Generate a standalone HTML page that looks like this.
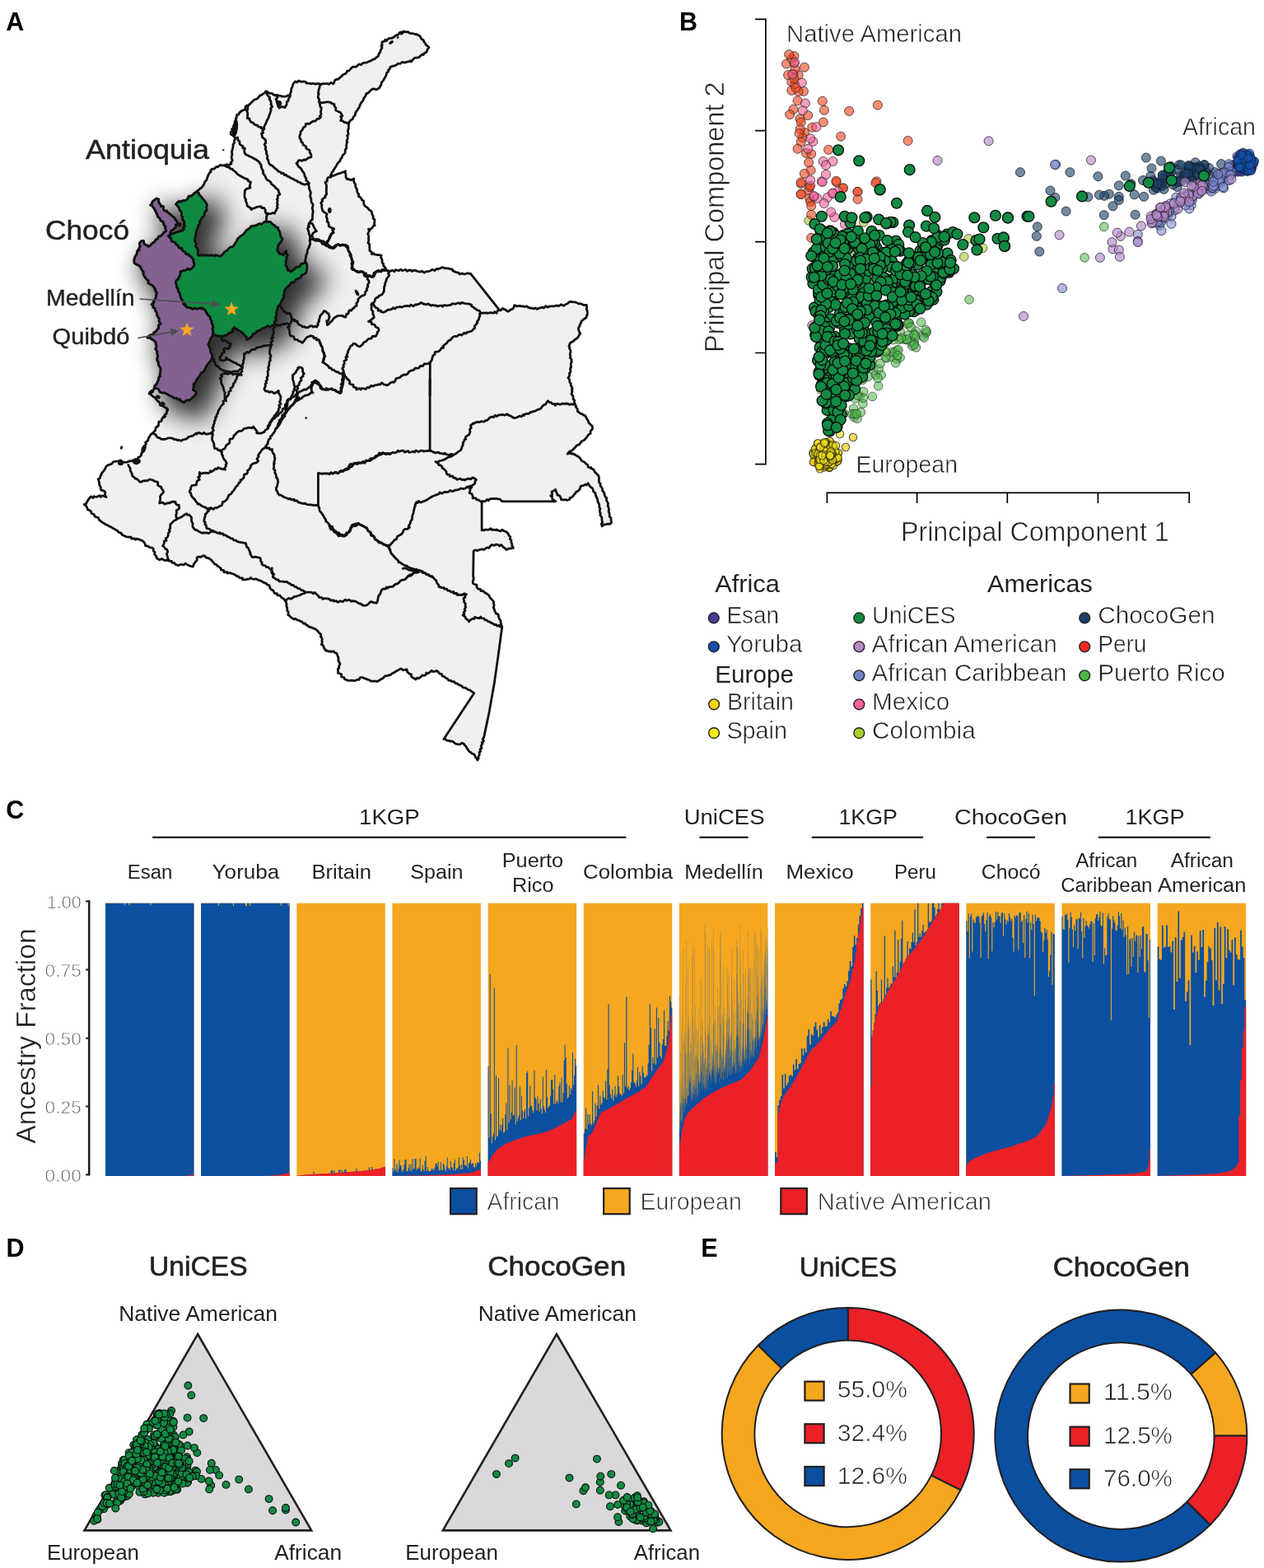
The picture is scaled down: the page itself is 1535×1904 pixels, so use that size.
<!DOCTYPE html>
<html lang="en">
<head>
<meta charset="utf-8">
<title>Genetic ancestry of Colombian populations</title>
<style>
html,body{margin:0;padding:0;background:#fff;}
body{width:1535px;height:1904px;overflow:hidden;}
svg{display:block;font-family:"Liberation Sans",sans-serif;}
</style>
</head>
<body>
<svg width="1535" height="1904" viewBox="0 0 1535 1904">
<text x="7.3" y="37.1" font-size="30.5" font-weight="bold" fill="#000">A</text>
<text x="825" y="36.8" font-size="30.5" font-weight="bold" fill="#000">B</text>
<text x="7.3" y="993.6" font-size="30.5" font-weight="bold" fill="#000">C</text>
<text x="7.6" y="1526.2" font-size="30.5" font-weight="bold" fill="#000">D</text>
<text x="851.2" y="1526.2" font-size="30.5" font-weight="bold" fill="#000">E</text>
<g stroke="#000" stroke-width="1.7" fill="none">
<path d="M917.1 23.4H929.9V563.6H917.1M917.1 158.6H929.9M917.1 293.6H929.9M917.1 428.5H929.9"/>
<path d="M1004.4 611.1V598.4H1444.2V611.1M1113.6 598.4V611.1M1223.3 598.4V611.1M1333.4 598.4V611.1"/>
</g>
<g fill="#f2cc14" fill-opacity="0.7" stroke="#2a2a10" stroke-opacity="0.8" stroke-width="1.1">
<circle cx="1009.4" cy="550.2" r="4.7"/><circle cx="992.0" cy="562.3" r="4.7"/><circle cx="992.0" cy="555.3" r="4.7"/><circle cx="1008.6" cy="558.0" r="4.7"/><circle cx="1001.0" cy="542.2" r="4.7"/><circle cx="1005.2" cy="546.9" r="4.7"/><circle cx="1003.6" cy="559.2" r="4.7"/><circle cx="1000.2" cy="545.2" r="4.7"/><circle cx="989.3" cy="555.3" r="4.7"/><circle cx="989.3" cy="560.9" r="4.7"/><circle cx="1006.1" cy="555.4" r="4.7"/><circle cx="998.3" cy="558.9" r="4.7"/><circle cx="999.6" cy="555.6" r="4.7"/><circle cx="1010.0" cy="561.2" r="4.7"/><circle cx="1002.2" cy="558.5" r="4.7"/><circle cx="1012.7" cy="548.8" r="4.7"/><circle cx="997.6" cy="549.5" r="4.7"/><circle cx="992.8" cy="539.0" r="4.7"/><circle cx="1011.1" cy="541.0" r="4.7"/><circle cx="1003.3" cy="548.0" r="4.7"/><circle cx="1009.3" cy="555.4" r="4.7"/><circle cx="987.7" cy="561.1" r="4.7"/><circle cx="1004.2" cy="554.8" r="4.7"/><circle cx="1005.1" cy="558.2" r="4.7"/><circle cx="1006.5" cy="538.8" r="4.7"/><circle cx="1002.0" cy="563.9" r="4.7"/><circle cx="999.2" cy="552.4" r="4.7"/><circle cx="997.4" cy="541.0" r="4.7"/><circle cx="999.5" cy="562.7" r="4.7"/><circle cx="1027.0" cy="543.0" r="4.7"/><circle cx="1002.1" cy="559.7" r="4.7"/><circle cx="996.6" cy="552.1" r="4.7"/><circle cx="1009.8" cy="554.5" r="4.7"/><circle cx="1002.8" cy="559.1" r="4.7"/><circle cx="994.0" cy="562.0" r="4.7"/><circle cx="1008.3" cy="550.5" r="4.7"/><circle cx="999.8" cy="550.2" r="4.7"/><circle cx="995.7" cy="549.1" r="4.7"/><circle cx="1002.4" cy="564.3" r="4.7"/><circle cx="997.4" cy="543.9" r="4.7"/><circle cx="1012.8" cy="544.1" r="4.7"/><circle cx="1012.5" cy="556.4" r="4.7"/><circle cx="993.6" cy="551.0" r="4.7"/><circle cx="1000.3" cy="567.6" r="4.7"/><circle cx="1005.0" cy="552.4" r="4.7"/><circle cx="1003.5" cy="556.7" r="4.7"/><circle cx="1007.1" cy="558.4" r="4.7"/><circle cx="1000.5" cy="562.1" r="4.7"/><circle cx="999.0" cy="557.9" r="4.7"/><circle cx="1007.4" cy="554.3" r="4.7"/><circle cx="993.9" cy="548.6" r="4.7"/><circle cx="999.8" cy="554.8" r="4.7"/><circle cx="1036.0" cy="531.0" r="4.7"/><circle cx="1009.7" cy="539.2" r="4.7"/><circle cx="1012.2" cy="543.2" r="4.7"/><circle cx="1005.9" cy="547.2" r="4.7"/><circle cx="999.2" cy="550.0" r="4.7"/><circle cx="1011.1" cy="560.1" r="4.7"/><circle cx="1003.4" cy="552.6" r="4.7"/><circle cx="996.8" cy="564.6" r="4.7"/><circle cx="987.4" cy="549.6" r="4.7"/><circle cx="1004.2" cy="555.3" r="4.7"/><circle cx="1009.9" cy="557.0" r="4.7"/><circle cx="1004.4" cy="538.8" r="4.7"/><circle cx="994.7" cy="559.0" r="4.7"/><circle cx="1013.8" cy="558.9" r="4.7"/><circle cx="990.0" cy="551.7" r="4.7"/><circle cx="995.7" cy="569.3" r="4.7"/><circle cx="1009.1" cy="541.9" r="4.7"/><circle cx="993.3" cy="548.0" r="4.7"/><circle cx="1007.1" cy="568.1" r="4.7"/><circle cx="1003.8" cy="554.4" r="4.7"/><circle cx="1009.3" cy="553.3" r="4.7"/><circle cx="1006.4" cy="562.0" r="4.7"/><circle cx="1012.5" cy="558.5" r="4.7"/><circle cx="998.2" cy="552.0" r="4.7"/><circle cx="1003.0" cy="557.1" r="4.7"/><circle cx="1005.9" cy="543.8" r="4.7"/><circle cx="1007.8" cy="567.2" r="4.7"/><circle cx="1002.0" cy="540.7" r="4.7"/><circle cx="1005.1" cy="557.7" r="4.7"/><circle cx="997.6" cy="559.2" r="4.7"/><circle cx="994.5" cy="555.3" r="4.7"/><circle cx="996.0" cy="546.0" r="4.7"/><circle cx="1000.9" cy="561.8" r="4.7"/><circle cx="1005.6" cy="553.0" r="4.7"/><circle cx="1007.7" cy="535.8" r="4.7"/><circle cx="1005.5" cy="564.4" r="4.7"/><circle cx="998.3" cy="556.7" r="4.7"/><circle cx="1003.9" cy="546.0" r="4.7"/><circle cx="1001.4" cy="565.4" r="4.7"/><circle cx="1005.4" cy="551.6" r="4.7"/>
</g>
<g fill="#f3e019" fill-opacity="0.65" stroke="#2a2a10" stroke-opacity="0.8" stroke-width="1.1">
<circle cx="1007.8" cy="559.6" r="4.7"/><circle cx="1012.1" cy="565.1" r="4.7"/><circle cx="1005.6" cy="544.3" r="4.7"/><circle cx="998.6" cy="561.2" r="4.7"/><circle cx="1005.3" cy="546.6" r="4.7"/><circle cx="994.6" cy="545.0" r="4.7"/><circle cx="1001.8" cy="557.9" r="4.7"/><circle cx="1016.2" cy="560.2" r="4.7"/><circle cx="1010.4" cy="545.6" r="4.7"/><circle cx="991.8" cy="544.7" r="4.7"/><circle cx="996.9" cy="555.9" r="4.7"/><circle cx="1006.7" cy="554.6" r="4.7"/><circle cx="1005.9" cy="561.7" r="4.7"/><circle cx="999.9" cy="538.0" r="4.7"/><circle cx="1017.6" cy="558.7" r="4.7"/><circle cx="1012.0" cy="498.0" r="4.7"/><circle cx="997.6" cy="559.4" r="4.7"/><circle cx="997.5" cy="556.4" r="4.7"/><circle cx="1002.5" cy="556.0" r="4.7"/><circle cx="1005.3" cy="558.8" r="4.7"/><circle cx="993.6" cy="554.5" r="4.7"/><circle cx="1011.7" cy="542.6" r="4.7"/><circle cx="1003.0" cy="537.1" r="4.7"/><circle cx="1002.5" cy="556.0" r="4.7"/><circle cx="1004.3" cy="539.8" r="4.7"/><circle cx="990.5" cy="544.9" r="4.7"/><circle cx="1006.6" cy="541.8" r="4.7"/><circle cx="1003.9" cy="552.2" r="4.7"/><circle cx="1003.1" cy="558.6" r="4.7"/><circle cx="1002.8" cy="556.7" r="4.7"/><circle cx="1017.3" cy="551.4" r="4.7"/><circle cx="987.8" cy="551.6" r="4.7"/><circle cx="1002.7" cy="549.1" r="4.7"/><circle cx="1001.1" cy="557.5" r="4.7"/><circle cx="1006.5" cy="549.2" r="4.7"/><circle cx="1012.9" cy="549.0" r="4.7"/><circle cx="995.0" cy="445.0" r="4.7"/><circle cx="1000.4" cy="558.5" r="4.7"/><circle cx="989.8" cy="545.3" r="4.7"/><circle cx="1016.6" cy="560.4" r="4.7"/><circle cx="1014.9" cy="557.7" r="4.7"/><circle cx="1000.6" cy="561.2" r="4.7"/><circle cx="1009.2" cy="558.1" r="4.7"/><circle cx="990.7" cy="549.9" r="4.7"/><circle cx="1010.2" cy="563.4" r="4.7"/><circle cx="1007.5" cy="559.6" r="4.7"/><circle cx="995.6" cy="557.6" r="4.7"/><circle cx="999.8" cy="541.7" r="4.7"/><circle cx="1007.5" cy="550.5" r="4.7"/><circle cx="1003.6" cy="563.6" r="4.7"/><circle cx="1004.6" cy="551.5" r="4.7"/><circle cx="994.9" cy="547.6" r="4.7"/><circle cx="997.2" cy="549.8" r="4.7"/><circle cx="993.4" cy="538.2" r="4.7"/><circle cx="1010.9" cy="549.3" r="4.7"/><circle cx="1005.3" cy="552.7" r="4.7"/><circle cx="1013.7" cy="557.3" r="4.7"/><circle cx="1001.5" cy="550.7" r="4.7"/><circle cx="1007.2" cy="560.5" r="4.7"/><circle cx="1014.6" cy="549.3" r="4.7"/><circle cx="1005.5" cy="545.2" r="4.7"/><circle cx="998.0" cy="551.0" r="4.7"/><circle cx="1018.1" cy="549.9" r="4.7"/><circle cx="995.8" cy="543.7" r="4.7"/><circle cx="1002.9" cy="558.9" r="4.7"/><circle cx="1011.2" cy="540.7" r="4.7"/><circle cx="1002.2" cy="545.3" r="4.7"/><circle cx="1000.0" cy="470.0" r="4.7"/><circle cx="1006.4" cy="561.0" r="4.7"/><circle cx="1001.9" cy="539.0" r="4.7"/><circle cx="1006.2" cy="554.9" r="4.7"/><circle cx="1002.1" cy="552.5" r="4.7"/><circle cx="1020.0" cy="527.0" r="4.7"/><circle cx="1003.4" cy="543.2" r="4.7"/><circle cx="1002.5" cy="560.9" r="4.7"/><circle cx="1000.6" cy="546.5" r="4.7"/><circle cx="997.0" cy="560.7" r="4.7"/><circle cx="1009.8" cy="556.1" r="4.7"/><circle cx="1016.5" cy="555.1" r="4.7"/><circle cx="995.8" cy="550.2" r="4.7"/><circle cx="1017.6" cy="555.9" r="4.7"/><circle cx="993.7" cy="552.8" r="4.7"/><circle cx="993.1" cy="550.9" r="4.7"/><circle cx="1014.4" cy="548.5" r="4.7"/><circle cx="1010.8" cy="551.1" r="4.7"/><circle cx="996.0" cy="553.5" r="4.7"/><circle cx="1003.0" cy="552.7" r="4.7"/><circle cx="1010.1" cy="552.0" r="4.7"/><circle cx="995.9" cy="565.8" r="4.7"/><circle cx="1007.0" cy="552.7" r="4.7"/><circle cx="994.7" cy="566.0" r="4.7"/><circle cx="1008.0" cy="555.6" r="4.7"/><circle cx="1009.3" cy="551.2" r="4.7"/><circle cx="1001.4" cy="539.0" r="4.7"/><circle cx="1015.0" cy="541.3" r="4.7"/><circle cx="996.2" cy="543.0" r="4.7"/><circle cx="995.6" cy="558.0" r="4.7"/><circle cx="1011.1" cy="558.5" r="4.7"/><circle cx="1008.8" cy="548.4" r="4.7"/><circle cx="1008.3" cy="554.1" r="4.7"/><circle cx="1000.3" cy="559.3" r="4.7"/><circle cx="998.3" cy="553.2" r="4.7"/><circle cx="1008.1" cy="553.0" r="4.7"/><circle cx="1001.1" cy="537.5" r="4.7"/>
</g>
<g fill="#a9cc2f" fill-opacity="0.6" stroke="#333" stroke-opacity="0.8" stroke-width="0.9">
<circle cx="1062.9" cy="341.0" r="5.3"/><circle cx="1062.0" cy="309.9" r="5.3"/><circle cx="996.1" cy="353.8" r="5.3"/><circle cx="1013.9" cy="351.7" r="5.3"/><circle cx="1019.8" cy="447.8" r="5.3"/><circle cx="1063.7" cy="350.4" r="5.3"/><circle cx="1001.9" cy="487.6" r="5.3"/><circle cx="1039.4" cy="376.5" r="5.3"/><circle cx="1018.6" cy="309.8" r="5.3"/><circle cx="1027.7" cy="367.6" r="5.3"/><circle cx="1014.9" cy="353.1" r="5.3"/><circle cx="1045.9" cy="425.6" r="5.3"/><circle cx="1004.2" cy="404.8" r="5.3"/><circle cx="1010.8" cy="481.2" r="5.3"/><circle cx="1076.3" cy="343.2" r="5.3"/><circle cx="1011.1" cy="416.3" r="5.3"/><circle cx="1031.4" cy="404.8" r="5.3"/><circle cx="1041.7" cy="392.9" r="5.3"/><circle cx="1026.1" cy="385.6" r="5.3"/><circle cx="1054.3" cy="315.5" r="5.3"/><circle cx="1048.8" cy="270.0" r="5.3"/><circle cx="1037.2" cy="368.7" r="5.3"/><circle cx="1055.6" cy="360.2" r="5.3"/><circle cx="1027.2" cy="378.6" r="5.3"/><circle cx="1170.8" cy="311.7" r="5.3"/><circle cx="996.7" cy="473.0" r="5.3"/><circle cx="1041.1" cy="338.0" r="5.3"/><circle cx="1065.0" cy="382.6" r="5.3"/><circle cx="1013.0" cy="306.2" r="5.3"/><circle cx="1039.7" cy="344.0" r="5.3"/><circle cx="1063.2" cy="390.2" r="5.3"/><circle cx="1075.9" cy="428.1" r="5.3"/><circle cx="1038.9" cy="300.7" r="5.3"/><circle cx="1006.7" cy="332.3" r="5.3"/><circle cx="1038.6" cy="305.0" r="5.3"/><circle cx="1011.0" cy="489.1" r="5.3"/><circle cx="1013.1" cy="479.5" r="5.3"/><circle cx="1040.3" cy="407.0" r="5.3"/><circle cx="1035.1" cy="360.4" r="5.3"/><circle cx="996.2" cy="355.5" r="5.3"/><circle cx="1193.7" cy="301.3" r="5.3"/><circle cx="1035.0" cy="327.9" r="5.3"/><circle cx="1057.6" cy="358.2" r="5.3"/><circle cx="1004.7" cy="350.8" r="5.3"/><circle cx="1064.3" cy="360.9" r="5.3"/><circle cx="998.8" cy="462.5" r="5.3"/><circle cx="1003.3" cy="372.1" r="5.3"/><circle cx="1176.0" cy="289.8" r="5.3"/><circle cx="1009.2" cy="318.1" r="5.3"/><circle cx="1079.4" cy="339.9" r="5.3"/><circle cx="1003.9" cy="404.8" r="5.3"/><circle cx="1024.2" cy="318.2" r="5.3"/><circle cx="997.4" cy="353.1" r="5.3"/><circle cx="996.7" cy="334.7" r="5.3"/><circle cx="1009.2" cy="494.9" r="5.3"/><circle cx="1034.9" cy="353.7" r="5.3"/><circle cx="1040.3" cy="425.9" r="5.3"/><circle cx="1037.9" cy="436.7" r="5.3"/><circle cx="1136.4" cy="280.9" r="5.3"/><circle cx="1004.1" cy="368.8" r="5.3"/><circle cx="1077.3" cy="304.4" r="5.3"/><circle cx="1046.8" cy="302.5" r="5.3"/><circle cx="1030.0" cy="389.2" r="5.3"/><circle cx="1036.6" cy="323.7" r="5.3"/><circle cx="1017.5" cy="309.7" r="5.3"/><circle cx="1055.9" cy="313.2" r="5.3"/><circle cx="1017.1" cy="349.7" r="5.3"/><circle cx="982.1" cy="267.9" r="5.3"/><circle cx="1082.7" cy="325.5" r="5.3"/><circle cx="1021.6" cy="468.0" r="5.3"/><circle cx="1045.7" cy="378.9" r="5.3"/><circle cx="1073.9" cy="324.0" r="5.3"/>
</g>
<g fill="#4db748" fill-opacity="0.55" stroke="#2a3a2a" stroke-opacity="0.8" stroke-width="0.9">
<circle cx="1073.7" cy="416.4" r="5.3"/><circle cx="1053.0" cy="444.2" r="5.3"/><circle cx="1031.7" cy="447.8" r="5.3"/><circle cx="1088.9" cy="425.2" r="5.3"/><circle cx="1043.7" cy="436.7" r="5.3"/><circle cx="1093.1" cy="402.4" r="5.3"/><circle cx="1047.8" cy="461.2" r="5.3"/><circle cx="1024.0" cy="483.7" r="5.3"/><circle cx="1075.7" cy="416.0" r="5.3"/><circle cx="1095.1" cy="411.9" r="5.3"/><circle cx="1120.9" cy="407.8" r="5.3"/><circle cx="1060.6" cy="449.5" r="5.3"/><circle cx="1089.2" cy="436.0" r="5.3"/><circle cx="1093.1" cy="434.1" r="5.3"/><circle cx="1036.6" cy="496.2" r="5.3"/><circle cx="1023.2" cy="474.8" r="5.3"/><circle cx="1030.3" cy="448.8" r="5.3"/><circle cx="1076.9" cy="434.7" r="5.3"/><circle cx="1124.7" cy="404.2" r="5.3"/><circle cx="1054.9" cy="432.0" r="5.3"/><circle cx="1059.4" cy="481.5" r="5.3"/><circle cx="1037.7" cy="473.0" r="5.3"/><circle cx="1104.3" cy="392.5" r="5.3"/><circle cx="1110.2" cy="415.9" r="5.3"/><circle cx="1034.5" cy="502.7" r="5.3"/><circle cx="1045.5" cy="445.9" r="5.3"/><circle cx="1047.8" cy="490.1" r="5.3"/><circle cx="1082.3" cy="433.4" r="5.3"/><circle cx="1044.4" cy="459.3" r="5.3"/><circle cx="1024.9" cy="502.1" r="5.3"/><circle cx="1112.3" cy="402.0" r="5.3"/><circle cx="1122.2" cy="410.0" r="5.3"/><circle cx="1023.4" cy="455.5" r="5.3"/><circle cx="1044.1" cy="481.0" r="5.3"/><circle cx="1125.2" cy="402.7" r="5.3"/><circle cx="1063.3" cy="455.2" r="5.3"/><circle cx="1057.0" cy="439.2" r="5.3"/><circle cx="1059.1" cy="438.7" r="5.3"/><circle cx="1054.2" cy="457.2" r="5.3"/><circle cx="1037.4" cy="506.7" r="5.3"/><circle cx="1083.5" cy="427.6" r="5.3"/><circle cx="1111.3" cy="410.0" r="5.3"/><circle cx="1038.3" cy="484.0" r="5.3"/><circle cx="1317.1" cy="312.8" r="5.3"/><circle cx="1086.7" cy="427.8" r="5.3"/><circle cx="1101.8" cy="393.4" r="5.3"/><circle cx="1091.0" cy="424.9" r="5.3"/><circle cx="1087.7" cy="440.7" r="5.3"/><circle cx="1044.3" cy="438.8" r="5.3"/><circle cx="1109.8" cy="405.2" r="5.3"/><circle cx="1103.2" cy="407.0" r="5.3"/><circle cx="1089.9" cy="431.7" r="5.3"/><circle cx="1024.2" cy="456.7" r="5.3"/><circle cx="1061.0" cy="428.3" r="5.3"/><circle cx="1020.1" cy="480.4" r="5.3"/><circle cx="1048.6" cy="475.6" r="5.3"/><circle cx="1340.7" cy="275.3" r="5.3"/><circle cx="1066.7" cy="468.5" r="5.3"/><circle cx="1048.4" cy="483.2" r="5.3"/><circle cx="1075.3" cy="434.0" r="5.3"/><circle cx="1118.7" cy="391.2" r="5.3"/><circle cx="1107.8" cy="420.1" r="5.3"/><circle cx="1103.3" cy="392.2" r="5.3"/><circle cx="1067.1" cy="448.2" r="5.3"/><circle cx="1100.1" cy="412.5" r="5.3"/><circle cx="1070.2" cy="455.3" r="5.3"/><circle cx="1106.5" cy="414.8" r="5.3"/><circle cx="1020.9" cy="466.8" r="5.3"/><circle cx="1041.0" cy="508.2" r="5.3"/><circle cx="1106.1" cy="397.2" r="5.3"/><circle cx="1177.0" cy="363.8" r="5.3"/><circle cx="1064.9" cy="422.3" r="5.3"/><circle cx="1101.2" cy="412.0" r="5.3"/><circle cx="1045.3" cy="500.6" r="5.3"/><circle cx="1094.6" cy="410.3" r="5.3"/><circle cx="1069.0" cy="441.4" r="5.3"/><circle cx="1022.2" cy="463.6" r="5.3"/><circle cx="1091.6" cy="412.5" r="5.3"/><circle cx="1084.7" cy="412.6" r="5.3"/><circle cx="1112.4" cy="421.9" r="5.3"/><circle cx="1029.5" cy="464.0" r="5.3"/><circle cx="1037.5" cy="502.7" r="5.3"/><circle cx="1041.4" cy="480.1" r="5.3"/><circle cx="1110.7" cy="407.2" r="5.3"/><circle cx="1030.2" cy="466.0" r="5.3"/><circle cx="1045.5" cy="438.8" r="5.3"/><circle cx="1032.4" cy="452.8" r="5.3"/><circle cx="1110.2" cy="418.7" r="5.3"/><circle cx="1066.1" cy="459.2" r="5.3"/><circle cx="1124.1" cy="400.5" r="5.3"/><circle cx="1075.5" cy="426.7" r="5.3"/><circle cx="1040.1" cy="502.6" r="5.3"/>
</g>
<g fill="#f0451f" fill-opacity="0.62" stroke="#3a2a25" stroke-opacity="0.8" stroke-width="1.0">
<circle cx="955.0" cy="77.5" r="5.5"/><circle cx="964.4" cy="76.5" r="5.5"/><circle cx="1023.8" cy="228.7" r="5.5"/><circle cx="983.2" cy="240.8" r="5.5"/><circle cx="976.9" cy="81.7" r="5.5"/><circle cx="985.2" cy="260.7" r="5.5"/><circle cx="961.3" cy="109.8" r="5.5"/><circle cx="961.3" cy="71.3" r="5.5"/><circle cx="1023.8" cy="228.3" r="5.5"/><circle cx="975.9" cy="110.9" r="5.5"/><circle cx="1041.5" cy="232.8" r="5.5"/><circle cx="979.0" cy="185.9" r="5.5"/><circle cx="985.2" cy="288.8" r="5.5"/><circle cx="969.6" cy="91.1" r="5.5"/><circle cx="1031.1" cy="134.9" r="5.5"/><circle cx="976.9" cy="160.9" r="5.5"/><circle cx="963.4" cy="132.8" r="5.5"/><circle cx="1006.1" cy="181.8" r="5.5"/><circle cx="971.7" cy="144.2" r="5.5"/><circle cx="982.1" cy="230.7" r="5.5"/><circle cx="959.2" cy="139.0" r="5.5"/><circle cx="972.7" cy="235.6" r="5.5"/><circle cx="1102.6" cy="170.9" r="5.5"/><circle cx="1015.5" cy="221.0" r="5.5"/><circle cx="961.3" cy="99.4" r="5.5"/><circle cx="964.4" cy="68.1" r="5.5"/><circle cx="972.7" cy="236.0" r="5.5"/><circle cx="972.7" cy="223.1" r="5.5"/><circle cx="990.5" cy="320.1" r="5.5"/><circle cx="968.6" cy="122.3" r="5.5"/><circle cx="963.4" cy="90.0" r="5.5"/><circle cx="1041.5" cy="232.9" r="5.5"/><circle cx="1000.9" cy="133.8" r="5.5"/><circle cx="983.2" cy="227.3" r="5.5"/><circle cx="986.3" cy="154.7" r="5.5"/><circle cx="957.1" cy="91.1" r="5.5"/><circle cx="998.8" cy="122.8" r="5.5"/><circle cx="984.2" cy="225.5" r="5.5"/><circle cx="974.8" cy="167.2" r="5.5"/><circle cx="984.2" cy="245.0" r="5.5"/><circle cx="985.2" cy="187.0" r="5.5"/><circle cx="965.4" cy="102.5" r="5.5"/><circle cx="965.4" cy="83.8" r="5.5"/><circle cx="984.6" cy="206.8" r="5.5"/><circle cx="969.6" cy="110.9" r="5.5"/><circle cx="972.7" cy="148.4" r="5.5"/><circle cx="1021.1" cy="165.7" r="5.5"/><circle cx="985.2" cy="250.2" r="5.5"/><circle cx="1065.9" cy="127.6" r="5.5"/><circle cx="966.5" cy="106.7" r="5.5"/><circle cx="971.7" cy="156.7" r="5.5"/><circle cx="958.1" cy="66.1" r="5.5"/><circle cx="999.8" cy="148.4" r="5.5"/><circle cx="1064.5" cy="220.3" r="5.5"/><circle cx="972.7" cy="172.4" r="5.5"/><circle cx="1015.5" cy="219.7" r="5.5"/><circle cx="976.9" cy="210.9" r="5.5"/><circle cx="982.1" cy="197.4" r="5.5"/><circle cx="968.6" cy="180.7" r="5.5"/><circle cx="1063.4" cy="222.1" r="5.5"/><circle cx="981.1" cy="140.1" r="5.5"/><circle cx="970.7" cy="162.0" r="5.5"/><circle cx="964.4" cy="95.2" r="5.5"/><circle cx="972.7" cy="221.4" r="5.5"/><circle cx="1041.5" cy="241.9" r="5.5"/>
</g>
<g fill="#f0609a" fill-opacity="0.6" stroke="#3a2a30" stroke-opacity="0.8" stroke-width="1.0">
<circle cx="1013.4" cy="263.8" r="5.5"/><circle cx="988.4" cy="238.8" r="5.5"/><circle cx="977.9" cy="125.5" r="5.5"/><circle cx="999.8" cy="195.9" r="5.5"/><circle cx="987.3" cy="171.8" r="5.5"/><circle cx="1025.9" cy="272.1" r="5.5"/><circle cx="965.0" cy="75.9" r="5.5"/><circle cx="1030.1" cy="296.1" r="5.5"/><circle cx="981.1" cy="180.7" r="5.5"/><circle cx="1022.8" cy="284.6" r="5.5"/><circle cx="962.3" cy="90.4" r="5.5"/><circle cx="992.5" cy="240.8" r="5.5"/><circle cx="1009.2" cy="257.5" r="5.5"/><circle cx="991.5" cy="154.2" r="5.5"/><circle cx="1005.0" cy="239.8" r="5.5"/><circle cx="973.8" cy="100.5" r="5.5"/><circle cx="986.3" cy="395.1" r="5.5"/><circle cx="1011.3" cy="195.9" r="5.5"/><circle cx="997.8" cy="220.3" r="5.5"/><circle cx="1017.6" cy="232.5" r="5.5"/><circle cx="1011.3" cy="234.9" r="5.5"/><circle cx="984.2" cy="218.9" r="5.5"/><circle cx="984.2" cy="168.2" r="5.5"/><circle cx="974.8" cy="134.2" r="5.5"/><circle cx="1011.3" cy="234.6" r="5.5"/><circle cx="998.8" cy="221.0" r="5.5"/><circle cx="1000.9" cy="247.1" r="5.5"/><circle cx="1003.0" cy="212.0" r="5.5"/><circle cx="988.4" cy="238.0" r="5.5"/><circle cx="1003.0" cy="200.5" r="5.5"/>
</g>
<g fill="#3f3a93" fill-opacity="0.6" stroke="#1a1a3a" stroke-opacity="0.8" stroke-width="0.9">
<circle cx="1512.1" cy="207.8" r="5.0"/><circle cx="1509.9" cy="193.2" r="5.0"/><circle cx="1511.3" cy="200.1" r="5.0"/><circle cx="1506.1" cy="203.2" r="5.0"/><circle cx="1509.8" cy="191.7" r="5.0"/><circle cx="1515.4" cy="191.7" r="5.0"/><circle cx="1512.8" cy="207.5" r="5.0"/><circle cx="1497.8" cy="201.4" r="5.0"/><circle cx="1500.4" cy="203.0" r="5.0"/><circle cx="1511.6" cy="195.3" r="5.0"/><circle cx="1520.0" cy="204.6" r="5.0"/><circle cx="1503.2" cy="191.7" r="5.0"/><circle cx="1505.0" cy="196.6" r="5.0"/><circle cx="1513.4" cy="197.7" r="5.0"/><circle cx="1514.2" cy="195.0" r="5.0"/><circle cx="1509.6" cy="191.9" r="5.0"/><circle cx="1516.6" cy="200.3" r="5.0"/><circle cx="1498.4" cy="199.6" r="5.0"/><circle cx="1515.0" cy="199.7" r="5.0"/><circle cx="1503.4" cy="196.7" r="5.0"/><circle cx="1504.2" cy="207.3" r="5.0"/><circle cx="1510.2" cy="194.6" r="5.0"/><circle cx="1509.1" cy="208.3" r="5.0"/><circle cx="1510.5" cy="202.0" r="5.0"/><circle cx="1520.5" cy="203.0" r="5.0"/><circle cx="1506.0" cy="201.7" r="5.0"/><circle cx="1511.7" cy="195.4" r="5.0"/><circle cx="1502.2" cy="208.1" r="5.0"/><circle cx="1522.5" cy="199.5" r="5.0"/><circle cx="1506.5" cy="189.0" r="5.0"/><circle cx="1504.5" cy="208.3" r="5.0"/><circle cx="1500.7" cy="198.6" r="5.0"/><circle cx="1510.2" cy="200.8" r="5.0"/><circle cx="1505.9" cy="186.9" r="5.0"/><circle cx="1514.4" cy="199.0" r="5.0"/><circle cx="1512.1" cy="188.9" r="5.0"/><circle cx="1505.7" cy="193.4" r="5.0"/><circle cx="1513.4" cy="201.8" r="5.0"/><circle cx="1517.1" cy="204.9" r="5.0"/><circle cx="1499.7" cy="203.4" r="5.0"/><circle cx="1510.8" cy="198.2" r="5.0"/><circle cx="1501.9" cy="189.9" r="5.0"/><circle cx="1507.9" cy="209.1" r="5.0"/><circle cx="1510.9" cy="200.2" r="5.0"/><circle cx="1507.1" cy="205.2" r="5.0"/><circle cx="1505.8" cy="187.2" r="5.0"/><circle cx="1512.4" cy="200.7" r="5.0"/><circle cx="1504.4" cy="196.7" r="5.0"/><circle cx="1517.5" cy="199.2" r="5.0"/><circle cx="1516.8" cy="189.3" r="5.0"/><circle cx="1519.8" cy="194.9" r="5.0"/><circle cx="1506.4" cy="195.1" r="5.0"/><circle cx="1517.5" cy="197.3" r="5.0"/><circle cx="1511.8" cy="196.8" r="5.0"/><circle cx="1505.6" cy="197.9" r="5.0"/><circle cx="1511.9" cy="191.3" r="5.0"/><circle cx="1518.2" cy="199.6" r="5.0"/><circle cx="1506.7" cy="190.4" r="5.0"/><circle cx="1508.0" cy="202.0" r="5.0"/><circle cx="1518.0" cy="202.5" r="5.0"/><circle cx="1517.7" cy="201.2" r="5.0"/><circle cx="1508.0" cy="204.1" r="5.0"/><circle cx="1509.0" cy="203.4" r="5.0"/><circle cx="1514.4" cy="198.0" r="5.0"/><circle cx="1513.0" cy="206.0" r="5.0"/><circle cx="1509.7" cy="203.8" r="5.0"/><circle cx="1503.0" cy="209.1" r="5.0"/><circle cx="1511.9" cy="199.3" r="5.0"/><circle cx="1507.6" cy="191.7" r="5.0"/><circle cx="1508.8" cy="194.0" r="5.0"/>
</g>
<g fill="#1452ad" fill-opacity="0.65" stroke="#10203a" stroke-opacity="0.8" stroke-width="0.9">
<circle cx="1518.4" cy="189.2" r="5.0"/><circle cx="1509.6" cy="185.0" r="5.0"/><circle cx="1509.7" cy="205.4" r="5.0"/><circle cx="1505.4" cy="198.6" r="5.0"/><circle cx="1515.8" cy="205.7" r="5.0"/><circle cx="1504.1" cy="192.2" r="5.0"/><circle cx="1509.5" cy="196.5" r="5.0"/><circle cx="1508.6" cy="192.4" r="5.0"/><circle cx="1513.7" cy="204.2" r="5.0"/><circle cx="1515.8" cy="192.9" r="5.0"/><circle cx="1515.1" cy="208.5" r="5.0"/><circle cx="1514.0" cy="190.7" r="5.0"/><circle cx="1509.7" cy="200.5" r="5.0"/><circle cx="1503.8" cy="194.4" r="5.0"/><circle cx="1518.3" cy="193.2" r="5.0"/><circle cx="1516.1" cy="203.1" r="5.0"/><circle cx="1522.6" cy="195.4" r="5.0"/><circle cx="1504.8" cy="201.8" r="5.0"/><circle cx="1516.5" cy="190.1" r="5.0"/><circle cx="1518.1" cy="200.9" r="5.0"/><circle cx="1508.8" cy="191.4" r="5.0"/><circle cx="1508.1" cy="198.1" r="5.0"/><circle cx="1508.5" cy="191.6" r="5.0"/><circle cx="1515.0" cy="195.2" r="5.0"/><circle cx="1518.1" cy="203.9" r="5.0"/><circle cx="1514.8" cy="202.1" r="5.0"/><circle cx="1519.8" cy="194.1" r="5.0"/><circle cx="1513.2" cy="187.6" r="5.0"/><circle cx="1510.0" cy="196.0" r="5.0"/><circle cx="1512.1" cy="201.8" r="5.0"/><circle cx="1522.6" cy="197.2" r="5.0"/><circle cx="1511.2" cy="200.7" r="5.0"/><circle cx="1519.2" cy="197.6" r="5.0"/><circle cx="1509.8" cy="199.8" r="5.0"/><circle cx="1520.1" cy="205.2" r="5.0"/><circle cx="1507.1" cy="200.3" r="5.0"/><circle cx="1509.1" cy="192.6" r="5.0"/><circle cx="1516.6" cy="205.7" r="5.0"/><circle cx="1523.6" cy="195.8" r="5.0"/><circle cx="1519.8" cy="194.1" r="5.0"/><circle cx="1516.1" cy="188.4" r="5.0"/><circle cx="1510.2" cy="201.1" r="5.0"/><circle cx="1511.7" cy="198.7" r="5.0"/><circle cx="1509.6" cy="198.9" r="5.0"/><circle cx="1514.9" cy="186.9" r="5.0"/><circle cx="1517.7" cy="202.2" r="5.0"/><circle cx="1514.0" cy="196.1" r="5.0"/><circle cx="1514.6" cy="207.6" r="5.0"/><circle cx="1516.3" cy="193.8" r="5.0"/><circle cx="1514.4" cy="187.0" r="5.0"/><circle cx="1512.3" cy="190.1" r="5.0"/><circle cx="1515.0" cy="200.1" r="5.0"/><circle cx="1511.8" cy="198.1" r="5.0"/><circle cx="1519.3" cy="202.0" r="5.0"/><circle cx="1509.6" cy="186.2" r="5.0"/><circle cx="1513.1" cy="202.8" r="5.0"/><circle cx="1519.5" cy="207.4" r="5.0"/><circle cx="1504.5" cy="196.3" r="5.0"/><circle cx="1509.2" cy="199.2" r="5.0"/><circle cx="1512.1" cy="203.5" r="5.0"/><circle cx="1509.9" cy="201.7" r="5.0"/><circle cx="1517.6" cy="186.1" r="5.0"/><circle cx="1514.2" cy="188.5" r="5.0"/><circle cx="1510.5" cy="189.8" r="5.0"/><circle cx="1504.4" cy="203.8" r="5.0"/><circle cx="1507.8" cy="204.4" r="5.0"/><circle cx="1515.3" cy="206.6" r="5.0"/><circle cx="1514.3" cy="201.9" r="5.0"/><circle cx="1518.6" cy="206.6" r="5.0"/><circle cx="1516.2" cy="199.8" r="5.0"/><circle cx="1518.8" cy="192.5" r="5.0"/><circle cx="1508.1" cy="200.8" r="5.0"/><circle cx="1520.3" cy="198.9" r="5.0"/><circle cx="1505.1" cy="203.9" r="5.0"/><circle cx="1517.7" cy="200.8" r="5.0"/><circle cx="1509.9" cy="193.4" r="5.0"/><circle cx="1503.1" cy="194.9" r="5.0"/><circle cx="1515.8" cy="191.7" r="5.0"/><circle cx="1507.8" cy="187.9" r="5.0"/><circle cx="1504.9" cy="203.0" r="5.0"/>
</g>
<g fill="#1d4166" fill-opacity="0.62" stroke="#111c2a" stroke-opacity="0.8" stroke-width="1.0">
<circle cx="1422.7" cy="208.5" r="5.5"/><circle cx="1446.4" cy="203.0" r="5.5"/><circle cx="1429.6" cy="227.0" r="5.5"/><circle cx="1405.2" cy="228.7" r="5.5"/><circle cx="1391.8" cy="191.5" r="5.5"/><circle cx="1258.8" cy="286.8" r="5.5"/><circle cx="1434.0" cy="212.9" r="5.5"/><circle cx="1449.8" cy="202.8" r="5.5"/><circle cx="1333.4" cy="214.2" r="5.5"/><circle cx="1468.2" cy="203.9" r="5.5"/><circle cx="1321.3" cy="239.2" r="5.5"/><circle cx="1259.8" cy="275.3" r="5.5"/><circle cx="1458.4" cy="208.0" r="5.5"/><circle cx="1377.6" cy="236.3" r="5.5"/><circle cx="1275.5" cy="231.5" r="5.5"/><circle cx="1444.1" cy="212.7" r="5.5"/><circle cx="1401.5" cy="221.0" r="5.5"/><circle cx="1346.8" cy="235.7" r="5.5"/><circle cx="1406.0" cy="223.3" r="5.5"/><circle cx="1456.6" cy="218.1" r="5.5"/><circle cx="1445.5" cy="213.0" r="5.5"/><circle cx="1438.4" cy="212.7" r="5.5"/><circle cx="1417.8" cy="209.5" r="5.5"/><circle cx="1453.5" cy="203.5" r="5.5"/><circle cx="1411.6" cy="226.0" r="5.5"/><circle cx="1412.1" cy="213.1" r="5.5"/><circle cx="1429.8" cy="205.8" r="5.5"/><circle cx="1441.3" cy="217.0" r="5.5"/><circle cx="1442.8" cy="213.4" r="5.5"/><circle cx="1424.7" cy="224.3" r="5.5"/><circle cx="1456.6" cy="206.7" r="5.5"/><circle cx="1411.8" cy="219.6" r="5.5"/><circle cx="1483.1" cy="199.1" r="5.5"/><circle cx="1409.9" cy="195.5" r="5.5"/><circle cx="1389.1" cy="238.8" r="5.5"/><circle cx="1403.5" cy="226.7" r="5.5"/><circle cx="1437.0" cy="213.8" r="5.5"/><circle cx="1457.5" cy="220.6" r="5.5"/><circle cx="1435.2" cy="219.8" r="5.5"/><circle cx="1441.9" cy="206.3" r="5.5"/><circle cx="1400.4" cy="219.1" r="5.5"/><circle cx="1451.7" cy="197.3" r="5.5"/><circle cx="1262.3" cy="305.5" r="5.5"/><circle cx="1400.8" cy="230.7" r="5.5"/><circle cx="1281.3" cy="239.9" r="5.5"/><circle cx="1358.8" cy="225.3" r="5.5"/><circle cx="1448.3" cy="216.2" r="5.5"/><circle cx="1341.1" cy="237.8" r="5.5"/><circle cx="1443.4" cy="203.5" r="5.5"/><circle cx="1358.8" cy="238.8" r="5.5"/><circle cx="1431.8" cy="200.3" r="5.5"/><circle cx="1459.1" cy="204.1" r="5.5"/><circle cx="1456.9" cy="201.7" r="5.5"/><circle cx="1366.8" cy="213.4" r="5.5"/><circle cx="1462.7" cy="200.0" r="5.5"/><circle cx="1378.6" cy="260.7" r="5.5"/><circle cx="1239.0" cy="209.2" r="5.5"/><circle cx="1445.7" cy="214.6" r="5.5"/><circle cx="1398.5" cy="204.4" r="5.5"/><circle cx="1415.4" cy="215.2" r="5.5"/><circle cx="1413.4" cy="229.8" r="5.5"/><circle cx="1453.0" cy="204.0" r="5.5"/><circle cx="1299.4" cy="209.2" r="5.5"/><circle cx="1415.9" cy="223.0" r="5.5"/><circle cx="1446.5" cy="213.4" r="5.5"/><circle cx="1463.8" cy="206.5" r="5.5"/><circle cx="1438.5" cy="215.8" r="5.5"/><circle cx="1358.8" cy="243.0" r="5.5"/><circle cx="1453.4" cy="204.8" r="5.5"/><circle cx="1492.2" cy="209.1" r="5.5"/><circle cx="1448.8" cy="206.4" r="5.5"/><circle cx="1443.7" cy="200.9" r="5.5"/><circle cx="1403.5" cy="227.6" r="5.5"/><circle cx="1453.8" cy="210.9" r="5.5"/><circle cx="1464.4" cy="209.9" r="5.5"/><circle cx="1429.6" cy="220.6" r="5.5"/><circle cx="1419.6" cy="211.4" r="5.5"/><circle cx="1409.1" cy="224.1" r="5.5"/><circle cx="1491.8" cy="208.0" r="5.5"/><circle cx="1421.9" cy="201.9" r="5.5"/><circle cx="1443.4" cy="202.0" r="5.5"/><circle cx="1462.0" cy="200.7" r="5.5"/><circle cx="1400.7" cy="222.8" r="5.5"/><circle cx="1441.6" cy="211.1" r="5.5"/><circle cx="1454.7" cy="213.2" r="5.5"/><circle cx="1388.0" cy="219.0" r="5.5"/><circle cx="1469.9" cy="213.9" r="5.5"/><circle cx="1434.4" cy="200.3" r="5.5"/><circle cx="1415.8" cy="212.3" r="5.5"/><circle cx="1432.6" cy="219.1" r="5.5"/><circle cx="1418.3" cy="210.5" r="5.5"/><circle cx="1411.6" cy="216.1" r="5.5"/><circle cx="1430.9" cy="221.0" r="5.5"/><circle cx="1340.7" cy="261.1" r="5.5"/><circle cx="1493.2" cy="201.2" r="5.5"/><circle cx="1443.6" cy="210.8" r="5.5"/><circle cx="1457.7" cy="205.0" r="5.5"/><circle cx="1456.8" cy="205.6" r="5.5"/><circle cx="1475.5" cy="209.1" r="5.5"/><circle cx="1411.8" cy="212.5" r="5.5"/><circle cx="1397.3" cy="213.9" r="5.5"/><circle cx="1373.4" cy="223.2" r="5.5"/><circle cx="1334.9" cy="236.7" r="5.5"/><circle cx="1351.5" cy="250.3" r="5.5"/><circle cx="1405.9" cy="223.2" r="5.5"/><circle cx="1462.0" cy="219.4" r="5.5"/><circle cx="1294.6" cy="256.5" r="5.5"/><circle cx="1440.1" cy="210.9" r="5.5"/><circle cx="1448.1" cy="220.1" r="5.5"/>
</g>
<g fill="#7c88d0" fill-opacity="0.6" stroke="#22263a" stroke-opacity="0.8" stroke-width="1.0">
<circle cx="1485.9" cy="210.5" r="5.5"/><circle cx="1409.6" cy="264.1" r="5.5"/><circle cx="1412.6" cy="253.6" r="5.5"/><circle cx="1491.1" cy="218.5" r="5.5"/><circle cx="1400.0" cy="266.9" r="5.5"/><circle cx="1290.0" cy="350.0" r="5.5"/><circle cx="1495.6" cy="208.2" r="5.5"/><circle cx="1426.4" cy="252.4" r="5.5"/><circle cx="1403.7" cy="260.7" r="5.5"/><circle cx="1434.1" cy="242.6" r="5.5"/><circle cx="1407.4" cy="261.1" r="5.5"/><circle cx="1408.0" cy="273.7" r="5.5"/><circle cx="1462.4" cy="225.8" r="5.5"/><circle cx="1465.1" cy="229.0" r="5.5"/><circle cx="1475.8" cy="228.9" r="5.5"/><circle cx="1480.9" cy="220.0" r="5.5"/><circle cx="1446.6" cy="249.1" r="5.5"/><circle cx="1476.8" cy="225.8" r="5.5"/><circle cx="1492.3" cy="199.2" r="5.5"/><circle cx="1459.2" cy="230.5" r="5.5"/><circle cx="1410.5" cy="280.1" r="5.5"/><circle cx="1436.4" cy="243.3" r="5.5"/><circle cx="1477.5" cy="222.2" r="5.5"/><circle cx="1444.3" cy="253.4" r="5.5"/><circle cx="1483.5" cy="221.9" r="5.5"/><circle cx="1405.6" cy="265.9" r="5.5"/><circle cx="1415.1" cy="260.4" r="5.5"/><circle cx="1470.3" cy="230.0" r="5.5"/><circle cx="1475.6" cy="218.0" r="5.5"/><circle cx="1478.2" cy="218.9" r="5.5"/><circle cx="1495.1" cy="212.4" r="5.5"/><circle cx="1470.9" cy="232.6" r="5.5"/><circle cx="1426.3" cy="245.6" r="5.5"/><circle cx="1450.8" cy="235.4" r="5.5"/><circle cx="1495.7" cy="208.9" r="5.5"/><circle cx="1434.5" cy="242.3" r="5.5"/><circle cx="1403.9" cy="261.0" r="5.5"/><circle cx="1456.4" cy="233.5" r="5.5"/><circle cx="1438.6" cy="236.6" r="5.5"/><circle cx="1479.8" cy="222.7" r="5.5"/><circle cx="1481.9" cy="210.6" r="5.5"/><circle cx="1458.6" cy="232.0" r="5.5"/><circle cx="1404.4" cy="270.6" r="5.5"/><circle cx="1492.1" cy="203.1" r="5.5"/><circle cx="1447.0" cy="240.9" r="5.5"/><circle cx="1418.3" cy="260.9" r="5.5"/><circle cx="1439.6" cy="249.2" r="5.5"/><circle cx="1486.5" cy="211.1" r="5.5"/><circle cx="1458.1" cy="229.5" r="5.5"/><circle cx="1483.1" cy="209.9" r="5.5"/><circle cx="1400.9" cy="265.5" r="5.5"/><circle cx="1418.4" cy="257.8" r="5.5"/><circle cx="1456.5" cy="232.6" r="5.5"/><circle cx="1381.8" cy="284.7" r="5.5"/><circle cx="1483.9" cy="211.7" r="5.5"/><circle cx="1486.7" cy="209.4" r="5.5"/><circle cx="1422.5" cy="263.0" r="5.5"/><circle cx="1381.8" cy="293.0" r="5.5"/><circle cx="1471.5" cy="228.2" r="5.5"/><circle cx="1495.1" cy="212.0" r="5.5"/><circle cx="1482.2" cy="217.4" r="5.5"/><circle cx="1455.8" cy="235.5" r="5.5"/><circle cx="1493.5" cy="212.6" r="5.5"/><circle cx="1411.2" cy="267.7" r="5.5"/><circle cx="1409.6" cy="270.3" r="5.5"/><circle cx="1472.1" cy="225.1" r="5.5"/><circle cx="1282.1" cy="199.8" r="5.5"/><circle cx="1480.7" cy="219.5" r="5.5"/><circle cx="1426.9" cy="255.3" r="5.5"/><circle cx="1461.0" cy="226.9" r="5.5"/><circle cx="1419.4" cy="257.5" r="5.5"/><circle cx="1492.7" cy="219.2" r="5.5"/><circle cx="1466.6" cy="225.5" r="5.5"/><circle cx="1407.9" cy="257.1" r="5.5"/><circle cx="1472.1" cy="225.6" r="5.5"/><circle cx="1479.2" cy="211.6" r="5.5"/><circle cx="1422.5" cy="271.8" r="5.5"/><circle cx="1281.0" cy="200.0" r="5.5"/><circle cx="1406.3" cy="269.0" r="5.5"/><circle cx="1472.6" cy="228.2" r="5.5"/><circle cx="1428.2" cy="239.7" r="5.5"/><circle cx="1473.9" cy="225.8" r="5.5"/><circle cx="1473.5" cy="220.5" r="5.5"/><circle cx="1447.7" cy="243.1" r="5.5"/><circle cx="1448.4" cy="238.4" r="5.5"/><circle cx="1486.0" cy="228.4" r="5.5"/><circle cx="1485.2" cy="227.0" r="5.5"/>
</g>
<g fill="#b48bc9" fill-opacity="0.65" stroke="#2e2436" stroke-opacity="0.8" stroke-width="1.0">
<circle cx="1417.2" cy="257.6" r="5.5"/><circle cx="1421.3" cy="247.2" r="5.5"/><circle cx="1448.7" cy="237.9" r="5.5"/><circle cx="1411.0" cy="263.8" r="5.5"/><circle cx="1461.3" cy="225.9" r="5.5"/><circle cx="1243.0" cy="384.0" r="5.5"/><circle cx="1413.9" cy="263.9" r="5.5"/><circle cx="1458.9" cy="230.5" r="5.5"/><circle cx="1405.0" cy="262.1" r="5.5"/><circle cx="1457.6" cy="225.8" r="5.5"/><circle cx="1430.4" cy="253.8" r="5.5"/><circle cx="1360.9" cy="286.8" r="5.5"/><circle cx="1351.5" cy="302.4" r="5.5"/><circle cx="1407.2" cy="262.9" r="5.5"/><circle cx="1443.3" cy="235.3" r="5.5"/><circle cx="1452.7" cy="228.4" r="5.5"/><circle cx="1324.9" cy="194.4" r="5.5"/><circle cx="1452.7" cy="224.5" r="5.5"/><circle cx="1358.8" cy="303.5" r="5.5"/><circle cx="1457.8" cy="222.1" r="5.5"/><circle cx="1433.9" cy="246.1" r="5.5"/><circle cx="1408.1" cy="262.9" r="5.5"/><circle cx="1403.4" cy="260.2" r="5.5"/><circle cx="1350.5" cy="294.1" r="5.5"/><circle cx="1413.1" cy="260.1" r="5.5"/><circle cx="1443.7" cy="237.0" r="5.5"/><circle cx="1457.7" cy="226.2" r="5.5"/><circle cx="1416.0" cy="249.8" r="5.5"/><circle cx="1371.4" cy="281.6" r="5.5"/><circle cx="1359.9" cy="311.8" r="5.5"/><circle cx="1414.1" cy="258.9" r="5.5"/><circle cx="1138.5" cy="194.9" r="5.5"/><circle cx="1413.2" cy="262.7" r="5.5"/><circle cx="1439.1" cy="221.1" r="5.5"/><circle cx="1413.8" cy="252.4" r="5.5"/><circle cx="1425.6" cy="247.2" r="5.5"/><circle cx="1454.2" cy="229.3" r="5.5"/><circle cx="1460.0" cy="224.9" r="5.5"/><circle cx="1454.9" cy="235.0" r="5.5"/><circle cx="1398.5" cy="271.3" r="5.5"/><circle cx="1399.5" cy="270.1" r="5.5"/><circle cx="1397.7" cy="262.7" r="5.5"/><circle cx="1397.5" cy="266.1" r="5.5"/><circle cx="1335.9" cy="312.8" r="5.5"/><circle cx="1439.1" cy="239.4" r="5.5"/><circle cx="1286.5" cy="285.3" r="5.5"/><circle cx="1404.9" cy="260.0" r="5.5"/><circle cx="1409.2" cy="252.0" r="5.5"/><circle cx="1459.5" cy="232.1" r="5.5"/><circle cx="1385.9" cy="274.3" r="5.5"/><circle cx="1405.9" cy="263.1" r="5.5"/><circle cx="1449.7" cy="226.8" r="5.5"/><circle cx="1495.4" cy="217.6" r="5.5"/><circle cx="1447.0" cy="225.5" r="5.5"/><circle cx="1200.6" cy="171.3" r="5.5"/><circle cx="1404.6" cy="261.2" r="5.5"/><circle cx="1381.8" cy="294.1" r="5.5"/><circle cx="1434.2" cy="239.2" r="5.5"/><circle cx="1434.7" cy="240.9" r="5.5"/><circle cx="1437.9" cy="234.4" r="5.5"/><circle cx="1356.8" cy="282.6" r="5.5"/><circle cx="1444.3" cy="245.1" r="5.5"/><circle cx="1415.6" cy="251.5" r="5.5"/><circle cx="1409.3" cy="251.8" r="5.5"/><circle cx="1433.3" cy="244.4" r="5.5"/>
</g>
<g fill="#118a43" stroke="#0a0a0a" stroke-width="1.3">
<circle cx="1130.4" cy="319.4" r="6.4"/><circle cx="1030.9" cy="423.1" r="6.4"/><circle cx="1000.4" cy="347.1" r="6.4"/><circle cx="1113.2" cy="376.0" r="6.4"/><circle cx="1021.0" cy="340.1" r="6.4"/><circle cx="1031.2" cy="368.6" r="6.4"/><circle cx="1131.7" cy="315.2" r="6.4"/><circle cx="1013.8" cy="346.4" r="6.4"/><circle cx="1043.5" cy="410.1" r="6.4"/><circle cx="1051.0" cy="339.4" r="6.4"/><circle cx="1117.5" cy="307.2" r="6.4"/><circle cx="1138.9" cy="297.2" r="6.4"/><circle cx="1141.6" cy="340.9" r="6.4"/><circle cx="1023.1" cy="480.3" r="6.4"/><circle cx="1146.8" cy="291.5" r="6.4"/><circle cx="1131.9" cy="353.6" r="6.4"/><circle cx="1002.9" cy="305.2" r="6.4"/><circle cx="987.4" cy="344.3" r="6.4"/><circle cx="989.9" cy="312.2" r="6.4"/><circle cx="1045.3" cy="313.8" r="6.4"/><circle cx="1089.6" cy="343.5" r="6.4"/><circle cx="1016.3" cy="452.8" r="6.4"/><circle cx="1218.8" cy="288.9" r="6.4"/><circle cx="997.8" cy="467.0" r="6.4"/><circle cx="1027.0" cy="321.5" r="6.4"/><circle cx="1115.1" cy="374.6" r="6.4"/><circle cx="1088.3" cy="389.0" r="6.4"/><circle cx="1054.9" cy="329.1" r="6.4"/><circle cx="1120.8" cy="356.9" r="6.4"/><circle cx="997.3" cy="279.2" r="6.4"/><circle cx="1011.9" cy="345.4" r="6.4"/><circle cx="986.7" cy="326.4" r="6.4"/><circle cx="1136.1" cy="324.5" r="6.4"/><circle cx="995.5" cy="406.0" r="6.4"/><circle cx="1016.3" cy="478.9" r="6.4"/><circle cx="1056.2" cy="300.5" r="6.4"/><circle cx="1020.9" cy="447.0" r="6.4"/><circle cx="1003.6" cy="296.0" r="6.4"/><circle cx="1087.2" cy="371.3" r="6.4"/><circle cx="1462.0" cy="213.4" r="6.4"/><circle cx="1024.1" cy="434.2" r="6.4"/><circle cx="1055.6" cy="424.3" r="6.4"/><circle cx="1048.5" cy="349.8" r="6.4"/><circle cx="1004.6" cy="497.9" r="6.4"/><circle cx="1041.8" cy="280.6" r="6.4"/><circle cx="1022.3" cy="354.5" r="6.4"/><circle cx="1025.8" cy="399.6" r="6.4"/><circle cx="1084.3" cy="270.0" r="6.4"/><circle cx="1058.5" cy="413.0" r="6.4"/><circle cx="1088.1" cy="292.6" r="6.4"/><circle cx="999.9" cy="446.4" r="6.4"/><circle cx="1014.7" cy="518.1" r="6.4"/><circle cx="1056.7" cy="314.5" r="6.4"/><circle cx="1004.0" cy="402.7" r="6.4"/><circle cx="1010.4" cy="482.9" r="6.4"/><circle cx="1009.8" cy="509.8" r="6.4"/><circle cx="1101.1" cy="319.8" r="6.4"/><circle cx="1011.8" cy="282.6" r="6.4"/><circle cx="1096.3" cy="365.8" r="6.4"/><circle cx="1078.1" cy="410.9" r="6.4"/><circle cx="1006.1" cy="452.2" r="6.4"/><circle cx="1044.3" cy="389.9" r="6.4"/><circle cx="1019.6" cy="380.9" r="6.4"/><circle cx="1130.9" cy="329.5" r="6.4"/><circle cx="1008.8" cy="387.3" r="6.4"/><circle cx="1093.3" cy="304.8" r="6.4"/><circle cx="998.1" cy="307.0" r="6.4"/><circle cx="1007.3" cy="334.8" r="6.4"/><circle cx="1114.7" cy="343.7" r="6.4"/><circle cx="1116.7" cy="348.2" r="6.4"/><circle cx="1224.0" cy="264.5" r="6.4"/><circle cx="1032.6" cy="270.6" r="6.4"/><circle cx="1091.3" cy="296.9" r="6.4"/><circle cx="1146.8" cy="326.9" r="6.4"/><circle cx="1183.3" cy="264.2" r="6.4"/><circle cx="1003.2" cy="428.8" r="6.4"/><circle cx="1049.3" cy="355.2" r="6.4"/><circle cx="1037.8" cy="356.7" r="6.4"/><circle cx="1109.6" cy="378.3" r="6.4"/><circle cx="1002.0" cy="442.9" r="6.4"/><circle cx="1064.2" cy="300.4" r="6.4"/><circle cx="1054.0" cy="405.4" r="6.4"/><circle cx="1026.1" cy="285.5" r="6.4"/><circle cx="1029.6" cy="433.8" r="6.4"/><circle cx="1118.4" cy="352.2" r="6.4"/><circle cx="1016.1" cy="303.5" r="6.4"/><circle cx="1006.5" cy="373.1" r="6.4"/><circle cx="1001.6" cy="390.9" r="6.4"/><circle cx="1083.1" cy="317.3" r="6.4"/><circle cx="1106.2" cy="376.2" r="6.4"/><circle cx="1059.5" cy="364.2" r="6.4"/><circle cx="991.2" cy="312.7" r="6.4"/><circle cx="1104.7" cy="206.1" r="6.4"/><circle cx="1103.9" cy="378.1" r="6.4"/><circle cx="1010.1" cy="302.8" r="6.4"/><circle cx="1089.2" cy="395.7" r="6.4"/><circle cx="1098.3" cy="324.0" r="6.4"/><circle cx="1002.9" cy="489.7" r="6.4"/><circle cx="1004.0" cy="344.4" r="6.4"/><circle cx="1022.9" cy="423.2" r="6.4"/><circle cx="1003.2" cy="282.5" r="6.4"/><circle cx="1103.2" cy="342.9" r="6.4"/><circle cx="1068.6" cy="230.4" r="6.4"/><circle cx="1024.6" cy="424.0" r="6.4"/><circle cx="1031.5" cy="340.1" r="6.4"/><circle cx="1137.5" cy="302.5" r="6.4"/><circle cx="1211.4" cy="289.8" r="6.4"/><circle cx="1000.7" cy="288.2" r="6.4"/><circle cx="1004.8" cy="514.0" r="6.4"/><circle cx="1150.1" cy="284.5" r="6.4"/><circle cx="1082.9" cy="302.4" r="6.4"/><circle cx="1026.4" cy="371.4" r="6.4"/><circle cx="1019.4" cy="473.4" r="6.4"/><circle cx="1090.8" cy="394.7" r="6.4"/><circle cx="1134.9" cy="343.6" r="6.4"/><circle cx="1028.7" cy="383.2" r="6.4"/><circle cx="1117.5" cy="304.5" r="6.4"/><circle cx="1009.2" cy="327.1" r="6.4"/><circle cx="1008.0" cy="457.5" r="6.4"/><circle cx="1013.7" cy="413.6" r="6.4"/><circle cx="1095.3" cy="344.2" r="6.4"/><circle cx="1046.8" cy="373.6" r="6.4"/><circle cx="997.8" cy="262.7" r="6.4"/><circle cx="1005.6" cy="397.3" r="6.4"/><circle cx="1011.4" cy="465.7" r="6.4"/><circle cx="998.3" cy="362.0" r="6.4"/><circle cx="1104.1" cy="273.6" r="6.4"/><circle cx="985.7" cy="336.6" r="6.4"/><circle cx="1084.8" cy="324.3" r="6.4"/><circle cx="1120.5" cy="370.4" r="6.4"/><circle cx="1076.2" cy="370.5" r="6.4"/><circle cx="1105.0" cy="317.5" r="6.4"/><circle cx="1016.5" cy="518.4" r="6.4"/><circle cx="1086.9" cy="359.3" r="6.4"/><circle cx="1018.8" cy="391.9" r="6.4"/><circle cx="1021.7" cy="503.3" r="6.4"/><circle cx="1081.5" cy="269.8" r="6.4"/><circle cx="1004.8" cy="403.9" r="6.4"/><circle cx="1029.2" cy="354.6" r="6.4"/><circle cx="1067.7" cy="285.7" r="6.4"/><circle cx="1033.6" cy="319.3" r="6.4"/><circle cx="1044.4" cy="429.7" r="6.4"/><circle cx="1082.2" cy="324.4" r="6.4"/><circle cx="1098.3" cy="354.3" r="6.4"/><circle cx="1028.3" cy="467.3" r="6.4"/><circle cx="1005.4" cy="340.2" r="6.4"/><circle cx="1032.8" cy="323.2" r="6.4"/><circle cx="1061.9" cy="295.2" r="6.4"/><circle cx="1071.1" cy="326.0" r="6.4"/><circle cx="1008.4" cy="364.4" r="6.4"/><circle cx="1314.0" cy="238.4" r="6.4"/><circle cx="1126.0" cy="255.9" r="6.4"/><circle cx="1061.9" cy="326.7" r="6.4"/><circle cx="1158.0" cy="326.3" r="6.4"/><circle cx="1021.6" cy="342.2" r="6.4"/><circle cx="1128.1" cy="309.4" r="6.4"/><circle cx="994.0" cy="358.1" r="6.4"/><circle cx="1019.0" cy="465.7" r="6.4"/><circle cx="1053.6" cy="321.7" r="6.4"/><circle cx="1001.2" cy="460.9" r="6.4"/><circle cx="1075.3" cy="389.8" r="6.4"/><circle cx="990.0" cy="406.7" r="6.4"/><circle cx="1037.6" cy="343.2" r="6.4"/><circle cx="1033.1" cy="295.2" r="6.4"/><circle cx="1011.1" cy="313.0" r="6.4"/><circle cx="1002.7" cy="302.3" r="6.4"/><circle cx="1037.1" cy="375.7" r="6.4"/><circle cx="1076.0" cy="394.2" r="6.4"/><circle cx="1052.6" cy="263.5" r="6.4"/><circle cx="1005.9" cy="407.2" r="6.4"/><circle cx="1018.5" cy="469.0" r="6.4"/><circle cx="1019.8" cy="437.4" r="6.4"/><circle cx="1034.4" cy="362.5" r="6.4"/><circle cx="1023.7" cy="314.2" r="6.4"/><circle cx="1012.4" cy="498.1" r="6.4"/><circle cx="1124.9" cy="274.6" r="6.4"/><circle cx="1062.0" cy="403.3" r="6.4"/><circle cx="1218.7" cy="288.4" r="6.4"/><circle cx="1152.6" cy="330.8" r="6.4"/><circle cx="1208.9" cy="261.7" r="6.4"/><circle cx="1089.6" cy="393.5" r="6.4"/><circle cx="1185.4" cy="291.9" r="6.4"/><circle cx="1000.7" cy="332.2" r="6.4"/><circle cx="1045.1" cy="448.5" r="6.4"/><circle cx="1032.9" cy="474.2" r="6.4"/><circle cx="1013.6" cy="439.2" r="6.4"/><circle cx="1086.2" cy="337.6" r="6.4"/><circle cx="1076.1" cy="338.6" r="6.4"/><circle cx="1098.6" cy="381.4" r="6.4"/><circle cx="1029.4" cy="302.2" r="6.4"/><circle cx="1030.2" cy="386.0" r="6.4"/><circle cx="1194.3" cy="276.3" r="6.4"/><circle cx="992.6" cy="407.7" r="6.4"/><circle cx="1140.2" cy="286.8" r="6.4"/><circle cx="1018.9" cy="333.9" r="6.4"/><circle cx="1150.2" cy="328.3" r="6.4"/><circle cx="1056.4" cy="443.3" r="6.4"/><circle cx="1043.7" cy="411.2" r="6.4"/><circle cx="1169.3" cy="297.1" r="6.4"/><circle cx="1143.0" cy="324.3" r="6.4"/><circle cx="1021.6" cy="344.2" r="6.4"/><circle cx="1013.3" cy="452.1" r="6.4"/><circle cx="1042.7" cy="296.0" r="6.4"/><circle cx="1136.3" cy="332.2" r="6.4"/><circle cx="1008.1" cy="280.3" r="6.4"/><circle cx="1056.1" cy="300.2" r="6.4"/><circle cx="1049.9" cy="364.7" r="6.4"/><circle cx="998.6" cy="291.8" r="6.4"/><circle cx="1004.3" cy="335.2" r="6.4"/><circle cx="1025.0" cy="378.0" r="6.4"/><circle cx="1000.0" cy="378.4" r="6.4"/><circle cx="1142.5" cy="337.3" r="6.4"/><circle cx="1050.2" cy="447.7" r="6.4"/><circle cx="1001.4" cy="308.0" r="6.4"/><circle cx="1123.9" cy="366.5" r="6.4"/><circle cx="1121.2" cy="339.9" r="6.4"/><circle cx="987.9" cy="306.2" r="6.4"/><circle cx="1073.3" cy="337.1" r="6.4"/><circle cx="996.7" cy="281.7" r="6.4"/><circle cx="1004.3" cy="482.2" r="6.4"/><circle cx="1007.6" cy="396.8" r="6.4"/><circle cx="1009.3" cy="348.1" r="6.4"/><circle cx="1098.8" cy="330.8" r="6.4"/><circle cx="1032.8" cy="405.5" r="6.4"/><circle cx="1131.7" cy="292.0" r="6.4"/><circle cx="1034.6" cy="446.7" r="6.4"/><circle cx="989.0" cy="373.4" r="6.4"/><circle cx="1041.2" cy="389.8" r="6.4"/><circle cx="1042.9" cy="423.0" r="6.4"/><circle cx="1036.4" cy="337.3" r="6.4"/><circle cx="1002.1" cy="321.0" r="6.4"/><circle cx="1049.5" cy="418.5" r="6.4"/><circle cx="1017.8" cy="356.9" r="6.4"/><circle cx="1076.6" cy="271.5" r="6.4"/><circle cx="995.3" cy="391.7" r="6.4"/><circle cx="1024.2" cy="342.2" r="6.4"/><circle cx="1028.5" cy="481.0" r="6.4"/><circle cx="1064.9" cy="427.3" r="6.4"/><circle cx="1102.4" cy="347.5" r="6.4"/><circle cx="1036.6" cy="331.8" r="6.4"/><circle cx="1041.9" cy="312.9" r="6.4"/><circle cx="997.2" cy="417.9" r="6.4"/><circle cx="995.5" cy="421.9" r="6.4"/><circle cx="1003.9" cy="465.0" r="6.4"/><circle cx="1017.7" cy="483.8" r="6.4"/><circle cx="1127.3" cy="338.9" r="6.4"/><circle cx="1013.5" cy="408.6" r="6.4"/><circle cx="1112.5" cy="365.1" r="6.4"/><circle cx="1096.2" cy="367.4" r="6.4"/><circle cx="1013.4" cy="489.1" r="6.4"/><circle cx="989.9" cy="326.2" r="6.4"/><circle cx="1039.9" cy="437.9" r="6.4"/><circle cx="1049.2" cy="415.0" r="6.4"/><circle cx="1069.0" cy="404.8" r="6.4"/><circle cx="1019.2" cy="299.7" r="6.4"/><circle cx="1102.4" cy="348.8" r="6.4"/><circle cx="1394.7" cy="221.7" r="6.4"/><circle cx="1103.5" cy="360.1" r="6.4"/><circle cx="1095.6" cy="373.8" r="6.4"/><circle cx="1039.6" cy="291.6" r="6.4"/><circle cx="1001.4" cy="396.4" r="6.4"/><circle cx="1061.5" cy="322.7" r="6.4"/><circle cx="1220.2" cy="298.9" r="6.4"/><circle cx="997.0" cy="469.4" r="6.4"/><circle cx="1120.6" cy="312.9" r="6.4"/><circle cx="1007.8" cy="523.6" r="6.4"/><circle cx="1028.0" cy="430.8" r="6.4"/><circle cx="996.9" cy="401.6" r="6.4"/><circle cx="1053.9" cy="376.3" r="6.4"/><circle cx="1072.6" cy="306.7" r="6.4"/><circle cx="1104.0" cy="371.6" r="6.4"/><circle cx="1019.4" cy="345.7" r="6.4"/><circle cx="1010.3" cy="427.8" r="6.4"/><circle cx="1013.4" cy="285.4" r="6.4"/><circle cx="1031.3" cy="295.6" r="6.4"/><circle cx="1012.3" cy="314.4" r="6.4"/><circle cx="1039.8" cy="343.0" r="6.4"/><circle cx="989.4" cy="272.1" r="6.4"/><circle cx="1219.8" cy="298.8" r="6.4"/><circle cx="1076.5" cy="306.4" r="6.4"/><circle cx="1046.0" cy="360.7" r="6.4"/><circle cx="1000.6" cy="290.5" r="6.4"/><circle cx="994.0" cy="355.6" r="6.4"/><circle cx="1042.6" cy="301.8" r="6.4"/><circle cx="1088.9" cy="246.7" r="6.4"/><circle cx="1003.3" cy="488.5" r="6.4"/><circle cx="1015.8" cy="389.7" r="6.4"/><circle cx="1137.4" cy="354.2" r="6.4"/><circle cx="994.6" cy="299.4" r="6.4"/><circle cx="1040.7" cy="399.6" r="6.4"/><circle cx="998.6" cy="426.5" r="6.4"/><circle cx="1031.4" cy="459.3" r="6.4"/><circle cx="1006.1" cy="522.9" r="6.4"/><circle cx="1007.1" cy="329.0" r="6.4"/><circle cx="995.6" cy="364.0" r="6.4"/><circle cx="1150.5" cy="307.5" r="6.4"/><circle cx="1097.3" cy="349.6" r="6.4"/><circle cx="1037.0" cy="423.6" r="6.4"/><circle cx="1065.1" cy="309.1" r="6.4"/><circle cx="1025.8" cy="262.8" r="6.4"/><circle cx="1078.3" cy="382.3" r="6.4"/><circle cx="1109.7" cy="353.3" r="6.4"/><circle cx="996.0" cy="330.4" r="6.4"/><circle cx="1132.9" cy="335.9" r="6.4"/><circle cx="990.9" cy="408.9" r="6.4"/><circle cx="1042.2" cy="325.1" r="6.4"/><circle cx="1114.2" cy="321.5" r="6.4"/><circle cx="1025.8" cy="387.8" r="6.4"/><circle cx="1029.0" cy="371.4" r="6.4"/><circle cx="1157.2" cy="282.1" r="6.4"/><circle cx="1043.7" cy="332.5" r="6.4"/><circle cx="1133.3" cy="363.8" r="6.4"/><circle cx="1088.0" cy="328.6" r="6.4"/><circle cx="1052.2" cy="371.2" r="6.4"/><circle cx="1138.2" cy="288.1" r="6.4"/><circle cx="1153.1" cy="328.4" r="6.4"/><circle cx="1108.3" cy="333.7" r="6.4"/><circle cx="1146.5" cy="332.1" r="6.4"/><circle cx="1012.6" cy="354.4" r="6.4"/><circle cx="990.4" cy="378.3" r="6.4"/><circle cx="1041.0" cy="384.4" r="6.4"/><circle cx="1037.2" cy="295.7" r="6.4"/><circle cx="1060.3" cy="304.7" r="6.4"/><circle cx="1145.6" cy="330.8" r="6.4"/><circle cx="1056.1" cy="385.3" r="6.4"/><circle cx="1130.0" cy="335.7" r="6.4"/><circle cx="1005.0" cy="516.3" r="6.4"/><circle cx="1014.7" cy="370.1" r="6.4"/><circle cx="998.5" cy="486.5" r="6.4"/><circle cx="1059.2" cy="294.1" r="6.4"/><circle cx="1005.7" cy="334.3" r="6.4"/><circle cx="1028.5" cy="343.6" r="6.4"/><circle cx="1095.9" cy="339.4" r="6.4"/><circle cx="995.1" cy="383.6" r="6.4"/><circle cx="995.8" cy="278.0" r="6.4"/><circle cx="994.0" cy="351.4" r="6.4"/><circle cx="1146.7" cy="287.4" r="6.4"/><circle cx="1016.9" cy="486.7" r="6.4"/><circle cx="1068.8" cy="343.9" r="6.4"/><circle cx="1022.5" cy="427.3" r="6.4"/><circle cx="989.3" cy="397.9" r="6.4"/><circle cx="1118.4" cy="315.7" r="6.4"/><circle cx="1024.7" cy="430.5" r="6.4"/><circle cx="1052.9" cy="368.2" r="6.4"/><circle cx="1419.9" cy="203.8" r="6.4"/><circle cx="1050.1" cy="426.1" r="6.4"/><circle cx="1026.5" cy="372.9" r="6.4"/><circle cx="1143.2" cy="319.9" r="6.4"/><circle cx="1076.7" cy="412.5" r="6.4"/><circle cx="992.9" cy="315.2" r="6.4"/><circle cx="1077.6" cy="351.5" r="6.4"/><circle cx="1103.8" cy="364.1" r="6.4"/><circle cx="1035.7" cy="351.7" r="6.4"/><circle cx="1090.7" cy="303.4" r="6.4"/><circle cx="1132.2" cy="316.7" r="6.4"/><circle cx="1074.9" cy="316.6" r="6.4"/><circle cx="1103.8" cy="316.6" r="6.4"/><circle cx="1036.8" cy="391.0" r="6.4"/><circle cx="1133.5" cy="303.9" r="6.4"/><circle cx="1035.9" cy="366.7" r="6.4"/><circle cx="1064.3" cy="391.6" r="6.4"/><circle cx="1014.4" cy="468.1" r="6.4"/><circle cx="991.7" cy="301.9" r="6.4"/><circle cx="1048.2" cy="397.6" r="6.4"/><circle cx="1069.3" cy="371.7" r="6.4"/><circle cx="1135.3" cy="263.8" r="6.4"/><circle cx="1066.9" cy="425.1" r="6.4"/><circle cx="1046.9" cy="404.5" r="6.4"/><circle cx="1120.7" cy="305.1" r="6.4"/><circle cx="1057.9" cy="413.1" r="6.4"/><circle cx="999.5" cy="345.7" r="6.4"/><circle cx="1025.5" cy="329.8" r="6.4"/><circle cx="1003.0" cy="368.9" r="6.4"/><circle cx="1046.1" cy="312.6" r="6.4"/><circle cx="1006.6" cy="339.9" r="6.4"/><circle cx="1083.8" cy="379.1" r="6.4"/><circle cx="1011.1" cy="323.2" r="6.4"/><circle cx="1090.3" cy="362.4" r="6.4"/><circle cx="1056.4" cy="296.7" r="6.4"/><circle cx="1247.5" cy="262.7" r="6.4"/><circle cx="1074.4" cy="385.2" r="6.4"/><circle cx="1047.2" cy="457.6" r="6.4"/><circle cx="1030.1" cy="283.9" r="6.4"/><circle cx="1009.2" cy="478.9" r="6.4"/><circle cx="1422.8" cy="219.0" r="6.4"/><circle cx="1106.1" cy="343.2" r="6.4"/><circle cx="1001.5" cy="427.5" r="6.4"/><circle cx="1014.5" cy="478.1" r="6.4"/><circle cx="1017.2" cy="347.2" r="6.4"/><circle cx="1024.2" cy="301.9" r="6.4"/><circle cx="1002.8" cy="300.5" r="6.4"/><circle cx="1077.9" cy="342.1" r="6.4"/><circle cx="1038.2" cy="294.3" r="6.4"/><circle cx="1137.6" cy="315.1" r="6.4"/><circle cx="1129.4" cy="359.6" r="6.4"/><circle cx="1010.9" cy="466.2" r="6.4"/><circle cx="1080.3" cy="385.3" r="6.4"/><circle cx="1126.0" cy="367.2" r="6.4"/><circle cx="1017.5" cy="500.3" r="6.4"/><circle cx="1066.2" cy="402.7" r="6.4"/><circle cx="1006.1" cy="402.3" r="6.4"/><circle cx="1050.0" cy="289.2" r="6.4"/><circle cx="1061.7" cy="307.5" r="6.4"/><circle cx="1153.4" cy="327.1" r="6.4"/><circle cx="1130.8" cy="321.1" r="6.4"/><circle cx="995.1" cy="323.5" r="6.4"/><circle cx="1026.0" cy="405.2" r="6.4"/><circle cx="1093.4" cy="352.5" r="6.4"/><circle cx="997.5" cy="334.7" r="6.4"/><circle cx="1130.9" cy="293.7" r="6.4"/><circle cx="1026.9" cy="288.5" r="6.4"/><circle cx="1065.1" cy="338.3" r="6.4"/><circle cx="994.6" cy="451.7" r="6.4"/><circle cx="1054.9" cy="359.2" r="6.4"/><circle cx="1027.8" cy="465.1" r="6.4"/><circle cx="1023.7" cy="352.2" r="6.4"/><circle cx="1100.9" cy="344.5" r="6.4"/><circle cx="1024.1" cy="294.5" r="6.4"/><circle cx="997.3" cy="376.7" r="6.4"/><circle cx="996.5" cy="383.4" r="6.4"/><circle cx="1105.4" cy="319.7" r="6.4"/><circle cx="1143.4" cy="318.3" r="6.4"/><circle cx="1038.2" cy="472.6" r="6.4"/><circle cx="1068.3" cy="318.4" r="6.4"/><circle cx="1223.9" cy="264.4" r="6.4"/><circle cx="993.0" cy="437.7" r="6.4"/><circle cx="1087.4" cy="380.0" r="6.4"/><circle cx="1015.3" cy="455.5" r="6.4"/><circle cx="1018.0" cy="182.2" r="6.4"/><circle cx="1002.7" cy="418.9" r="6.4"/><circle cx="1030.1" cy="393.8" r="6.4"/><circle cx="1100.7" cy="324.1" r="6.4"/><circle cx="1126.9" cy="367.8" r="6.4"/><circle cx="1124.3" cy="302.4" r="6.4"/><circle cx="1011.9" cy="476.3" r="6.4"/><circle cx="1009.5" cy="409.6" r="6.4"/><circle cx="1020.7" cy="509.7" r="6.4"/><circle cx="1110.7" cy="348.0" r="6.4"/><circle cx="1038.1" cy="382.3" r="6.4"/><circle cx="1036.0" cy="459.2" r="6.4"/><circle cx="1048.2" cy="308.5" r="6.4"/><circle cx="1087.5" cy="393.4" r="6.4"/><circle cx="1162.4" cy="284.2" r="6.4"/><circle cx="1032.8" cy="332.3" r="6.4"/><circle cx="1013.4" cy="301.3" r="6.4"/><circle cx="1008.4" cy="281.3" r="6.4"/><circle cx="1099.2" cy="342.1" r="6.4"/><circle cx="1046.7" cy="302.0" r="6.4"/><circle cx="1056.3" cy="433.8" r="6.4"/><circle cx="1019.6" cy="457.5" r="6.4"/><circle cx="1068.6" cy="312.1" r="6.4"/><circle cx="1048.3" cy="446.6" r="6.4"/><circle cx="999.0" cy="323.6" r="6.4"/><circle cx="1076.4" cy="399.5" r="6.4"/><circle cx="1069.6" cy="342.4" r="6.4"/><circle cx="1119.4" cy="312.4" r="6.4"/><circle cx="995.1" cy="388.6" r="6.4"/><circle cx="1007.5" cy="305.8" r="6.4"/><circle cx="991.7" cy="290.4" r="6.4"/><circle cx="1125.4" cy="369.7" r="6.4"/><circle cx="1031.0" cy="479.9" r="6.4"/><circle cx="1018.5" cy="458.5" r="6.4"/><circle cx="1020.6" cy="310.4" r="6.4"/><circle cx="1080.5" cy="352.2" r="6.4"/><circle cx="1048.3" cy="314.3" r="6.4"/><circle cx="1034.4" cy="264.3" r="6.4"/><circle cx="1083.6" cy="366.8" r="6.4"/><circle cx="1028.0" cy="313.4" r="6.4"/><circle cx="1028.9" cy="367.8" r="6.4"/><circle cx="1138.5" cy="319.3" r="6.4"/><circle cx="1012.5" cy="335.7" r="6.4"/><circle cx="1023.0" cy="287.2" r="6.4"/><circle cx="1138.8" cy="307.9" r="6.4"/><circle cx="1084.5" cy="355.1" r="6.4"/><circle cx="1021.6" cy="492.0" r="6.4"/><circle cx="1125.3" cy="329.1" r="6.4"/><circle cx="1020.8" cy="357.3" r="6.4"/><circle cx="997.4" cy="360.5" r="6.4"/><circle cx="1027.0" cy="443.6" r="6.4"/><circle cx="1154.7" cy="315.9" r="6.4"/><circle cx="1062.4" cy="371.6" r="6.4"/><circle cx="1051.5" cy="441.4" r="6.4"/><circle cx="1060.1" cy="306.2" r="6.4"/><circle cx="1065.9" cy="395.9" r="6.4"/><circle cx="1004.9" cy="283.3" r="6.4"/><circle cx="1067.2" cy="266.5" r="6.4"/><circle cx="1070.6" cy="419.3" r="6.4"/><circle cx="1020.4" cy="291.3" r="6.4"/><circle cx="1067.4" cy="380.1" r="6.4"/><circle cx="1077.0" cy="404.6" r="6.4"/><circle cx="1004.8" cy="408.9" r="6.4"/><circle cx="1137.1" cy="346.2" r="6.4"/><circle cx="1098.4" cy="328.2" r="6.4"/><circle cx="1019.7" cy="334.0" r="6.4"/><circle cx="1027.6" cy="337.9" r="6.4"/><circle cx="1046.1" cy="319.4" r="6.4"/><circle cx="1086.9" cy="305.5" r="6.4"/><circle cx="1134.1" cy="277.1" r="6.4"/><circle cx="1064.3" cy="349.0" r="6.4"/><circle cx="1043.2" cy="195.3" r="6.4"/><circle cx="1013.7" cy="414.5" r="6.4"/><circle cx="1052.7" cy="376.3" r="6.4"/><circle cx="1112.0" cy="347.5" r="6.4"/><circle cx="1189.5" cy="290.5" r="6.4"/><circle cx="1075.7" cy="352.4" r="6.4"/><circle cx="1040.2" cy="461.9" r="6.4"/><circle cx="994.0" cy="317.2" r="6.4"/><circle cx="1154.0" cy="319.1" r="6.4"/><circle cx="1043.3" cy="392.7" r="6.4"/><circle cx="1077.5" cy="292.0" r="6.4"/><circle cx="1025.1" cy="469.3" r="6.4"/><circle cx="1005.7" cy="295.3" r="6.4"/><circle cx="1058.1" cy="426.9" r="6.4"/><circle cx="1040.1" cy="316.8" r="6.4"/><circle cx="1026.1" cy="480.0" r="6.4"/><circle cx="1131.8" cy="360.9" r="6.4"/><circle cx="1078.9" cy="373.3" r="6.4"/><circle cx="1015.4" cy="473.1" r="6.4"/><circle cx="1044.7" cy="312.8" r="6.4"/><circle cx="1026.0" cy="320.7" r="6.4"/><circle cx="1000.5" cy="313.6" r="6.4"/><circle cx="1186.4" cy="303.4" r="6.4"/><circle cx="1011.5" cy="449.2" r="6.4"/><circle cx="1044.8" cy="378.1" r="6.4"/><circle cx="1093.7" cy="333.2" r="6.4"/><circle cx="1023.4" cy="449.3" r="6.4"/><circle cx="1118.8" cy="335.1" r="6.4"/><circle cx="1020.1" cy="423.5" r="6.4"/><circle cx="1008.1" cy="425.4" r="6.4"/><circle cx="1083.9" cy="360.5" r="6.4"/><circle cx="1127.6" cy="365.2" r="6.4"/><circle cx="1034.9" cy="375.1" r="6.4"/><circle cx="992.7" cy="322.7" r="6.4"/><circle cx="1058.6" cy="280.8" r="6.4"/><circle cx="1052.4" cy="425.6" r="6.4"/><circle cx="1113.7" cy="369.7" r="6.4"/><circle cx="1095.2" cy="364.7" r="6.4"/><circle cx="1019.7" cy="307.6" r="6.4"/><circle cx="1068.9" cy="322.3" r="6.4"/><circle cx="1081.4" cy="381.5" r="6.4"/><circle cx="1017.9" cy="414.9" r="6.4"/><circle cx="1009.1" cy="339.3" r="6.4"/><circle cx="1061.0" cy="326.4" r="6.4"/><circle cx="1110.5" cy="336.5" r="6.4"/><circle cx="1017.4" cy="419.3" r="6.4"/><circle cx="1075.9" cy="271.1" r="6.4"/><circle cx="1371.8" cy="225.9" r="6.4"/><circle cx="1015.7" cy="519.0" r="6.4"/><circle cx="1062.2" cy="285.8" r="6.4"/><circle cx="1276.5" cy="244.7" r="6.4"/><circle cx="996.5" cy="442.6" r="6.4"/><circle cx="985.2" cy="310.7" r="6.4"/><circle cx="1103.0" cy="281.8" r="6.4"/><circle cx="1120.6" cy="295.1" r="6.4"/><circle cx="1117.3" cy="374.7" r="6.4"/><circle cx="1093.4" cy="354.5" r="6.4"/><circle cx="1011.1" cy="302.0" r="6.4"/><circle cx="1115.5" cy="312.4" r="6.4"/><circle cx="1111.6" cy="288.0" r="6.4"/><circle cx="1073.7" cy="371.6" r="6.4"/><circle cx="1020.3" cy="385.9" r="6.4"/><circle cx="1083.6" cy="407.5" r="6.4"/><circle cx="1017.5" cy="440.7" r="6.4"/><circle cx="1043.5" cy="404.1" r="6.4"/><circle cx="1051.6" cy="314.8" r="6.4"/><circle cx="1103.3" cy="319.0" r="6.4"/><circle cx="1050.0" cy="391.9" r="6.4"/><circle cx="1130.0" cy="309.1" r="6.4"/><circle cx="1135.1" cy="306.1" r="6.4"/><circle cx="1071.8" cy="414.7" r="6.4"/><circle cx="998.3" cy="437.1" r="6.4"/><circle cx="1025.6" cy="328.5" r="6.4"/><circle cx="1056.4" cy="419.9" r="6.4"/><circle cx="1064.3" cy="359.0" r="6.4"/><circle cx="1005.0" cy="324.0" r="6.4"/><circle cx="1041.3" cy="381.8" r="6.4"/><circle cx="1015.2" cy="487.6" r="6.4"/><circle cx="1026.0" cy="438.5" r="6.4"/><circle cx="1024.1" cy="417.2" r="6.4"/><circle cx="1068.6" cy="230.1" r="6.4"/><circle cx="1011.9" cy="342.1" r="6.4"/><circle cx="1022.6" cy="345.8" r="6.4"/><circle cx="1102.0" cy="334.6" r="6.4"/><circle cx="1103.8" cy="307.2" r="6.4"/><circle cx="994.7" cy="433.3" r="6.4"/><circle cx="1041.6" cy="395.4" r="6.4"/><circle cx="1065.8" cy="328.4" r="6.4"/><circle cx="994.9" cy="455.4" r="6.4"/><circle cx="1044.9" cy="316.5" r="6.4"/><circle cx="1035.8" cy="453.2" r="6.4"/><circle cx="1003.5" cy="478.7" r="6.4"/><circle cx="1249.4" cy="262.8" r="6.4"/><circle cx="1030.9" cy="388.6" r="6.4"/><circle cx="1050.5" cy="264.2" r="6.4"/><circle cx="1075.1" cy="385.4" r="6.4"/><circle cx="994.6" cy="454.2" r="6.4"/><circle cx="1041.7" cy="339.7" r="6.4"/><circle cx="1020.7" cy="239.1" r="6.4"/><circle cx="1116.7" cy="347.9" r="6.4"/><circle cx="1106.5" cy="360.7" r="6.4"/><circle cx="1071.5" cy="405.4" r="6.4"/><circle cx="1124.0" cy="357.0" r="6.4"/><circle cx="1124.0" cy="300.2" r="6.4"/><circle cx="1025.5" cy="301.8" r="6.4"/><circle cx="1033.1" cy="344.9" r="6.4"/><circle cx="1033.8" cy="287.5" r="6.4"/><circle cx="1055.5" cy="350.1" r="6.4"/><circle cx="1004.5" cy="356.3" r="6.4"/><circle cx="1044.8" cy="326.4" r="6.4"/><circle cx="1089.3" cy="323.9" r="6.4"/><circle cx="1025.4" cy="390.3" r="6.4"/><circle cx="1014.6" cy="294.9" r="6.4"/><circle cx="988.7" cy="336.8" r="6.4"/><circle cx="1117.8" cy="316.2" r="6.4"/><circle cx="1061.8" cy="313.8" r="6.4"/>
</g>
<text x="955" y="50.5" font-size="29.5" textLength="213" lengthAdjust="spacingAndGlyphs" fill="#231f20" stroke="#fff" stroke-width="0.55">Native American</text>
<text x="1436" y="163.8" font-size="29.5" textLength="89" lengthAdjust="spacingAndGlyphs" fill="#231f20" stroke="#fff" stroke-width="0.55">African</text>
<text x="1039.4" y="574" font-size="29.5" textLength="123.6" lengthAdjust="spacingAndGlyphs" fill="#231f20" stroke="#fff" stroke-width="0.55">European</text>
<text x="1094" y="656.7" font-size="33.5" textLength="325.7" lengthAdjust="spacingAndGlyphs" fill="#231f20" stroke="#fff" stroke-width="0.55">Principal Component 1</text>
<g transform="translate(878.8 428) rotate(-90)">
<text x="0" y="0" font-size="33.5" textLength="328.6" lengthAdjust="spacingAndGlyphs" fill="#231f20" stroke="#fff" stroke-width="0.55">Principal Component 2</text>
</g>
<text x="868.2" y="718.5" font-size="29.5" textLength="78.7" lengthAdjust="spacingAndGlyphs" fill="#231f20">Africa</text>
<text x="868.2" y="828.6" font-size="29.5" textLength="95.8" lengthAdjust="spacingAndGlyphs" fill="#231f20">Europe</text>
<text x="1199.1" y="718.5" font-size="29.5" textLength="127.7" lengthAdjust="spacingAndGlyphs" fill="#231f20">Americas</text>
<circle cx="866.8" cy="750.4" r="6.4" fill="#463c96" stroke="#222" stroke-width="1.4"/>
<text x="882.4" y="757.3" font-size="29.5" textLength="63.8" lengthAdjust="spacingAndGlyphs" fill="#231f20" stroke="#fff" stroke-width="0.55">Esan</text>
<circle cx="866.8" cy="785.3" r="6.4" fill="#1250a8" stroke="#222" stroke-width="1.4"/>
<text x="881.9" y="792.2" font-size="29.5" textLength="92.4" lengthAdjust="spacingAndGlyphs" fill="#231f20" stroke="#fff" stroke-width="0.55">Yoruba</text>
<circle cx="867.1" cy="855.3" r="6.4" fill="#fdd20e" stroke="#222" stroke-width="1.4"/>
<text x="883" y="862.2" font-size="29.5" textLength="81" lengthAdjust="spacingAndGlyphs" fill="#231f20" stroke="#fff" stroke-width="0.55">Britain</text>
<circle cx="867.1" cy="890.1" r="6.4" fill="#f7ec1a" stroke="#222" stroke-width="1.4"/>
<text x="882.4" y="897" font-size="29.5" textLength="73.6" lengthAdjust="spacingAndGlyphs" fill="#231f20" stroke="#fff" stroke-width="0.55">Spain</text>
<circle cx="1043.3" cy="750.4" r="6.4" fill="#118a43" stroke="#222" stroke-width="1.4"/>
<text x="1059.1" y="757.3" font-size="29.5" textLength="101.4" lengthAdjust="spacingAndGlyphs" fill="#231f20" stroke="#fff" stroke-width="0.55">UniCES</text>
<circle cx="1043.3" cy="785.3" r="6.4" fill="#b48bc9" stroke="#222" stroke-width="1.4"/>
<text x="1058.6" y="792.2" font-size="29.5" textLength="225.1" lengthAdjust="spacingAndGlyphs" fill="#231f20" stroke="#fff" stroke-width="0.55">African American</text>
<circle cx="1043.3" cy="820.3" r="6.4" fill="#7682c8" stroke="#222" stroke-width="1.4"/>
<text x="1058.6" y="827.2" font-size="29.5" textLength="237" lengthAdjust="spacingAndGlyphs" fill="#231f20" stroke="#fff" stroke-width="0.55">African Caribbean</text>
<circle cx="1043.3" cy="855.3" r="6.4" fill="#f0609a" stroke="#222" stroke-width="1.4"/>
<text x="1059.1" y="862.2" font-size="29.5" textLength="94.1" lengthAdjust="spacingAndGlyphs" fill="#231f20" stroke="#fff" stroke-width="0.55">Mexico</text>
<circle cx="1043.3" cy="890.1" r="6.4" fill="#a9cc2f" stroke="#222" stroke-width="1.4"/>
<text x="1059.1" y="897" font-size="29.5" textLength="125.6" lengthAdjust="spacingAndGlyphs" fill="#231f20" stroke="#fff" stroke-width="0.55">Colombia</text>
<circle cx="1317.2" cy="750.4" r="6.4" fill="#1b4368" stroke="#222" stroke-width="1.4"/>
<text x="1333.2" y="757.3" font-size="29.5" textLength="142.5" lengthAdjust="spacingAndGlyphs" fill="#231f20" stroke="#fff" stroke-width="0.55">ChocoGen</text>
<circle cx="1317.2" cy="785.3" r="6.4" fill="#ee2a24" stroke="#222" stroke-width="1.4"/>
<text x="1333.2" y="792.2" font-size="29.5" textLength="59.3" lengthAdjust="spacingAndGlyphs" fill="#231f20" stroke="#fff" stroke-width="0.55">Peru</text>
<circle cx="1317.2" cy="820.3" r="6.4" fill="#4db748" stroke="#222" stroke-width="1.4"/>
<text x="1333.2" y="827.2" font-size="29.5" textLength="154.6" lengthAdjust="spacingAndGlyphs" fill="#231f20" stroke="#fff" stroke-width="0.55">Puerto Rico</text>
<path d="M108.2 1093.2V1427.6" stroke="#231f20" stroke-width="2.6" fill="none"/>
<path d="M104.2 1094.4H108.2" stroke="#231f20" stroke-width="2.2"/>
<text x="98.8" y="1102.7" font-size="22.3" text-anchor="end" textLength="42" lengthAdjust="spacingAndGlyphs" fill="#58595b" stroke="#fff" stroke-width="0.75">1.00</text>
<path d="M104.2 1177.5H108.2" stroke="#231f20" stroke-width="2.2"/>
<text x="98.8" y="1185.8" font-size="22.3" text-anchor="end" textLength="44.3" lengthAdjust="spacingAndGlyphs" fill="#58595b" stroke="#fff" stroke-width="0.75">0.75</text>
<path d="M104.2 1260.7H108.2" stroke="#231f20" stroke-width="2.2"/>
<text x="98.8" y="1269.0" font-size="22.3" text-anchor="end" textLength="44.3" lengthAdjust="spacingAndGlyphs" fill="#58595b" stroke="#fff" stroke-width="0.75">0.50</text>
<path d="M104.2 1343.5H108.2" stroke="#231f20" stroke-width="2.2"/>
<text x="98.8" y="1351.8" font-size="22.3" text-anchor="end" textLength="44.3" lengthAdjust="spacingAndGlyphs" fill="#58595b" stroke="#fff" stroke-width="0.75">0.25</text>
<path d="M104.2 1426.4H108.2" stroke="#231f20" stroke-width="2.2"/>
<text x="98.8" y="1434.7" font-size="22.3" text-anchor="end" textLength="44.3" lengthAdjust="spacingAndGlyphs" fill="#58595b" stroke="#fff" stroke-width="0.75">0.00</text>
<g transform="translate(43.1 1388.7) rotate(-90)">
<text x="0" y="0" font-size="33.8" textLength="261.4" lengthAdjust="spacingAndGlyphs" fill="#231f20" stroke="#fff" stroke-width="0.35">Ancestry Fraction</text>
</g>
<rect x="128.00" y="1096.7" width="107.5" height="331.20" fill="#f5a71f"/>
<path d="M128.00 1427.90V1096.7H129.09V1096.7H130.17V1096.7H131.26V1096.7H132.34V1096.7H133.43V1096.7H134.52V1096.7H135.60V1096.7H136.69V1096.7H137.77V1096.7H138.86V1096.7H139.94V1096.7H141.03V1096.7H142.12V1096.7H143.20V1096.7H144.29V1096.7H145.37V1096.7H146.46V1096.7H147.55V1096.7H148.63V1096.7H149.72V1096.7H150.80V1099.3H151.89V1096.7H152.97V1096.7H154.06V1096.7H155.15V1096.7H156.23V1099.3H157.32V1096.7H158.40V1096.7H159.49V1096.7H160.58V1096.7H161.66V1096.7H162.75V1096.7H163.83V1096.7H164.92V1096.7H166.01V1096.7H167.09V1096.7H168.18V1096.7H169.26V1096.7H170.35V1096.7H171.43V1096.7H172.52V1096.7H173.61V1096.7H174.69V1096.7H175.78V1096.7H176.86V1096.7H177.95V1096.7H179.04V1096.7H180.12V1096.7H181.21V1096.7H182.29V1099.3H183.38V1096.7H184.46V1096.7H185.55V1096.7H186.64V1096.7H187.72V1096.7H188.81V1096.7H189.89V1096.7H190.98V1096.7H192.07V1096.7H193.15V1096.7H194.24V1096.7H195.32V1096.7H196.41V1096.7H197.49V1096.7H198.58V1096.7H199.67V1096.7H200.75V1096.7H201.84V1096.7H202.92V1096.7H204.01V1096.7H205.10V1096.7H206.18V1096.7H207.27V1096.7H208.35V1096.7H209.44V1096.7H210.53V1096.7H211.61V1096.7H212.70V1096.7H213.78V1096.7H214.87V1096.7H215.95V1096.7H217.04V1096.7H218.13V1096.7H219.21V1096.7H220.30V1096.7H221.38V1096.7H222.47V1096.7H223.56V1096.7H224.64V1096.7H225.73V1096.7H226.81V1096.7H227.90V1096.7H228.98V1096.7H230.07V1096.7H231.16V1096.7H232.24V1096.7H233.33V1096.7H234.41V1096.7H235.50V1427.90Z" fill="#0a4fa0"/>
<path d="M128.00 1427.90V1427.9H129.09V1427.9H130.17V1427.9H131.26V1427.9H132.34V1427.9H133.43V1427.9H134.52V1427.9H135.60V1427.9H136.69V1427.9H137.77V1427.9H138.86V1427.9H139.94V1427.9H141.03V1427.9H142.12V1427.9H143.20V1427.9H144.29V1427.9H145.37V1427.9H146.46V1427.9H147.55V1427.9H148.63V1427.9H149.72V1427.9H150.80V1427.9H151.89V1427.9H152.97V1427.9H154.06V1427.9H155.15V1427.9H156.23V1427.9H157.32V1427.9H158.40V1427.9H159.49V1427.9H160.58V1427.9H161.66V1427.9H162.75V1427.9H163.83V1427.9H164.92V1427.9H166.01V1427.9H167.09V1427.9H168.18V1427.9H169.26V1427.9H170.35V1427.9H171.43V1427.9H172.52V1427.9H173.61V1427.9H174.69V1427.9H175.78V1427.9H176.86V1427.9H177.95V1427.9H179.04V1427.9H180.12V1427.9H181.21V1427.9H182.29V1427.9H183.38V1427.9H184.46V1427.9H185.55V1427.9H186.64V1427.9H187.72V1427.9H188.81V1427.9H189.89V1427.9H190.98V1427.9H192.07V1427.9H193.15V1427.9H194.24V1427.9H195.32V1427.9H196.41V1427.9H197.49V1427.9H198.58V1427.9H199.67V1427.9H200.75V1427.9H201.84V1427.9H202.92V1427.9H204.01V1427.9H205.10V1427.9H206.18V1427.9H207.27V1427.9H208.35V1427.9H209.44V1427.9H210.53V1427.9H211.61V1427.9H212.70V1427.9H213.78V1427.9H214.87V1427.9H215.95V1427.9H217.04V1427.9H218.13V1427.9H219.21V1427.9H220.30V1427.9H221.38V1427.9H222.47V1427.9H223.56V1427.9H224.64V1427.8H225.73V1427.7H226.81V1427.6H227.90V1427.4H228.98V1427.3H230.07V1427.2H231.16V1427.0H232.24V1426.9H233.33V1426.8H234.41V1426.6H235.50V1427.90Z" fill="#ec2027"/>
<rect x="244.15" y="1096.7" width="107.5" height="331.20" fill="#f5a71f"/>
<path d="M244.15 1427.90V1096.7H245.15V1096.7H246.14V1096.7H247.14V1096.7H248.13V1096.7H249.13V1096.7H250.12V1096.7H251.12V1096.7H252.11V1096.7H253.11V1096.7H254.10V1096.7H255.10V1096.7H256.09V1096.7H257.09V1096.7H258.09V1096.7H259.08V1096.7H260.08V1096.7H261.07V1096.7H262.07V1096.7H263.06V1096.7H264.06V1096.7H265.05V1100.0H266.05V1096.7H267.04V1096.7H268.04V1096.7H269.03V1096.7H270.03V1096.7H271.02V1096.7H272.02V1096.7H273.02V1096.7H274.01V1096.7H275.01V1096.7H276.00V1096.7H277.00V1096.7H277.99V1096.7H278.99V1096.7H279.98V1096.7H280.98V1096.7H281.97V1096.7H282.97V1100.0H283.96V1096.7H284.96V1096.7H285.96V1096.7H286.95V1096.7H287.95V1096.7H288.94V1096.7H289.94V1096.7H290.93V1096.7H291.93V1096.7H292.92V1096.7H293.92V1096.7H294.91V1096.7H295.91V1096.7H296.90V1096.7H297.90V1100.0H298.90V1100.0H299.89V1096.7H300.89V1096.7H301.88V1096.7H302.88V1100.0H303.87V1096.7H304.87V1096.7H305.86V1096.7H306.86V1096.7H307.85V1096.7H308.85V1096.7H309.84V1096.7H310.84V1096.7H311.84V1096.7H312.83V1096.7H313.83V1096.7H314.82V1096.7H315.82V1096.7H316.81V1096.7H317.81V1096.7H318.80V1096.7H319.80V1096.7H320.79V1096.7H321.79V1096.7H322.78V1096.7H323.78V1096.7H324.77V1096.7H325.77V1096.7H326.77V1096.7H327.76V1096.7H328.76V1096.7H329.75V1096.7H330.75V1096.7H331.74V1096.7H332.74V1096.7H333.73V1096.7H334.73V1096.7H335.72V1096.7H336.72V1096.7H337.71V1096.7H338.71V1096.7H339.71V1096.7H340.70V1100.0H341.70V1096.7H342.69V1096.7H343.69V1096.7H344.68V1096.7H345.68V1096.7H346.67V1096.7H347.67V1096.7H348.66V1096.7H349.66V1100.0H350.65V1096.7H351.65V1427.90Z" fill="#0a4fa0"/>
<path d="M244.15 1427.90V1427.9H245.15V1427.9H246.14V1427.9H247.14V1427.9H248.13V1427.9H249.13V1427.9H250.12V1427.9H251.12V1427.9H252.11V1427.9H253.11V1427.9H254.10V1427.9H255.10V1427.9H256.09V1427.9H257.09V1427.9H258.09V1427.9H259.08V1427.9H260.08V1427.9H261.07V1427.9H262.07V1427.9H263.06V1427.9H264.06V1427.9H265.05V1427.9H266.05V1427.9H267.04V1427.9H268.04V1427.9H269.03V1427.9H270.03V1427.9H271.02V1427.9H272.02V1427.9H273.02V1427.9H274.01V1427.9H275.01V1427.9H276.00V1427.9H277.00V1427.9H277.99V1427.9H278.99V1427.9H279.98V1427.9H280.98V1427.9H281.97V1427.9H282.97V1427.9H283.96V1427.9H284.96V1427.9H285.96V1427.9H286.95V1427.9H287.95V1427.9H288.94V1427.9H289.94V1427.9H290.93V1427.9H291.93V1427.9H292.92V1427.9H293.92V1427.9H294.91V1427.9H295.91V1427.9H296.90V1427.9H297.90V1427.9H298.90V1427.9H299.89V1427.9H300.89V1427.9H301.88V1427.9H302.88V1427.9H303.87V1427.9H304.87V1427.9H305.86V1427.9H306.86V1427.9H307.85V1427.9H308.85V1427.9H309.84V1427.9H310.84V1427.9H311.84V1427.9H312.83V1427.9H313.83V1427.9H314.82V1427.9H315.82V1427.9H316.81V1427.9H317.81V1427.9H318.80V1427.9H319.80V1427.9H320.79V1427.9H321.79V1427.9H322.78V1427.9H323.78V1427.9H324.77V1427.9H325.77V1427.8H326.77V1427.7H327.76V1427.6H328.76V1427.5H329.75V1427.5H330.75V1427.4H331.74V1427.3H332.74V1427.2H333.73V1427.1H334.73V1427.0H335.72V1427.0H336.72V1426.9H337.71V1426.8H338.71V1426.7H339.71V1426.6H340.70V1426.5H341.70V1426.3H342.69V1426.0H343.69V1425.8H344.68V1425.5H345.68V1425.3H346.67V1425.0H347.67V1424.8H348.66V1424.5H349.66V1424.3H350.65V1424.0H351.65V1427.90Z" fill="#ec2027"/>
<rect x="360.30" y="1096.7" width="107.5" height="331.20" fill="#f5a71f"/>
<path d="M360.30 1427.90V1427.8H361.48V1427.7H362.66V1427.5H363.84V1427.4H365.03V1427.2H366.21V1427.1H367.39V1427.0H368.57V1426.8H369.75V1426.7H370.93V1426.5H372.11V1426.5H373.29V1426.4H374.48V1426.3H375.66V1426.3H376.84V1426.2H378.02V1426.1H379.20V1426.0H380.38V1422.7H381.56V1425.9H382.75V1425.8H383.93V1425.7H385.11V1425.7H386.29V1425.6H387.47V1425.5H388.65V1425.5H389.83V1425.4H391.01V1425.3H392.20V1425.2H393.38V1425.2H394.56V1425.1H395.74V1425.0H396.92V1424.9H398.10V1424.9H399.28V1424.8H400.46V1424.7H401.65V1421.3H402.83V1421.3H404.01V1424.5H405.19V1421.1H406.37V1424.4H407.55V1424.3H408.73V1424.2H409.92V1424.1H411.10V1420.8H412.28V1420.7H413.46V1423.9H414.64V1420.5H415.82V1423.7H417.00V1423.6H418.18V1420.2H419.37V1420.1H420.55V1423.3H421.73V1423.2H422.91V1423.1H424.09V1423.1H425.27V1423.0H426.45V1422.9H427.64V1422.8H428.82V1422.7H430.00V1422.6H431.18V1422.5H432.36V1419.1H433.54V1422.3H434.72V1422.2H435.90V1422.1H437.09V1422.0H438.27V1421.9H439.45V1421.8H440.63V1421.7H441.81V1421.6H442.99V1421.5H444.17V1421.4H445.35V1421.3H446.54V1421.1H447.72V1417.6H448.90V1420.8H450.08V1420.6H451.26V1417.1H452.44V1420.2H453.62V1420.0H454.81V1419.8H455.99V1419.6H457.17V1419.4H458.35V1419.2H459.53V1419.0H460.71V1418.8H461.89V1418.6H463.07V1418.2H464.26V1417.7H465.44V1417.3H466.62V1416.9H467.80V1427.90Z" fill="#0a4fa0"/>
<path d="M360.30 1427.90V1427.8H361.48V1427.7H362.66V1427.5H363.84V1427.4H365.03V1427.2H366.21V1427.1H367.39V1427.0H368.57V1426.8H369.75V1426.7H370.93V1426.5H372.11V1426.5H373.29V1426.4H374.48V1426.3H375.66V1426.3H376.84V1426.2H378.02V1426.1H379.20V1426.0H380.38V1426.0H381.56V1425.9H382.75V1425.8H383.93V1425.7H385.11V1425.7H386.29V1425.6H387.47V1425.5H388.65V1425.5H389.83V1425.4H391.01V1425.3H392.20V1425.2H393.38V1425.2H394.56V1425.1H395.74V1425.0H396.92V1424.9H398.10V1424.9H399.28V1424.8H400.46V1424.7H401.65V1424.7H402.83V1424.6H404.01V1424.5H405.19V1424.4H406.37V1424.4H407.55V1424.3H408.73V1424.2H409.92V1424.1H411.10V1424.1H412.28V1424.0H413.46V1423.9H414.64V1423.8H415.82V1423.7H417.00V1423.6H418.18V1423.5H419.37V1423.4H420.55V1423.3H421.73V1423.2H422.91V1423.1H424.09V1423.1H425.27V1423.0H426.45V1422.9H427.64V1422.8H428.82V1422.7H430.00V1422.6H431.18V1422.5H432.36V1422.4H433.54V1422.3H434.72V1422.2H435.90V1422.1H437.09V1422.0H438.27V1421.9H439.45V1421.8H440.63V1421.7H441.81V1421.6H442.99V1421.5H444.17V1421.4H445.35V1421.3H446.54V1421.1H447.72V1420.9H448.90V1420.8H450.08V1420.6H451.26V1420.4H452.44V1420.2H453.62V1420.0H454.81V1419.8H455.99V1419.6H457.17V1419.4H458.35V1419.2H459.53V1419.0H460.71V1418.8H461.89V1418.6H463.07V1418.2H464.26V1417.7H465.44V1417.3H466.62V1416.9H467.80V1427.90Z" fill="#ec2027"/>
<rect x="476.45" y="1096.7" width="107.5" height="331.20" fill="#f5a71f"/>
<path d="M476.45 1427.90V1418.5H477.45V1422.6H478.46V1407.3H479.46V1419.8H480.47V1421.8H481.47V1413.6H482.48V1423.4H483.48V1419.6H484.49V1408.7H485.49V1415.0H486.50V1415.2H487.50V1421.6H488.51V1422.9H489.51V1419.9H490.52V1414.0H491.52V1408.2H492.52V1407.9H493.53V1422.3H494.53V1421.8H495.54V1418.2H496.54V1413.8H497.55V1421.6H498.55V1413.7H499.56V1422.3H500.56V1407.0H501.57V1419.0H502.57V1419.4H503.58V1407.0H504.58V1406.9H505.59V1420.8H506.59V1419.1H507.59V1417.2H508.60V1419.3H509.60V1406.8H510.61V1421.7H511.61V1422.7H512.62V1414.4H513.62V1419.9H514.63V1422.2H515.63V1409.6H516.64V1403.7H517.64V1422.1H518.65V1417.1H519.65V1420.9H520.66V1422.6H521.66V1422.5H522.66V1421.6H523.67V1419.1H524.67V1420.5H525.68V1419.0H526.68V1421.7H527.69V1417.5H528.69V1412.8H529.70V1412.5H530.70V1415.6H531.71V1410.4H532.71V1420.7H533.72V1421.4H534.72V1411.0H535.73V1421.1H536.73V1420.9H537.74V1413.0H538.74V1414.2H539.74V1419.7H540.75V1422.3H541.75V1416.2H542.76V1405.7H543.76V1418.5H544.77V1418.5H545.77V1421.1H546.78V1409.9H547.78V1417.8H548.79V1417.6H549.79V1420.9H550.80V1412.2H551.80V1408.0H552.81V1421.5H553.81V1418.4H554.81V1419.5H555.82V1417.7H556.82V1405.0H557.83V1414.9H558.83V1420.2H559.84V1414.0H560.84V1419.9H561.85V1405.6H562.85V1409.0H563.86V1414.3H564.86V1415.4H565.87V1415.7H566.87V1403.9H567.88V1418.8H568.88V1413.1H569.88V1411.3H570.89V1408.1H571.89V1413.7H572.90V1412.2H573.90V1412.7H574.91V1416.9H575.91V1418.6H576.92V1412.9H577.92V1416.5H578.93V1411.6H579.93V1411.3H580.94V1412.6H581.94V1399.7H582.95V1409.4H583.95V1427.90Z" fill="#0a4fa0"/>
<path d="M476.45 1427.90V1427.9H477.45V1427.9H478.46V1427.9H479.46V1427.8H480.47V1427.8H481.47V1427.8H482.48V1427.8H483.48V1427.8H484.49V1427.8H485.49V1427.8H486.50V1427.7H487.50V1427.7H488.51V1427.7H489.51V1427.7H490.52V1427.7H491.52V1427.7H492.52V1427.6H493.53V1427.6H494.53V1427.6H495.54V1427.6H496.54V1427.6H497.55V1427.6H498.55V1427.6H499.56V1427.5H500.56V1427.5H501.57V1427.5H502.57V1427.5H503.58V1427.5H504.58V1427.5H505.59V1427.4H506.59V1427.4H507.59V1427.4H508.60V1427.4H509.60V1427.4H510.61V1427.4H511.61V1427.4H512.62V1427.3H513.62V1427.3H514.63V1427.3H515.63V1427.3H516.64V1427.3H517.64V1427.3H518.65V1427.2H519.65V1427.2H520.66V1427.2H521.66V1427.1H522.66V1427.1H523.67V1427.0H524.67V1427.0H525.68V1427.0H526.68V1426.9H527.69V1426.9H528.69V1426.8H529.70V1426.8H530.70V1426.8H531.71V1426.7H532.71V1426.7H533.72V1426.6H534.72V1426.6H535.73V1426.5H536.73V1426.5H537.74V1426.5H538.74V1426.4H539.74V1426.4H540.75V1426.3H541.75V1426.3H542.76V1426.3H543.76V1426.2H544.77V1426.2H545.77V1426.1H546.78V1426.1H547.78V1426.1H548.79V1426.0H549.79V1426.0H550.80V1425.9H551.80V1425.9H552.81V1425.8H553.81V1425.7H554.81V1425.6H555.82V1425.5H556.82V1425.4H557.83V1425.3H558.83V1425.2H559.84V1425.1H560.84V1425.0H561.85V1424.9H562.85V1424.8H563.86V1424.7H564.86V1424.6H565.87V1424.6H566.87V1424.5H567.88V1424.4H568.88V1424.3H569.88V1424.2H570.89V1424.1H571.89V1424.0H572.90V1423.8H573.90V1423.4H574.91V1423.0H575.91V1422.6H576.92V1422.2H577.92V1421.8H578.93V1421.4H579.93V1421.0H580.94V1420.6H581.94V1420.2H582.95V1419.8H583.95V1427.90Z" fill="#ec2027"/>
<rect x="592.60" y="1096.7" width="107.5" height="331.20" fill="#f5a71f"/>
<path d="M592.60 1427.90V1294.6H593.63V1381.5H594.67V1182.8H595.70V1352.3H596.73V1388.2H597.77V1379.9H598.80V1376.4H599.84V1199.4H600.87V1384.6H601.90V1305.7H602.94V1380.2H603.97V1379.1H605.00V1309.2H606.04V1372.1H607.07V1365.8H608.10V1373.5H609.14V1365.4H610.17V1358.0H611.21V1375.7H612.24V1374.4H613.27V1353.2H614.31V1339.6H615.34V1372.2H616.37V1272.8H617.41V1363.4H618.44V1317.3H619.48V1359.6H620.51V1351.0H621.54V1312.0H622.58V1355.1H623.61V1353.8H624.64V1320.4H625.68V1365.3H626.71V1268.9H627.74V1361.7H628.78V1357.7H629.81V1354.0H630.85V1319.3H631.88V1360.2H632.91V1330.5H633.95V1348.6H634.98V1358.0H636.01V1349.9H637.05V1346.9H638.08V1358.3H639.11V1302.9H640.15V1300.7H641.18V1355.5H642.22V1345.2H643.25V1318.4H644.28V1342.2H645.32V1343.7H646.35V1348.5H647.38V1351.5H648.42V1299.8H649.45V1332.4H650.48V1334.9H651.52V1348.2H652.55V1331.3H653.59V1339.9H654.62V1349.5H655.65V1334.6H656.69V1346.3H657.72V1352.6H658.75V1307.2H659.79V1343.2H660.82V1347.3H661.85V1350.9H662.89V1298.9H663.92V1331.8H664.96V1345.6H665.99V1343.5H667.02V1342.8H668.06V1330.5H669.09V1310.9H670.12V1311.1H671.16V1322.7H672.19V1340.6H673.23V1304.9H674.26V1340.7H675.29V1337.5H676.33V1336.1H677.36V1339.7H678.39V1318.5H679.43V1314.6H680.46V1337.9H681.49V1308.4H682.53V1339.1H683.56V1327.0H684.60V1287.5H685.63V1268.4H686.66V1284.3H687.70V1316.0H688.73V1333.9H689.76V1332.1H690.80V1318.0H691.83V1329.1H692.86V1321.1H693.90V1323.8H694.93V1278.0H695.97V1316.9H697.00V1305.7H698.03V1285.7H699.07V1294.0H700.10V1427.90Z" fill="#0a4fa0"/>
<path d="M592.60 1427.90V1411.5H593.63V1409.8H594.67V1408.0H595.70V1406.3H596.73V1404.6H597.77V1403.0H598.80V1401.6H599.84V1400.2H600.87V1398.8H601.90V1397.4H602.94V1396.0H603.97V1395.3H605.00V1394.6H606.04V1393.9H607.07V1393.2H608.10V1392.5H609.14V1391.8H610.17V1391.1H611.21V1390.4H612.24V1389.7H613.27V1389.0H614.31V1388.5H615.34V1388.1H616.37V1387.7H617.41V1387.3H618.44V1386.9H619.48V1386.5H620.51V1386.0H621.54V1385.6H622.58V1385.2H623.61V1384.8H624.64V1384.4H625.68V1384.1H626.71V1383.7H627.74V1383.4H628.78V1383.0H629.81V1382.7H630.85V1382.3H631.88V1382.0H632.91V1381.6H633.95V1381.3H634.98V1380.9H636.01V1380.6H637.05V1380.4H638.08V1380.1H639.11V1379.9H640.15V1379.6H641.18V1379.4H642.22V1379.1H643.25V1378.9H644.28V1378.6H645.32V1378.3H646.35V1378.1H647.38V1377.9H648.42V1377.7H649.45V1377.6H650.48V1377.4H651.52V1377.2H652.55V1377.0H653.59V1376.8H654.62V1376.6H655.65V1376.4H656.69V1376.2H657.72V1375.8H658.75V1375.5H659.79V1375.1H660.82V1374.8H661.85V1374.4H662.89V1374.1H663.92V1373.7H664.96V1373.4H665.99V1373.0H667.02V1372.7H668.06V1372.2H669.09V1371.7H670.12V1371.2H671.16V1370.7H672.19V1370.2H673.23V1369.7H674.26V1369.2H675.29V1368.7H676.33V1368.2H677.36V1367.6H678.39V1367.1H679.43V1366.6H680.46V1366.0H681.49V1365.5H682.53V1365.0H683.56V1364.4H684.60V1363.9H685.63V1363.3H686.66V1362.8H687.70V1362.3H688.73V1361.7H689.76V1361.1H690.80V1360.4H691.83V1359.8H692.86V1359.2H693.90V1358.5H694.93V1356.8H695.97V1354.7H697.00V1352.5H698.03V1350.3H699.07V1348.2H700.10V1427.90Z" fill="#ec2027"/>
<rect x="708.75" y="1096.7" width="107.5" height="331.20" fill="#f5a71f"/>
<path d="M708.75 1427.90V1376.5H709.89V1370.6H711.04V1345.5H712.18V1371.2H713.32V1353.1H714.47V1365.2H715.61V1353.4H716.76V1364.1H717.90V1366.2H719.04V1325.2H720.19V1364.4H721.33V1360.7H722.47V1339.7H723.62V1355.9H724.76V1342.5H725.90V1317.5H727.05V1346.2H728.19V1330.4H729.34V1341.4H730.48V1339.3H731.62V1324.4H732.77V1332.1H733.91V1333.4H735.05V1312.5H736.20V1335.3H737.34V1298.6H738.48V1219.2H739.63V1317.8H740.77V1328.7H741.91V1333.7H743.06V1323.1H744.20V1336.5H745.35V1329.8H746.49V1318.7H747.63V1332.3H748.78V1328.8H749.92V1306.3H751.06V1319.2H752.21V1327.8H753.35V1329.1H754.49V1330.6H755.64V1305.1H756.78V1328.1H757.93V1266.3H759.07V1319.5H760.21V1210.3H761.36V1321.8H762.50V1318.8H763.64V1324.1H764.79V1321.6H765.93V1314.2H767.07V1299.9H768.22V1279.4H769.36V1314.0H770.51V1315.8H771.65V1319.6H772.79V1312.3H773.94V1296.3H775.08V1318.8H776.22V1301.8H777.37V1306.4H778.51V1316.5H779.65V1294.6H780.80V1302.4H781.94V1308.1H783.09V1308.8H784.23V1305.5H785.37V1306.4H786.52V1291.2H787.66V1268.5H788.80V1219.2H789.95V1248.1H791.09V1300.4H792.23V1283.7H793.38V1291.5H794.52V1249.2H795.66V1292.8H796.81V1223.5H797.95V1284.6H799.10V1235.8H800.24V1266.1H801.38V1282.0H802.53V1285.6H803.67V1268.3H804.81V1262.0H805.96V1227.0H807.10V1269.7H808.24V1270.0H809.39V1258.2H810.53V1239.7H811.68V1251.2H812.82V1209.3H813.96V1215.9H815.11V1223.5H816.25V1427.90Z" fill="#0a4fa0"/>
<path d="M708.75 1427.90V1408.5H709.89V1401.0H711.04V1394.1H712.18V1387.6H713.32V1381.2H714.47V1379.0H715.61V1378.0H716.76V1376.9H717.90V1375.9H719.04V1374.6H720.19V1371.8H721.33V1369.0H722.47V1366.2H723.62V1363.4H724.76V1360.7H725.90V1358.4H727.05V1356.1H728.19V1353.8H729.34V1351.4H730.48V1350.3H731.62V1349.8H732.77V1349.2H733.91V1348.6H735.05V1348.1H736.20V1347.5H737.34V1347.0H738.48V1346.4H739.63V1345.8H740.77V1345.2H741.91V1344.6H743.06V1343.9H744.20V1343.2H745.35V1342.6H746.49V1341.9H747.63V1341.2H748.78V1340.5H749.92V1339.9H751.06V1339.2H752.21V1338.5H753.35V1337.9H754.49V1337.2H755.64V1336.5H756.78V1335.9H757.93V1335.2H759.07V1334.5H760.21V1333.8H761.36V1333.2H762.50V1332.5H763.64V1331.9H764.79V1331.3H765.93V1330.7H767.07V1330.2H768.22V1329.6H769.36V1329.0H770.51V1328.4H771.65V1327.8H772.79V1327.1H773.94V1326.4H775.08V1325.6H776.22V1324.8H777.37V1324.0H778.51V1323.3H779.65V1322.5H780.80V1321.7H781.94V1320.9H783.09V1320.2H784.23V1318.7H785.37V1317.0H786.52V1315.3H787.66V1313.5H788.80V1311.8H789.95V1310.1H791.09V1308.4H792.23V1306.6H793.38V1304.9H794.52V1303.2H795.66V1301.7H796.81V1300.1H797.95V1298.6H799.10V1297.0H800.24V1295.5H801.38V1293.9H802.53V1292.4H803.67V1290.8H804.81V1289.3H805.96V1285.7H807.10V1281.9H808.24V1278.1H809.39V1274.3H810.53V1269.4H811.68V1260.1H812.82V1250.8H813.96V1241.5H815.11V1232.2H816.25V1427.90Z" fill="#ec2027"/>
<rect x="824.90" y="1096.7" width="107.5" height="331.20" fill="#f5a71f"/>
<path d="M824.90 1427.90V1208.5H825.07V1311.6H825.25V1344.3H825.42V1372.4H825.59V1366.3H825.77V1355.9H825.94V1374.4H826.11V1345.2H826.29V1278.6H826.46V1338.7H826.63V1361.5H826.81V1339.1H826.98V1340.4H827.15V1363.8H827.33V1326.4H827.50V1314.3H827.67V1254.7H827.85V1360.9H828.02V1358.2H828.19V1330.5H828.37V1362.9H828.54V1231.2H828.71V1341.0H828.89V1303.5H829.06V1150.6H829.23V1338.9H829.41V1262.4H829.58V1335.7H829.75V1356.1H829.93V1303.1H830.10V1341.8H830.28V1350.6H830.45V1334.4H830.62V1323.6H830.80V1333.0H830.97V1252.7H831.14V1268.9H831.32V1341.3H831.49V1254.6H831.66V1345.5H831.84V1350.7H832.01V1334.1H832.18V1280.1H832.36V1278.1H832.53V1334.2H832.70V1192.5H832.88V1334.4H833.05V1339.6H833.22V1321.8H833.40V1141.7H833.57V1338.8H833.74V1342.7H833.92V1251.6H834.09V1340.7H834.26V1322.0H834.44V1330.9H834.61V1337.5H834.78V1280.8H834.96V1255.8H835.13V1330.1H835.30V1331.1H835.48V1175.5H835.65V1239.9H835.82V1331.9H836.00V1329.8H836.17V1330.0H836.34V1249.3H836.52V1317.6H836.69V1233.4H836.86V1309.3H837.04V1298.3H837.21V1313.4H837.38V1312.0H837.56V1279.6H837.73V1331.0H837.90V1278.0H838.08V1314.0H838.25V1240.4H838.42V1306.3H838.60V1268.5H838.77V1317.0H838.94V1337.9H839.12V1308.4H839.29V1334.1H839.46V1324.9H839.64V1327.6H839.81V1269.1H839.98V1332.8H840.16V1275.9H840.33V1320.9H840.50V1337.8H840.68V1162.1H840.85V1233.6H841.03V1332.7H841.20V1316.0H841.37V1145.7H841.55V1327.8H841.72V1327.0H841.89V1319.5H842.07V1239.2H842.24V1335.4H842.41V1255.0H842.59V1311.9H842.76V1317.6H842.93V1319.6H843.11V1329.7H843.28V1310.9H843.45V1150.9H843.63V1327.2H843.80V1287.8H843.97V1335.6H844.15V1315.5H844.32V1323.1H844.49V1221.6H844.67V1282.5H844.84V1319.4H845.01V1246.8H845.19V1304.9H845.36V1280.7H845.53V1333.6H845.71V1302.2H845.88V1322.1H846.05V1327.8H846.23V1282.6H846.40V1250.9H846.57V1316.4H846.75V1332.8H846.92V1265.2H847.09V1287.6H847.27V1285.0H847.44V1249.3H847.61V1329.2H847.79V1330.4H847.96V1304.3H848.13V1311.3H848.31V1287.2H848.48V1315.0H848.65V1296.0H848.83V1223.2H849.00V1329.2H849.17V1303.5H849.35V1315.3H849.52V1313.9H849.69V1318.8H849.87V1305.0H850.04V1312.4H850.21V1269.8H850.39V1308.9H850.56V1257.4H850.73V1188.9H850.91V1315.1H851.08V1323.5H851.25V1282.9H851.43V1297.4H851.60V1301.6H851.78V1289.1H851.95V1185.9H852.12V1239.3H852.30V1280.0H852.47V1257.0H852.64V1301.0H852.82V1314.8H852.99V1317.4H853.16V1320.4H853.34V1325.6H853.51V1277.7H853.68V1266.8H853.86V1244.6H854.03V1315.6H854.20V1307.0H854.38V1275.4H854.55V1268.4H854.72V1292.5H854.90V1286.6H855.07V1321.3H855.24V1315.9H855.42V1290.1H855.59V1320.5H855.76V1285.0H855.94V1121.3H856.11V1324.2H856.28V1129.7H856.46V1324.6H856.63V1306.2H856.80V1249.9H856.98V1285.5H857.15V1304.8H857.32V1258.4H857.50V1320.3H857.67V1297.1H857.84V1323.9H858.02V1284.0H858.19V1297.3H858.36V1322.2H858.54V1309.0H858.71V1296.9H858.88V1240.5H859.06V1255.9H859.23V1290.8H859.40V1310.4H859.58V1149.7H859.75V1270.1H859.92V1315.8H860.10V1305.0H860.27V1246.3H860.44V1322.7H860.62V1258.0H860.79V1255.7H860.96V1154.3H861.14V1301.4H861.31V1151.8H861.48V1302.1H861.66V1253.5H861.83V1304.2H862.00V1306.1H862.18V1266.0H862.35V1289.3H862.53V1317.2H862.70V1232.0H862.87V1305.6H863.05V1312.1H863.22V1263.4H863.39V1298.0H863.57V1299.5H863.74V1307.9H863.91V1304.9H864.09V1141.8H864.26V1301.1H864.43V1281.0H864.61V1279.6H864.78V1315.5H864.95V1295.4H865.13V1300.2H865.30V1284.9H865.47V1279.2H865.65V1282.6H865.82V1293.7H865.99V1304.2H866.17V1298.3H866.34V1128.6H866.51V1243.5H866.69V1246.1H866.86V1151.2H867.03V1267.6H867.21V1293.9H867.38V1309.8H867.55V1315.6H867.73V1290.7H867.90V1238.6H868.07V1220.7H868.25V1299.5H868.42V1300.7H868.59V1313.0H868.77V1239.8H868.94V1315.0H869.11V1276.9H869.29V1308.8H869.46V1317.2H869.63V1276.6H869.81V1268.5H869.98V1268.5H870.15V1312.3H870.33V1299.0H870.50V1268.6H870.67V1301.8H870.85V1275.8H871.02V1295.2H871.19V1199.3H871.37V1305.8H871.54V1231.5H871.71V1269.9H871.89V1296.3H872.06V1291.9H872.23V1302.8H872.41V1302.0H872.58V1304.6H872.75V1222.7H872.93V1298.8H873.10V1279.0H873.28V1222.0H873.45V1296.4H873.62V1298.3H873.80V1314.7H873.97V1297.0H874.14V1269.5H874.32V1160.2H874.49V1242.3H874.66V1134.9H874.84V1293.9H875.01V1131.3H875.18V1308.6H875.36V1311.3H875.53V1274.4H875.70V1245.7H875.88V1309.4H876.05V1233.2H876.22V1313.4H876.40V1282.8H876.57V1299.4H876.74V1279.5H876.92V1284.4H877.09V1302.3H877.26V1303.8H877.44V1288.4H877.61V1235.2H877.78V1282.9H877.96V1231.1H878.13V1313.1H878.30V1258.5H878.48V1241.6H878.65V1173.0H878.82V1311.2H879.00V1300.6H879.17V1296.5H879.34V1222.8H879.52V1284.1H879.69V1298.1H879.86V1293.8H880.04V1294.3H880.21V1310.5H880.38V1281.4H880.56V1302.0H880.73V1296.7H880.90V1255.0H881.08V1290.6H881.25V1274.9H881.42V1274.3H881.60V1273.1H881.77V1283.4H881.94V1309.6H882.12V1298.7H882.29V1230.3H882.46V1264.5H882.64V1237.8H882.81V1240.6H882.98V1309.0H883.16V1270.7H883.33V1174.1H883.50V1193.3H883.68V1264.0H883.85V1307.8H884.03V1253.3H884.20V1287.1H884.37V1255.9H884.55V1236.4H884.72V1305.7H884.89V1183.2H885.07V1300.7H885.24V1234.7H885.41V1222.1H885.59V1263.8H885.76V1261.8H885.93V1305.5H886.11V1273.6H886.28V1302.6H886.45V1279.5H886.63V1233.4H886.80V1282.6H886.97V1260.2H887.15V1255.3H887.32V1306.8H887.49V1257.3H887.67V1275.4H887.84V1284.1H888.01V1251.3H888.19V1151.9H888.36V1275.9H888.53V1184.3H888.71V1304.7H888.88V1299.7H889.05V1303.4H889.23V1213.6H889.40V1289.9H889.57V1294.3H889.75V1295.8H889.92V1276.5H890.09V1296.3H890.27V1295.1H890.44V1278.8H890.61V1226.9H890.79V1275.6H890.96V1263.4H891.13V1295.5H891.31V1289.2H891.48V1282.8H891.65V1188.7H891.83V1289.9H892.00V1302.8H892.17V1304.4H892.35V1272.9H892.52V1292.1H892.69V1261.9H892.87V1272.2H893.04V1227.1H893.21V1303.8H893.39V1276.1H893.56V1297.9H893.73V1279.4H893.91V1273.1H894.08V1300.8H894.25V1256.6H894.43V1182.6H894.60V1140.0H894.78V1258.6H894.95V1194.3H895.12V1151.1H895.30V1149.5H895.47V1257.9H895.64V1247.5H895.82V1303.2H895.99V1231.8H896.16V1204.2H896.34V1269.4H896.51V1259.3H896.68V1217.3H896.86V1293.5H897.03V1288.8H897.20V1293.0H897.38V1218.7H897.55V1290.5H897.72V1258.9H897.90V1301.8H898.07V1295.0H898.24V1285.9H898.42V1122.0H898.59V1240.4H898.76V1240.2H898.94V1267.6H899.11V1168.0H899.28V1301.9H899.46V1295.1H899.63V1193.6H899.80V1298.1H899.98V1295.5H900.15V1215.6H900.32V1279.1H900.50V1290.7H900.67V1295.3H900.84V1288.4H901.02V1272.4H901.19V1243.7H901.36V1299.5H901.54V1287.5H901.71V1273.7H901.88V1267.7H902.06V1153.4H902.23V1224.7H902.40V1182.6H902.58V1242.3H902.75V1294.3H902.92V1243.9H903.10V1272.6H903.27V1239.5H903.44V1288.4H903.62V1274.2H903.79V1282.3H903.96V1278.1H904.14V1283.5H904.31V1186.3H904.48V1292.5H904.66V1285.6H904.83V1288.4H905.00V1177.4H905.18V1251.0H905.35V1270.5H905.53V1213.1H905.70V1263.3H905.87V1294.6H906.05V1255.8H906.22V1273.9H906.39V1286.9H906.57V1285.6H906.74V1274.6H906.91V1269.5H907.09V1221.1H907.26V1288.0H907.43V1229.5H907.61V1248.9H907.78V1227.8H907.95V1226.5H908.13V1130.2H908.30V1231.0H908.47V1184.2H908.65V1250.1H908.82V1210.6H908.99V1246.2H909.17V1254.7H909.34V1292.4H909.51V1231.0H909.69V1175.7H909.86V1274.3H910.03V1287.0H910.21V1250.2H910.38V1263.8H910.55V1285.1H910.73V1175.5H910.90V1192.9H911.07V1253.1H911.25V1276.0H911.42V1174.6H911.59V1265.7H911.77V1282.8H911.94V1275.3H912.11V1273.3H912.29V1249.0H912.46V1279.8H912.63V1285.3H912.81V1230.9H912.98V1174.8H913.15V1257.6H913.33V1280.9H913.50V1282.6H913.67V1236.5H913.85V1228.6H914.02V1263.3H914.19V1261.7H914.37V1285.7H914.54V1238.7H914.71V1264.6H914.89V1265.9H915.06V1167.2H915.23V1284.4H915.41V1283.4H915.58V1281.6H915.75V1258.4H915.93V1128.7H916.10V1275.1H916.28V1263.3H916.45V1272.6H916.62V1260.0H916.80V1259.4H916.97V1262.2H917.14V1258.7H917.32V1258.5H917.49V1132.5H917.66V1237.0H917.84V1229.5H918.01V1236.8H918.18V1271.7H918.36V1144.9H918.53V1281.1H918.70V1269.1H918.88V1260.2H919.05V1180.0H919.22V1209.4H919.40V1243.5H919.57V1223.4H919.74V1229.4H919.92V1147.6H920.09V1263.2H920.26V1265.9H920.44V1250.6H920.61V1185.9H920.78V1210.5H920.96V1239.6H921.13V1154.5H921.30V1259.6H921.48V1262.5H921.65V1203.9H921.82V1257.8H922.00V1256.0H922.17V1259.3H922.34V1262.2H922.52V1269.7H922.69V1260.0H922.86V1270.8H923.04V1261.5H923.21V1253.6H923.38V1243.3H923.56V1200.0H923.73V1125.4H923.90V1227.8H924.08V1249.9H924.25V1193.6H924.42V1258.0H924.60V1255.0H924.77V1253.7H924.94V1132.0H925.12V1186.8H925.29V1201.6H925.46V1223.6H925.64V1177.1H925.81V1247.0H925.98V1243.4H926.16V1224.7H926.33V1246.3H926.50V1256.7H926.68V1243.8H926.85V1229.8H927.03V1164.9H927.20V1209.6H927.37V1231.1H927.55V1226.0H927.72V1186.8H927.89V1249.2H928.07V1183.3H928.24V1239.4H928.41V1199.5H928.59V1221.0H928.76V1157.2H928.93V1169.4H929.11V1137.0H929.28V1226.8H929.45V1156.0H929.63V1239.6H929.80V1196.9H929.97V1146.9H930.15V1200.0H930.32V1210.3H930.49V1225.0H930.67V1217.1H930.84V1232.3H931.01V1222.1H931.19V1214.3H931.36V1225.6H931.53V1159.3H931.71V1139.6H931.88V1173.8H932.05V1126.9H932.23V1152.2H932.40V1427.90Z" fill="#0a4fa0"/>
<path d="M824.90 1427.90V1394.2H825.07V1393.0H825.25V1391.8H825.42V1390.6H825.59V1389.4H825.77V1388.2H825.94V1387.0H826.11V1385.8H826.29V1384.6H826.46V1383.4H826.63V1382.3H826.81V1381.1H826.98V1379.9H827.15V1378.7H827.33V1377.5H827.50V1376.3H827.67V1375.1H827.85V1373.9H828.02V1372.7H828.19V1371.9H828.37V1371.1H828.54V1370.4H828.71V1369.6H828.89V1368.8H829.06V1368.1H829.23V1367.3H829.41V1366.5H829.58V1365.8H829.75V1365.0H829.93V1364.2H830.10V1363.5H830.28V1362.7H830.45V1361.9H830.62V1361.2H830.80V1360.4H830.97V1359.6H831.14V1358.9H831.32V1358.3H831.49V1357.9H831.66V1357.6H831.84V1357.3H832.01V1357.0H832.18V1356.7H832.36V1356.4H832.53V1356.1H832.70V1355.8H832.88V1355.5H833.05V1355.2H833.22V1354.9H833.40V1354.6H833.57V1354.3H833.74V1354.0H833.92V1353.6H834.09V1353.3H834.26V1353.0H834.44V1352.7H834.61V1352.4H834.78V1352.1H834.96V1351.8H835.13V1351.5H835.30V1351.2H835.48V1350.9H835.65V1350.7H835.82V1350.5H836.00V1350.3H836.17V1350.2H836.34V1350.0H836.52V1349.8H836.69V1349.7H836.86V1349.5H837.04V1349.4H837.21V1349.2H837.38V1349.0H837.56V1348.9H837.73V1348.7H837.90V1348.6H838.08V1348.4H838.25V1348.2H838.42V1348.1H838.60V1347.9H838.77V1347.8H838.94V1347.6H839.12V1347.4H839.29V1347.3H839.46V1347.1H839.64V1347.0H839.81V1346.8H839.98V1346.6H840.16V1346.5H840.33V1346.3H840.50V1346.2H840.68V1346.0H840.85V1345.8H841.03V1345.7H841.20V1345.5H841.37V1345.4H841.55V1345.2H841.72V1345.0H841.89V1344.9H842.07V1344.7H842.24V1344.6H842.41V1344.4H842.59V1344.2H842.76V1344.1H842.93V1343.9H843.11V1343.8H843.28V1343.6H843.45V1343.4H843.63V1343.3H843.80V1343.1H843.97V1343.0H844.15V1342.8H844.32V1342.6H844.49V1342.5H844.67V1342.3H844.84V1342.2H845.01V1342.0H845.19V1341.8H845.36V1341.7H845.53V1341.5H845.71V1341.4H845.88V1341.2H846.05V1341.0H846.23V1340.9H846.40V1340.7H846.57V1340.6H846.75V1340.4H846.92V1340.3H847.09V1340.1H847.27V1340.0H847.44V1339.9H847.61V1339.7H847.79V1339.6H847.96V1339.4H848.13V1339.3H848.31V1339.1H848.48V1339.0H848.65V1338.8H848.83V1338.7H849.00V1338.6H849.17V1338.4H849.35V1338.3H849.52V1338.1H849.69V1338.0H849.87V1337.8H850.04V1337.7H850.21V1337.5H850.39V1337.4H850.56V1337.3H850.73V1337.1H850.91V1337.0H851.08V1336.8H851.25V1336.7H851.43V1336.5H851.60V1336.4H851.78V1336.3H851.95V1336.1H852.12V1336.0H852.30V1335.8H852.47V1335.7H852.64V1335.5H852.82V1335.4H852.99V1335.2H853.16V1335.1H853.34V1335.0H853.51V1334.8H853.68V1334.7H853.86V1334.5H854.03V1334.4H854.20V1334.2H854.38V1334.1H854.55V1333.9H854.72V1333.8H854.90V1333.7H855.07V1333.5H855.24V1333.4H855.42V1333.2H855.59V1333.1H855.76V1332.9H855.94V1332.8H856.11V1332.6H856.28V1332.5H856.46V1332.4H856.63V1332.2H856.80V1332.1H856.98V1331.9H857.15V1331.8H857.32V1331.7H857.50V1331.6H857.67V1331.5H857.84V1331.4H858.02V1331.3H858.19V1331.2H858.36V1331.1H858.54V1330.9H858.71V1330.8H858.88V1330.7H859.06V1330.6H859.23V1330.5H859.40V1330.4H859.58V1330.3H859.75V1330.2H859.92V1330.1H860.10V1330.0H860.27V1329.9H860.44V1329.8H860.62V1329.7H860.79V1329.6H860.96V1329.4H861.14V1329.3H861.31V1329.2H861.48V1329.1H861.66V1329.0H861.83V1328.9H862.00V1328.8H862.18V1328.7H862.35V1328.6H862.53V1328.5H862.70V1328.4H862.87V1328.3H863.05V1328.2H863.22V1328.1H863.39V1328.0H863.57V1327.8H863.74V1327.7H863.91V1327.6H864.09V1327.5H864.26V1327.4H864.43V1327.3H864.61V1327.2H864.78V1327.1H864.95V1327.0H865.13V1326.9H865.30V1326.8H865.47V1326.7H865.65V1326.6H865.82V1326.5H865.99V1326.3H866.17V1326.2H866.34V1326.1H866.51V1326.0H866.69V1325.9H866.86V1325.8H867.03V1325.7H867.21V1325.6H867.38V1325.5H867.55V1325.4H867.73V1325.3H867.90V1325.2H868.07V1325.1H868.25V1325.0H868.42V1324.9H868.59V1324.8H868.77V1324.8H868.94V1324.7H869.11V1324.6H869.29V1324.5H869.46V1324.4H869.63V1324.3H869.81V1324.2H869.98V1324.2H870.15V1324.1H870.33V1324.0H870.50V1323.9H870.67V1323.8H870.85V1323.7H871.02V1323.6H871.19V1323.6H871.37V1323.5H871.54V1323.4H871.71V1323.3H871.89V1323.2H872.06V1323.1H872.23V1323.0H872.41V1323.0H872.58V1322.9H872.75V1322.8H872.93V1322.7H873.10V1322.6H873.28V1322.5H873.45V1322.5H873.62V1322.4H873.80V1322.3H873.97V1322.2H874.14V1322.1H874.32V1322.0H874.49V1321.9H874.66V1321.9H874.84V1321.8H875.01V1321.7H875.18V1321.6H875.36V1321.5H875.53V1321.4H875.70V1321.3H875.88V1321.3H876.05V1321.2H876.22V1321.1H876.40V1321.0H876.57V1320.9H876.74V1320.8H876.92V1320.7H877.09V1320.7H877.26V1320.6H877.44V1320.5H877.61V1320.4H877.78V1320.3H877.96V1320.2H878.13V1320.1H878.30V1320.1H878.48V1320.0H878.65V1319.9H878.82V1319.8H879.00V1319.7H879.17V1319.7H879.34V1319.6H879.52V1319.5H879.69V1319.4H879.86V1319.4H880.04V1319.3H880.21V1319.2H880.38V1319.1H880.56V1319.1H880.73V1319.0H880.90V1318.9H881.08V1318.8H881.25V1318.8H881.42V1318.7H881.60V1318.6H881.77V1318.5H881.94V1318.5H882.12V1318.4H882.29V1318.3H882.46V1318.2H882.64V1318.2H882.81V1318.1H882.98V1318.0H883.16V1317.9H883.33V1317.9H883.50V1317.8H883.68V1317.7H883.85V1317.6H884.03V1317.6H884.20V1317.5H884.37V1317.4H884.55V1317.3H884.72V1317.3H884.89V1317.2H885.07V1317.1H885.24V1317.0H885.41V1317.0H885.59V1316.9H885.76V1316.8H885.93V1316.8H886.11V1316.7H886.28V1316.6H886.45V1316.5H886.63V1316.5H886.80V1316.4H886.97V1316.3H887.15V1316.2H887.32V1316.2H887.49V1316.1H887.67V1316.0H887.84V1315.9H888.01V1315.9H888.19V1315.8H888.36V1315.7H888.53V1315.6H888.71V1315.6H888.88V1315.5H889.05V1315.4H889.23V1315.3H889.40V1315.3H889.57V1315.2H889.75V1315.1H889.92V1315.0H890.09V1315.0H890.27V1314.9H890.44V1314.8H890.61V1314.8H890.79V1314.7H890.96V1314.6H891.13V1314.6H891.31V1314.5H891.48V1314.4H891.65V1314.4H891.83V1314.3H892.00V1314.2H892.17V1314.1H892.35V1314.1H892.52V1314.0H892.69V1313.9H892.87V1313.9H893.04V1313.8H893.21V1313.7H893.39V1313.7H893.56V1313.6H893.73V1313.5H893.91V1313.5H894.08V1313.4H894.25V1313.3H894.43V1313.2H894.60V1313.2H894.78V1313.1H894.95V1313.0H895.12V1313.0H895.30V1312.9H895.47V1312.8H895.64V1312.8H895.82V1312.7H895.99V1312.6H896.16V1312.5H896.34V1312.5H896.51V1312.4H896.68V1312.3H896.86V1312.3H897.03V1312.2H897.20V1312.1H897.38V1312.1H897.55V1312.0H897.72V1311.9H897.90V1311.9H898.07V1311.8H898.24V1311.7H898.42V1311.6H898.59V1311.6H898.76V1311.5H898.94V1311.4H899.11V1311.4H899.28V1311.3H899.46V1311.2H899.63V1311.2H899.80V1311.1H899.98V1311.0H900.15V1310.9H900.32V1310.7H900.50V1310.5H900.67V1310.4H900.84V1310.2H901.02V1310.0H901.19V1309.8H901.36V1309.7H901.54V1309.5H901.71V1309.3H901.88V1309.1H902.06V1309.0H902.23V1308.8H902.40V1308.6H902.58V1308.4H902.75V1308.3H902.92V1308.1H903.10V1307.9H903.27V1307.7H903.44V1307.5H903.62V1307.4H903.79V1307.2H903.96V1307.0H904.14V1306.8H904.31V1306.7H904.48V1306.5H904.66V1306.3H904.83V1306.1H905.00V1306.0H905.18V1305.8H905.35V1305.6H905.53V1305.4H905.70V1305.3H905.87V1305.1H906.05V1304.9H906.22V1304.7H906.39V1304.6H906.57V1304.4H906.74V1304.2H906.91V1304.0H907.09V1303.8H907.26V1303.7H907.43V1303.5H907.61V1303.3H907.78V1303.1H907.95V1303.0H908.13V1302.8H908.30V1302.6H908.47V1302.4H908.65V1302.3H908.82V1302.1H908.99V1301.9H909.17V1301.7H909.34V1301.6H909.51V1301.4H909.69V1301.2H909.86V1301.0H910.03V1300.9H910.21V1300.7H910.38V1300.5H910.55V1300.3H910.73V1300.1H910.90V1299.9H911.07V1299.7H911.25V1299.4H911.42V1299.1H911.59V1298.9H911.77V1298.6H911.94V1298.4H912.11V1298.1H912.29V1297.8H912.46V1297.6H912.63V1297.3H912.81V1297.0H912.98V1296.8H913.15V1296.5H913.33V1296.3H913.50V1296.0H913.67V1295.7H913.85V1295.5H914.02V1295.2H914.19V1295.0H914.37V1294.7H914.54V1294.4H914.71V1294.2H914.89V1293.9H915.06V1293.6H915.23V1293.4H915.41V1293.1H915.58V1292.9H915.75V1292.6H915.93V1292.3H916.10V1292.1H916.28V1291.8H916.45V1291.5H916.62V1291.3H916.80V1291.0H916.97V1290.8H917.14V1290.5H917.32V1290.2H917.49V1290.0H917.66V1289.7H917.84V1289.5H918.01V1289.2H918.18V1288.9H918.36V1288.7H918.53V1288.4H918.70V1288.1H918.88V1287.9H919.05V1287.6H919.22V1287.4H919.40V1287.1H919.57V1286.8H919.74V1286.6H919.92V1286.3H920.09V1286.1H920.26V1285.8H920.44V1285.5H920.61V1285.3H920.78V1285.0H920.96V1284.7H921.13V1284.5H921.30V1284.2H921.48V1284.0H921.65V1283.5H921.82V1282.8H922.00V1282.1H922.17V1281.4H922.34V1280.7H922.52V1280.0H922.69V1279.3H922.86V1278.6H923.04V1277.9H923.21V1277.2H923.38V1276.5H923.56V1275.8H923.73V1275.1H923.90V1274.5H924.08V1273.8H924.25V1273.1H924.42V1272.4H924.60V1271.7H924.77V1271.0H924.94V1270.3H925.12V1269.6H925.29V1268.9H925.46V1268.2H925.64V1267.5H925.81V1266.8H925.98V1266.1H926.16V1265.4H926.33V1264.7H926.50V1264.0H926.68V1263.3H926.85V1262.6H927.03V1261.8H927.20V1260.8H927.37V1259.8H927.55V1258.8H927.72V1257.8H927.89V1256.8H928.07V1255.8H928.24V1254.8H928.41V1253.8H928.59V1252.8H928.76V1251.8H928.93V1250.8H929.11V1249.7H929.28V1248.7H929.45V1247.7H929.63V1246.7H929.80V1245.7H929.97V1244.7H930.15V1243.7H930.32V1242.7H930.49V1241.7H930.67V1240.7H930.84V1239.7H931.01V1238.7H931.19V1237.7H931.36V1236.7H931.53V1235.7H931.71V1234.7H931.88V1233.7H932.05V1232.7H932.23V1231.7H932.40V1427.90Z" fill="#ec2027"/>
<rect x="941.05" y="1096.7" width="107.5" height="331.20" fill="#f5a71f"/>
<path d="M941.05 1427.90V1399.1H942.73V1405.1H944.41V1342.2H946.09V1335.8H947.77V1330.9H949.45V1304.9H951.13V1321.7H952.81V1304.2H954.49V1317.9H956.17V1314.6H957.85V1306.6H959.53V1304.9H961.21V1306.7H962.89V1292.6H964.57V1299.6H966.25V1286.1H967.93V1297.9H969.60V1292.1H971.28V1291.1H972.96V1272.9H974.64V1281.4H976.32V1273.1H978.00V1277.7H979.68V1257.8H981.36V1249.9H983.04V1268.5H984.72V1255.8H986.40V1257.4H988.08V1246.4H989.76V1241.6H991.44V1250.4H993.12V1259.6H994.80V1244.8H996.48V1255.3H998.16V1247.3H999.84V1241.0H1001.52V1246.7H1003.20V1246.0H1004.88V1237.8H1006.56V1241.6H1008.24V1228.0H1009.92V1233.7H1011.60V1234.3H1013.28V1235.5H1014.96V1232.6H1016.64V1229.7H1018.32V1218.6H1020.00V1213.9H1021.68V1212.8H1023.35V1200.3H1025.03V1195.0H1026.71V1197.7H1028.39V1191.2H1030.07V1178.7H1031.75V1166.9H1033.43V1173.4H1035.11V1149.8H1036.79V1136.2H1038.47V1147.2H1040.15V1138.9H1041.83V1122.5H1043.51V1112.0H1045.19V1102.9H1046.87V1096.7H1048.55V1427.90Z" fill="#0a4fa0"/>
<path d="M941.05 1427.90V1412.0H942.73V1412.0H944.41V1352.1H946.09V1344.4H947.77V1338.8H949.45V1334.4H951.13V1330.5H952.81V1328.2H954.49V1325.9H956.17V1323.5H957.85V1321.2H959.53V1318.9H961.21V1316.5H962.89V1313.6H964.57V1310.7H966.25V1307.7H967.93V1304.7H969.60V1301.8H971.28V1298.8H972.96V1295.8H974.64V1292.6H976.32V1289.4H978.00V1286.2H979.68V1282.9H981.36V1279.7H983.04V1276.5H984.72V1274.7H986.40V1273.1H988.08V1271.4H989.76V1269.8H991.44V1268.1H993.12V1266.4H994.80V1264.5H996.48V1262.3H998.16V1260.0H999.84V1257.8H1001.52V1255.6H1003.20V1253.4H1004.88V1251.2H1006.56V1249.4H1008.24V1247.7H1009.92V1245.9H1011.60V1244.2H1013.28V1242.4H1014.96V1240.6H1016.64V1236.4H1018.32V1231.0H1020.00V1225.7H1021.68V1220.4H1023.35V1215.1H1025.03V1209.7H1026.71V1204.6H1028.39V1200.1H1030.07V1195.5H1031.75V1190.7H1033.43V1183.3H1035.11V1176.0H1036.79V1168.6H1038.47V1157.2H1040.15V1145.3H1041.83V1133.4H1043.51V1122.6H1045.19V1112.2H1046.87V1101.9H1048.55V1427.90Z" fill="#ec2027"/>
<rect x="1057.20" y="1096.7" width="107.5" height="331.20" fill="#f5a71f"/>
<path d="M1057.20 1427.90V1189.4H1058.46V1258.5H1059.73V1251.3H1060.99V1242.2H1062.26V1231.8H1063.52V1179.5H1064.79V1203.0H1066.05V1221.8H1067.32V1219.0H1068.58V1217.7H1069.85V1189.4H1071.11V1216.5H1072.38V1213.3H1073.64V1136.4H1074.91V1208.3H1076.17V1199.4H1077.44V1187.8H1078.70V1199.4H1079.96V1197.5H1081.23V1194.1H1082.49V1194.9H1083.76V1173.6H1085.02V1186.3H1086.29V1129.8H1087.55V1186.9H1088.82V1181.1H1090.08V1140.9H1091.35V1180.8H1092.61V1168.0H1093.88V1139.8H1095.14V1117.8H1096.41V1170.5H1097.67V1167.9H1098.94V1165.2H1100.20V1162.7H1101.46V1143.1H1102.73V1159.7H1103.99V1151.2H1105.26V1152.6H1106.52V1144.1H1107.79V1132.4H1109.05V1144.0H1110.32V1104.2H1111.58V1147.9H1112.85V1143.8H1114.11V1096.7H1115.38V1137.8H1116.64V1133.6H1117.91V1137.7H1119.17V1129.9H1120.44V1122.8H1121.70V1133.0H1122.96V1131.3H1124.23V1131.5H1125.49V1129.1H1126.76V1096.7H1128.02V1119.8H1129.29V1119.7H1130.55V1118.3H1131.82V1096.7H1133.08V1096.7H1134.35V1101.9H1135.61V1112.8H1136.88V1109.8H1138.14V1103.8H1139.41V1096.7H1140.67V1104.6H1141.94V1102.9H1143.20V1096.7H1144.46V1096.7H1145.73V1096.7H1146.99V1096.7H1148.26V1096.7H1149.52V1096.7H1150.79V1096.7H1152.05V1096.7H1153.32V1096.7H1154.58V1096.7H1155.85V1096.7H1157.11V1096.7H1158.38V1096.7H1159.64V1096.7H1160.91V1096.7H1162.17V1096.7H1163.44V1096.7H1164.70V1427.90Z" fill="#0a4fa0"/>
<path d="M1057.20 1427.90V1318.6H1058.46V1259.3H1059.73V1251.7H1060.99V1244.1H1062.26V1237.4H1063.52V1233.1H1064.79V1228.8H1066.05V1224.5H1067.32V1220.2H1068.58V1219.0H1069.85V1217.7H1071.11V1216.5H1072.38V1215.3H1073.64V1212.8H1074.91V1209.9H1076.17V1207.0H1077.44V1204.1H1078.70V1201.7H1079.96V1199.8H1081.23V1197.8H1082.49V1195.9H1083.76V1193.9H1085.02V1192.0H1086.29V1190.0H1087.55V1188.1H1088.82V1186.1H1090.08V1183.6H1091.35V1181.0H1092.61V1178.4H1093.88V1175.8H1095.14V1173.3H1096.41V1170.7H1097.67V1168.1H1098.94V1165.6H1100.20V1163.5H1101.46V1162.0H1102.73V1160.5H1103.99V1158.9H1105.26V1157.4H1106.52V1155.9H1107.79V1154.4H1109.05V1152.9H1110.32V1151.3H1111.58V1149.7H1112.85V1148.0H1114.11V1146.3H1115.38V1144.6H1116.64V1143.0H1117.91V1141.3H1119.17V1139.6H1120.44V1137.9H1121.70V1136.0H1122.96V1133.9H1124.23V1131.7H1125.49V1129.6H1126.76V1127.5H1128.02V1125.3H1129.29V1123.2H1130.55V1121.0H1131.82V1118.9H1133.08V1117.0H1134.35V1115.1H1135.61V1113.2H1136.88V1111.3H1138.14V1109.3H1139.41V1107.4H1140.67V1105.5H1141.94V1103.6H1143.20V1101.5H1144.46V1099.2H1145.73V1096.8H1146.99V1096.7H1148.26V1096.7H1149.52V1096.7H1150.79V1096.7H1152.05V1096.7H1153.32V1096.7H1154.58V1096.7H1155.85V1096.7H1157.11V1096.7H1158.38V1096.7H1159.64V1096.7H1160.91V1096.7H1162.17V1096.7H1163.44V1096.7H1164.70V1427.90Z" fill="#ec2027"/>
<rect x="1173.35" y="1096.7" width="107.5" height="331.20" fill="#f5a71f"/>
<path d="M1173.35 1427.90V1118.2H1174.49V1131.0H1175.64V1109.4H1176.78V1162.9H1177.92V1112.7H1179.07V1109.6H1180.21V1155.5H1181.36V1116.5H1182.50V1119.4H1183.64V1121.2H1184.79V1113.4H1185.93V1112.8H1187.07V1112.7H1188.22V1112.5H1189.36V1120.7H1190.50V1162.9H1191.65V1113.0H1192.79V1110.8H1193.94V1108.3H1195.08V1121.9H1196.22V1131.3H1197.37V1117.2H1198.51V1108.0H1199.65V1164.4H1200.80V1112.5H1201.94V1110.0H1203.08V1113.7H1204.23V1155.2H1205.37V1119.9H1206.51V1125.9H1207.66V1119.8H1208.80V1106.9H1209.95V1116.6H1211.09V1107.2H1212.23V1112.5H1213.38V1112.6H1214.52V1121.0H1215.66V1108.7H1216.81V1108.1H1217.95V1136.5H1219.09V1109.2H1220.24V1116.2H1221.38V1122.5H1222.53V1117.3H1223.67V1119.5H1224.81V1109.3H1225.96V1113.5H1227.10V1118.4H1228.24V1116.1H1229.39V1138.8H1230.53V1155.6H1231.67V1111.8H1232.82V1114.3H1233.96V1111.3H1235.11V1112.1H1236.25V1153.1H1237.39V1108.2H1238.54V1107.8H1239.68V1119.4H1240.82V1117.7H1241.97V1145.3H1243.11V1110.9H1244.25V1162.9H1245.40V1115.5H1246.54V1106.7H1247.69V1120.5H1248.83V1109.3H1249.97V1163.6H1251.12V1120.2H1252.26V1129.3H1253.40V1110.5H1254.55V1121.7H1255.69V1209.3H1256.83V1110.6H1257.98V1118.6H1259.12V1113.9H1260.26V1114.4H1261.41V1114.2H1262.55V1118.4H1263.70V1130.9H1264.84V1132.9H1265.98V1155.8H1267.13V1142.1H1268.27V1127.0H1269.41V1132.6H1270.56V1128.8H1271.70V1140.4H1272.84V1186.1H1273.99V1178.8H1275.13V1159.7H1276.28V1131.7H1277.42V1196.1H1278.56V1134.0H1279.71V1134.3H1280.85V1427.90Z" fill="#0a4fa0"/>
<path d="M1173.35 1427.90V1415.0H1174.49V1413.2H1175.64V1411.3H1176.78V1410.2H1177.92V1409.5H1179.07V1408.8H1180.21V1408.1H1181.36V1407.4H1182.50V1406.7H1183.64V1406.0H1184.79V1405.5H1185.93V1405.1H1187.07V1404.6H1188.22V1404.2H1189.36V1403.7H1190.50V1403.2H1191.65V1402.8H1192.79V1402.3H1193.94V1401.9H1195.08V1401.5H1196.22V1401.1H1197.37V1400.7H1198.51V1400.3H1199.65V1399.9H1200.80V1399.5H1201.94V1399.1H1203.08V1398.8H1204.23V1398.4H1205.37V1398.0H1206.51V1397.7H1207.66V1397.4H1208.80V1397.1H1209.95V1396.8H1211.09V1396.5H1212.23V1396.2H1213.38V1395.9H1214.52V1395.6H1215.66V1395.3H1216.81V1395.0H1217.95V1394.7H1219.09V1394.4H1220.24V1394.1H1221.38V1393.8H1222.53V1393.5H1223.67V1393.2H1224.81V1392.9H1225.96V1392.6H1227.10V1392.3H1228.24V1391.9H1229.39V1391.5H1230.53V1391.1H1231.67V1390.7H1232.82V1390.3H1233.96V1389.9H1235.11V1389.6H1236.25V1389.2H1237.39V1388.8H1238.54V1388.4H1239.68V1388.0H1240.82V1387.6H1241.97V1387.2H1243.11V1386.8H1244.25V1386.5H1245.40V1386.1H1246.54V1385.7H1247.69V1385.3H1248.83V1384.8H1249.97V1384.2H1251.12V1383.7H1252.26V1383.1H1253.40V1382.5H1254.55V1382.0H1255.69V1381.4H1256.83V1380.8H1257.98V1380.3H1259.12V1379.4H1260.26V1377.9H1261.41V1376.3H1262.55V1374.8H1263.70V1373.2H1264.84V1371.7H1265.98V1370.1H1267.13V1368.6H1268.27V1367.0H1269.41V1365.5H1270.56V1362.2H1271.70V1358.7H1272.84V1355.3H1273.99V1351.8H1275.13V1348.1H1276.28V1343.2H1277.42V1338.2H1278.56V1329.8H1279.71V1315.7H1280.85V1427.90Z" fill="#ec2027"/>
<rect x="1289.50" y="1096.7" width="107.5" height="331.20" fill="#f5a71f"/>
<path d="M1289.50 1427.90V1112.7H1290.62V1128.0H1291.74V1128.9H1292.86V1110.6H1293.98V1111.3H1295.10V1109.4H1296.22V1116.9H1297.34V1168.7H1298.46V1126.7H1299.58V1107.8H1300.70V1113.4H1301.82V1128.5H1302.94V1150.3H1304.06V1123.6H1305.18V1130.2H1306.30V1116.2H1307.42V1115.9H1308.54V1152.3H1309.66V1114.4H1310.78V1115.4H1311.90V1107.8H1313.02V1131.1H1314.14V1163.5H1315.26V1115.0H1316.38V1138.7H1317.49V1124.8H1318.61V1118.1H1319.73V1124.1H1320.85V1125.0H1321.97V1127.4H1323.09V1122.3H1324.21V1119.0H1325.33V1118.8H1326.45V1168.0H1327.57V1120.9H1328.69V1160.0H1329.81V1115.3H1330.93V1110.5H1332.05V1110.0H1333.17V1118.0H1334.29V1113.8H1335.41V1106.8H1336.53V1123.6H1337.65V1124.7H1338.77V1108.5H1339.89V1171.1H1341.01V1151.3H1342.13V1160.4H1343.25V1159.6H1344.37V1113.0H1345.49V1109.2H1346.61V1116.1H1347.73V1116.7H1348.85V1239.1H1349.97V1127.7H1351.09V1111.9H1352.21V1117.3H1353.33V1120.7H1354.45V1129.6H1355.57V1130.6H1356.69V1123.6H1357.81V1107.6H1358.93V1112.3H1360.05V1127.4H1361.17V1109.0H1362.29V1129.2H1363.41V1117.6H1364.53V1137.7H1365.65V1126.2H1366.77V1135.2H1367.89V1183.4H1369.01V1124.8H1370.12V1182.8H1371.24V1141.3H1372.36V1139.6H1373.48V1173.8H1374.60V1139.3H1375.72V1161.7H1376.84V1131.2H1377.96V1142.9H1379.08V1135.5H1380.20V1136.0H1381.32V1181.1H1382.44V1136.7H1383.56V1162.1H1384.68V1135.7H1385.80V1152.1H1386.92V1125.6H1388.04V1125.0H1389.16V1179.5H1390.28V1180.9H1391.40V1134.0H1392.52V1134.1H1393.64V1166.3H1394.76V1235.8H1395.88V1141.0H1397.00V1427.90Z" fill="#0a4fa0"/>
<path d="M1289.50 1427.90V1427.9H1290.62V1427.9H1291.74V1427.8H1292.86V1427.8H1293.98V1427.8H1295.10V1427.8H1296.22V1427.8H1297.34V1427.7H1298.46V1427.7H1299.58V1427.7H1300.70V1427.7H1301.82V1427.6H1302.94V1427.6H1304.06V1427.6H1305.18V1427.6H1306.30V1427.5H1307.42V1427.5H1308.54V1427.5H1309.66V1427.5H1310.78V1427.5H1311.90V1427.4H1313.02V1427.4H1314.14V1427.4H1315.26V1427.4H1316.38V1427.3H1317.49V1427.3H1318.61V1427.3H1319.73V1427.3H1320.85V1427.2H1321.97V1427.2H1323.09V1427.2H1324.21V1427.1H1325.33V1427.1H1326.45V1427.1H1327.57V1427.0H1328.69V1427.0H1329.81V1427.0H1330.93V1426.9H1332.05V1426.9H1333.17V1426.9H1334.29V1426.8H1335.41V1426.8H1336.53V1426.8H1337.65V1426.7H1338.77V1426.7H1339.89V1426.7H1341.01V1426.6H1342.13V1426.6H1343.25V1426.6H1344.37V1426.5H1345.49V1426.5H1346.61V1426.4H1347.73V1426.4H1348.85V1426.3H1349.97V1426.3H1351.09V1426.2H1352.21V1426.2H1353.33V1426.1H1354.45V1426.1H1355.57V1426.0H1356.69V1426.0H1357.81V1426.0H1358.93V1425.9H1360.05V1425.9H1361.17V1425.8H1362.29V1425.8H1363.41V1425.7H1364.53V1425.7H1365.65V1425.6H1366.77V1425.6H1367.89V1425.5H1369.01V1425.5H1370.12V1425.4H1371.24V1425.4H1372.36V1425.4H1373.48V1425.3H1374.60V1425.3H1375.72V1425.1H1376.84V1424.9H1377.96V1424.8H1379.08V1424.6H1380.20V1424.4H1381.32V1424.2H1382.44V1424.0H1383.56V1423.8H1384.68V1423.6H1385.80V1423.5H1386.92V1423.3H1388.04V1423.1H1389.16V1422.9H1390.28V1422.7H1391.40V1421.9H1392.52V1419.8H1393.64V1417.6H1394.76V1410.1H1395.88V1395.5H1397.00V1427.90Z" fill="#ec2027"/>
<rect x="1405.65" y="1096.7" width="107.5" height="331.20" fill="#f5a71f"/>
<path d="M1405.65 1427.90V1149.3H1407.41V1164.5H1409.17V1165.8H1410.94V1123.8H1412.70V1150.7H1414.46V1149.6H1416.22V1123.4H1417.99V1150.1H1419.75V1148.7H1421.51V1156.4H1423.27V1143.1H1425.04V1225.9H1426.80V1138.3H1428.56V1192.1H1430.32V1106.6H1432.08V1187.8H1433.85V1141.4H1435.61V1137.8H1437.37V1131.6H1439.13V1215.9H1440.90V1204.3H1442.66V1190.4H1444.42V1268.9H1446.18V1135.4H1447.95V1156.4H1449.71V1148.8H1451.47V1181.0H1453.23V1155.4H1454.99V1165.8H1456.76V1130.0H1458.52V1150.1H1460.28V1129.0H1462.04V1210.5H1463.81V1190.7H1465.57V1168.3H1467.33V1149.3H1469.09V1151.8H1470.85V1165.9H1472.62V1220.9H1474.38V1127.1H1476.14V1190.3H1477.90V1119.9H1479.67V1202.5H1481.43V1125.8H1483.19V1219.2H1484.95V1194.7H1486.72V1124.9H1488.48V1163.0H1490.24V1128.2H1492.00V1153.4H1493.76V1156.4H1495.53V1141.0H1497.29V1196.2H1499.05V1138.2H1500.81V1158.9H1502.58V1164.7H1504.34V1165.5H1506.10V1129.8H1507.86V1149.6H1509.63V1162.9H1511.39V1214.3H1513.15V1427.90Z" fill="#0a4fa0"/>
<path d="M1405.65 1427.90V1427.9H1407.41V1427.8H1409.17V1427.8H1410.94V1427.7H1412.70V1427.7H1414.46V1427.6H1416.22V1427.5H1417.99V1427.5H1419.75V1427.4H1421.51V1427.4H1423.27V1427.3H1425.04V1427.3H1426.80V1427.2H1428.56V1427.2H1430.32V1427.1H1432.08V1427.1H1433.85V1427.0H1435.61V1426.9H1437.37V1426.9H1439.13V1426.8H1440.90V1426.8H1442.66V1426.7H1444.42V1426.7H1446.18V1426.6H1447.95V1426.6H1449.71V1426.5H1451.47V1426.5H1453.23V1426.4H1454.99V1426.4H1456.76V1426.3H1458.52V1426.2H1460.28V1426.1H1462.04V1426.0H1463.81V1425.8H1465.57V1425.7H1467.33V1425.6H1469.09V1425.4H1470.85V1425.3H1472.62V1425.2H1474.38V1425.0H1476.14V1424.9H1477.90V1424.8H1479.67V1424.6H1481.43V1424.3H1483.19V1424.0H1484.95V1423.7H1486.72V1423.4H1488.48V1423.0H1490.24V1422.7H1492.00V1422.1H1493.76V1421.5H1495.53V1420.8H1497.29V1419.3H1499.05V1417.4H1500.81V1415.4H1502.58V1412.0H1504.34V1355.0H1506.10V1310.7H1507.86V1272.2H1509.63V1251.9H1511.39V1222.6H1513.15V1427.90Z" fill="#ec2027"/>
<text x="436.1" y="1001.1" font-size="26.2" textLength="73.5" lengthAdjust="spacingAndGlyphs" fill="#231f20">1KGP</text>
<path d="M185.1 1016.8H760.5" stroke="#000" stroke-width="2.1"/>
<text x="830.7" y="1001.1" font-size="26.2" textLength="97.8" lengthAdjust="spacingAndGlyphs" fill="#231f20">UniCES</text>
<path d="M849.5 1016.8H908.7" stroke="#000" stroke-width="2.1"/>
<text x="1018.4" y="1001.1" font-size="26.2" textLength="71.6" lengthAdjust="spacingAndGlyphs" fill="#231f20">1KGP</text>
<path d="M985.8 1016.8H1121" stroke="#000" stroke-width="2.1"/>
<text x="1159" y="1001.1" font-size="26.2" textLength="136.8" lengthAdjust="spacingAndGlyphs" fill="#231f20">ChocoGen</text>
<path d="M1198.1 1016.8H1257" stroke="#000" stroke-width="2.1"/>
<text x="1366.4" y="1001.1" font-size="26.2" textLength="72.2" lengthAdjust="spacingAndGlyphs" fill="#231f20">1KGP</text>
<path d="M1333.8 1016.8H1469.9" stroke="#000" stroke-width="2.1"/>
<text x="154.7" y="1067" font-size="24.7" textLength="54.7" lengthAdjust="spacingAndGlyphs" fill="#231f20">Esan</text>
<text x="257.6" y="1067" font-size="24.7" textLength="81.8" lengthAdjust="spacingAndGlyphs" fill="#231f20">Yoruba</text>
<text x="378.5" y="1067" font-size="24.7" textLength="72.5" lengthAdjust="spacingAndGlyphs" fill="#231f20">Britain</text>
<text x="498.3" y="1067" font-size="24.7" textLength="64.1" lengthAdjust="spacingAndGlyphs" fill="#231f20">Spain</text>
<text x="609.8" y="1052.7" font-size="24.7" textLength="74.3" lengthAdjust="spacingAndGlyphs" fill="#231f20">Puerto</text>
<text x="622.1" y="1083.1" font-size="24.7" textLength="50.3" lengthAdjust="spacingAndGlyphs" fill="#231f20">Rico</text>
<text x="708.1" y="1067" font-size="24.7" textLength="108.9" lengthAdjust="spacingAndGlyphs" fill="#231f20">Colombia</text>
<text x="831.3" y="1067" font-size="24.7" textLength="95.6" lengthAdjust="spacingAndGlyphs" fill="#231f20">Medellín</text>
<text x="954.5" y="1067" font-size="24.7" textLength="82.1" lengthAdjust="spacingAndGlyphs" fill="#231f20">Mexico</text>
<text x="1085.9" y="1067" font-size="24.7" textLength="51" lengthAdjust="spacingAndGlyphs" fill="#231f20">Peru</text>
<text x="1191.8" y="1067" font-size="24.7" textLength="71.7" lengthAdjust="spacingAndGlyphs" fill="#231f20">Chocó</text>
<text x="1306.2" y="1052.7" font-size="24.7" textLength="75.1" lengthAdjust="spacingAndGlyphs" fill="#231f20">African</text>
<text x="1288.2" y="1083.1" font-size="24.7" textLength="111.3" lengthAdjust="spacingAndGlyphs" fill="#231f20">Caribbean</text>
<text x="1421.8" y="1052.7" font-size="24.7" textLength="76" lengthAdjust="spacingAndGlyphs" fill="#231f20">African</text>
<text x="1406" y="1083.1" font-size="24.7" textLength="107.4" lengthAdjust="spacingAndGlyphs" fill="#231f20">American</text>
<rect x="547.1" y="1443" width="31.6" height="31.2" fill="#0a4fa0" stroke="#231f20" stroke-width="2.2"/>
<text x="591.6" y="1469.2" font-size="29.5" textLength="88" lengthAdjust="spacingAndGlyphs" fill="#2b2b2b" stroke="#fff" stroke-width="0.75">African</text>
<rect x="733.1" y="1443" width="31.6" height="31.2" fill="#f5a71f" stroke="#231f20" stroke-width="2.2"/>
<text x="777.6" y="1469.2" font-size="29.5" textLength="123.1" lengthAdjust="spacingAndGlyphs" fill="#2b2b2b" stroke="#fff" stroke-width="0.75">European</text>
<rect x="948.3000000000001" y="1443" width="31.6" height="31.2" fill="#ec2027" stroke="#231f20" stroke-width="2.2"/>
<text x="992.8" y="1469.2" font-size="29.5" textLength="211.2" lengthAdjust="spacingAndGlyphs" fill="#2b2b2b" stroke="#fff" stroke-width="0.75">Native American</text>
<text x="181" y="1548.8" font-size="32.5" textLength="119.8" lengthAdjust="spacingAndGlyphs" fill="#231f20" stroke="#231f20" stroke-width="0.6">UniCES</text>
<text x="144.2" y="1604.3" font-size="26.6" textLength="192.9" lengthAdjust="spacingAndGlyphs" fill="#231f20">Native American</text>
<path d="M240.1 1620L378.2 1858.4H102.5Z" fill="#d9d9d9" stroke="#231f20" stroke-width="2.6" stroke-linejoin="miter"/>
<text x="56.9" y="1894.4" font-size="26.6" textLength="112.1" lengthAdjust="spacingAndGlyphs" fill="#231f20">European</text>
<text x="333.2" y="1894.4" font-size="26.6" textLength="82" lengthAdjust="spacingAndGlyphs" fill="#231f20">African</text>
<g fill="#118a43" stroke="#0a0a0a" stroke-width="1.1">
<circle cx="227.6" cy="1755.5" r="4.4"/><circle cx="229.7" cy="1738.5" r="4.4"/><circle cx="165.7" cy="1780.1" r="4.4"/><circle cx="194.6" cy="1784.6" r="4.4"/><circle cx="162.8" cy="1781.8" r="4.4"/><circle cx="212.3" cy="1790.6" r="4.4"/><circle cx="172.8" cy="1795.0" r="4.4"/><circle cx="209.7" cy="1809.8" r="4.4"/><circle cx="239.3" cy="1764.1" r="4.4"/><circle cx="198.7" cy="1757.3" r="4.4"/><circle cx="180.3" cy="1783.0" r="4.4"/><circle cx="193.8" cy="1774.0" r="4.4"/><circle cx="193.9" cy="1774.5" r="4.4"/><circle cx="204.1" cy="1767.3" r="4.4"/><circle cx="189.1" cy="1778.2" r="4.4"/><circle cx="196.7" cy="1744.5" r="4.4"/><circle cx="127.4" cy="1815.7" r="4.4"/><circle cx="187.4" cy="1776.1" r="4.4"/><circle cx="194.1" cy="1778.0" r="4.4"/><circle cx="192.8" cy="1805.7" r="4.4"/><circle cx="207.8" cy="1792.0" r="4.4"/><circle cx="174.1" cy="1778.3" r="4.4"/><circle cx="191.9" cy="1771.6" r="4.4"/><circle cx="173.1" cy="1807.4" r="4.4"/><circle cx="147.9" cy="1777.6" r="4.4"/><circle cx="202.6" cy="1811.4" r="4.4"/><circle cx="206.7" cy="1755.3" r="4.4"/><circle cx="227.8" cy="1787.1" r="4.4"/><circle cx="160.0" cy="1804.7" r="4.4"/><circle cx="301.9" cy="1808.4" r="4.4"/><circle cx="196.2" cy="1776.7" r="4.4"/><circle cx="181.8" cy="1762.5" r="4.4"/><circle cx="197.4" cy="1799.0" r="4.4"/><circle cx="196.4" cy="1717.7" r="4.4"/><circle cx="213.4" cy="1789.9" r="4.4"/><circle cx="205.4" cy="1724.2" r="4.4"/><circle cx="178.2" cy="1762.2" r="4.4"/><circle cx="159.5" cy="1772.0" r="4.4"/><circle cx="199.6" cy="1774.3" r="4.4"/><circle cx="247.2" cy="1722.1" r="4.4"/><circle cx="184.5" cy="1750.8" r="4.4"/><circle cx="173.2" cy="1756.1" r="4.4"/><circle cx="197.4" cy="1791.1" r="4.4"/><circle cx="175.5" cy="1790.4" r="4.4"/><circle cx="206.5" cy="1762.2" r="4.4"/><circle cx="201.2" cy="1799.9" r="4.4"/><circle cx="169.3" cy="1785.9" r="4.4"/><circle cx="182.7" cy="1778.8" r="4.4"/><circle cx="141.4" cy="1795.2" r="4.4"/><circle cx="192.0" cy="1812.7" r="4.4"/><circle cx="170.7" cy="1780.5" r="4.4"/><circle cx="199.3" cy="1783.5" r="4.4"/><circle cx="187.6" cy="1727.2" r="4.4"/><circle cx="193.7" cy="1716.1" r="4.4"/><circle cx="156.6" cy="1764.1" r="4.4"/><circle cx="171.4" cy="1786.0" r="4.4"/><circle cx="195.5" cy="1790.6" r="4.4"/><circle cx="168.1" cy="1748.4" r="4.4"/><circle cx="189.4" cy="1789.0" r="4.4"/><circle cx="159.2" cy="1776.5" r="4.4"/><circle cx="141.3" cy="1823.3" r="4.4"/><circle cx="176.0" cy="1806.5" r="4.4"/><circle cx="149.5" cy="1797.2" r="4.4"/><circle cx="189.6" cy="1771.6" r="4.4"/><circle cx="232.3" cy="1694.2" r="4.4"/><circle cx="168.9" cy="1775.7" r="4.4"/><circle cx="221.3" cy="1795.7" r="4.4"/><circle cx="227.1" cy="1769.2" r="4.4"/><circle cx="182.4" cy="1788.7" r="4.4"/><circle cx="214.5" cy="1755.5" r="4.4"/><circle cx="209.7" cy="1789.8" r="4.4"/><circle cx="172.3" cy="1750.4" r="4.4"/><circle cx="148.7" cy="1795.7" r="4.4"/><circle cx="185.5" cy="1803.7" r="4.4"/><circle cx="160.8" cy="1786.4" r="4.4"/><circle cx="210.5" cy="1785.4" r="4.4"/><circle cx="149.7" cy="1773.2" r="4.4"/><circle cx="130.9" cy="1826.7" r="4.4"/><circle cx="172.5" cy="1791.2" r="4.4"/><circle cx="178.3" cy="1729.5" r="4.4"/><circle cx="219.2" cy="1755.8" r="4.4"/><circle cx="194.8" cy="1729.5" r="4.4"/><circle cx="166.8" cy="1789.9" r="4.4"/><circle cx="212.6" cy="1746.1" r="4.4"/><circle cx="195.7" cy="1785.0" r="4.4"/><circle cx="176.0" cy="1814.4" r="4.4"/><circle cx="188.5" cy="1746.7" r="4.4"/><circle cx="237.4" cy="1785.6" r="4.4"/><circle cx="132.7" cy="1806.8" r="4.4"/><circle cx="185.9" cy="1812.7" r="4.4"/><circle cx="145.9" cy="1811.1" r="4.4"/><circle cx="165.5" cy="1781.6" r="4.4"/><circle cx="211.0" cy="1805.7" r="4.4"/><circle cx="178.5" cy="1783.6" r="4.4"/><circle cx="166.0" cy="1748.2" r="4.4"/><circle cx="170.0" cy="1795.3" r="4.4"/><circle cx="158.5" cy="1792.4" r="4.4"/><circle cx="179.1" cy="1790.9" r="4.4"/><circle cx="209.5" cy="1793.9" r="4.4"/><circle cx="197.7" cy="1809.8" r="4.4"/><circle cx="142.8" cy="1802.5" r="4.4"/><circle cx="197.4" cy="1776.1" r="4.4"/><circle cx="173.4" cy="1759.6" r="4.4"/><circle cx="194.8" cy="1801.8" r="4.4"/><circle cx="182.8" cy="1795.8" r="4.4"/><circle cx="227.6" cy="1721.6" r="4.4"/><circle cx="190.8" cy="1771.1" r="4.4"/><circle cx="152.9" cy="1796.7" r="4.4"/><circle cx="161.2" cy="1798.2" r="4.4"/><circle cx="188.1" cy="1755.3" r="4.4"/><circle cx="171.6" cy="1771.5" r="4.4"/><circle cx="149.2" cy="1803.4" r="4.4"/><circle cx="172.8" cy="1771.6" r="4.4"/><circle cx="160.1" cy="1770.2" r="4.4"/><circle cx="166.5" cy="1783.5" r="4.4"/><circle cx="181.9" cy="1797.3" r="4.4"/><circle cx="160.3" cy="1789.4" r="4.4"/><circle cx="126.0" cy="1832.3" r="4.4"/><circle cx="178.6" cy="1759.1" r="4.4"/><circle cx="178.3" cy="1790.4" r="4.4"/><circle cx="186.5" cy="1780.4" r="4.4"/><circle cx="256.8" cy="1776.8" r="4.4"/><circle cx="160.9" cy="1797.9" r="4.4"/><circle cx="197.6" cy="1728.0" r="4.4"/><circle cx="163.5" cy="1786.8" r="4.4"/><circle cx="190.8" cy="1758.9" r="4.4"/><circle cx="175.7" cy="1769.3" r="4.4"/><circle cx="175.1" cy="1782.8" r="4.4"/><circle cx="215.3" cy="1772.9" r="4.4"/><circle cx="191.0" cy="1766.6" r="4.4"/><circle cx="150.6" cy="1787.8" r="4.4"/><circle cx="326.6" cy="1820.1" r="4.4"/><circle cx="148.6" cy="1776.4" r="4.4"/><circle cx="186.7" cy="1793.1" r="4.4"/><circle cx="172.2" cy="1793.0" r="4.4"/><circle cx="191.0" cy="1775.5" r="4.4"/><circle cx="188.3" cy="1799.6" r="4.4"/><circle cx="141.2" cy="1806.5" r="4.4"/><circle cx="228.4" cy="1682.5" r="4.4"/><circle cx="178.4" cy="1794.6" r="4.4"/><circle cx="147.6" cy="1818.1" r="4.4"/><circle cx="164.1" cy="1777.9" r="4.4"/><circle cx="191.8" cy="1769.5" r="4.4"/><circle cx="172.4" cy="1785.6" r="4.4"/><circle cx="214.0" cy="1768.1" r="4.4"/><circle cx="168.8" cy="1796.2" r="4.4"/><circle cx="159.2" cy="1794.3" r="4.4"/><circle cx="210.5" cy="1725.7" r="4.4"/><circle cx="158.9" cy="1790.3" r="4.4"/><circle cx="146.9" cy="1783.1" r="4.4"/><circle cx="182.0" cy="1757.6" r="4.4"/><circle cx="215.8" cy="1784.1" r="4.4"/><circle cx="217.0" cy="1755.8" r="4.4"/><circle cx="195.6" cy="1797.1" r="4.4"/><circle cx="209.0" cy="1742.2" r="4.4"/><circle cx="154.3" cy="1804.8" r="4.4"/><circle cx="181.9" cy="1792.0" r="4.4"/><circle cx="227.3" cy="1780.4" r="4.4"/><circle cx="158.0" cy="1805.1" r="4.4"/><circle cx="145.6" cy="1785.8" r="4.4"/><circle cx="171.3" cy="1765.3" r="4.4"/><circle cx="218.6" cy="1796.8" r="4.4"/><circle cx="182.3" cy="1791.7" r="4.4"/><circle cx="226.2" cy="1785.8" r="4.4"/><circle cx="221.5" cy="1782.0" r="4.4"/><circle cx="176.1" cy="1790.6" r="4.4"/><circle cx="177.7" cy="1791.4" r="4.4"/><circle cx="165.9" cy="1786.9" r="4.4"/><circle cx="221.4" cy="1795.6" r="4.4"/><circle cx="176.6" cy="1782.8" r="4.4"/><circle cx="169.0" cy="1805.0" r="4.4"/><circle cx="210.4" cy="1733.0" r="4.4"/><circle cx="180.5" cy="1791.3" r="4.4"/><circle cx="158.3" cy="1780.6" r="4.4"/><circle cx="137.0" cy="1814.6" r="4.4"/><circle cx="181.2" cy="1803.9" r="4.4"/><circle cx="203.0" cy="1797.7" r="4.4"/><circle cx="202.1" cy="1717.9" r="4.4"/><circle cx="262.0" cy="1784.9" r="4.4"/><circle cx="166.0" cy="1769.0" r="4.4"/><circle cx="150.5" cy="1793.7" r="4.4"/><circle cx="153.7" cy="1779.0" r="4.4"/><circle cx="149.2" cy="1808.7" r="4.4"/><circle cx="160.1" cy="1795.7" r="4.4"/><circle cx="256.3" cy="1803.7" r="4.4"/><circle cx="145.6" cy="1786.6" r="4.4"/><circle cx="187.9" cy="1793.7" r="4.4"/><circle cx="192.8" cy="1778.3" r="4.4"/><circle cx="169.5" cy="1811.9" r="4.4"/><circle cx="154.5" cy="1787.3" r="4.4"/><circle cx="191.3" cy="1728.5" r="4.4"/><circle cx="148.3" cy="1813.0" r="4.4"/><circle cx="165.6" cy="1797.5" r="4.4"/><circle cx="220.6" cy="1790.9" r="4.4"/><circle cx="174.5" cy="1783.8" r="4.4"/><circle cx="190.9" cy="1802.8" r="4.4"/><circle cx="116.4" cy="1840.6" r="4.4"/><circle cx="164.8" cy="1780.1" r="4.4"/><circle cx="160.8" cy="1789.6" r="4.4"/><circle cx="180.2" cy="1802.5" r="4.4"/><circle cx="210.2" cy="1764.1" r="4.4"/><circle cx="201.0" cy="1802.9" r="4.4"/><circle cx="162.6" cy="1782.8" r="4.4"/><circle cx="170.3" cy="1750.4" r="4.4"/><circle cx="216.3" cy="1783.5" r="4.4"/><circle cx="188.5" cy="1788.3" r="4.4"/><circle cx="172.5" cy="1742.1" r="4.4"/><circle cx="207.6" cy="1727.3" r="4.4"/><circle cx="203.2" cy="1772.2" r="4.4"/><circle cx="223.3" cy="1777.2" r="4.4"/><circle cx="210.5" cy="1741.9" r="4.4"/><circle cx="217.4" cy="1754.0" r="4.4"/><circle cx="179.7" cy="1770.2" r="4.4"/><circle cx="146.2" cy="1822.3" r="4.4"/><circle cx="228.0" cy="1774.9" r="4.4"/><circle cx="228.4" cy="1792.3" r="4.4"/><circle cx="116.5" cy="1844.1" r="4.4"/><circle cx="191.9" cy="1717.1" r="4.4"/><circle cx="202.6" cy="1719.0" r="4.4"/><circle cx="172.4" cy="1788.1" r="4.4"/><circle cx="230.5" cy="1793.0" r="4.4"/><circle cx="176.3" cy="1772.7" r="4.4"/><circle cx="347.0" cy="1833.6" r="4.4"/><circle cx="168.8" cy="1784.2" r="4.4"/><circle cx="208.8" cy="1802.8" r="4.4"/><circle cx="203.6" cy="1729.6" r="4.4"/><circle cx="180.2" cy="1771.2" r="4.4"/><circle cx="179.9" cy="1764.4" r="4.4"/><circle cx="172.8" cy="1777.5" r="4.4"/><circle cx="193.0" cy="1716.9" r="4.4"/><circle cx="215.3" cy="1808.7" r="4.4"/><circle cx="156.4" cy="1776.2" r="4.4"/><circle cx="179.7" cy="1795.9" r="4.4"/><circle cx="188.9" cy="1729.8" r="4.4"/><circle cx="290.2" cy="1796.6" r="4.4"/><circle cx="190.2" cy="1759.2" r="4.4"/><circle cx="226.4" cy="1777.0" r="4.4"/><circle cx="148.4" cy="1801.0" r="4.4"/><circle cx="203.7" cy="1800.8" r="4.4"/><circle cx="210.2" cy="1787.4" r="4.4"/><circle cx="209.0" cy="1746.6" r="4.4"/><circle cx="155.4" cy="1794.9" r="4.4"/><circle cx="190.7" cy="1717.2" r="4.4"/><circle cx="187.0" cy="1779.4" r="4.4"/><circle cx="180.0" cy="1769.0" r="4.4"/><circle cx="172.2" cy="1744.9" r="4.4"/><circle cx="174.1" cy="1774.2" r="4.4"/><circle cx="176.3" cy="1791.6" r="4.4"/><circle cx="174.2" cy="1798.1" r="4.4"/><circle cx="160.8" cy="1773.0" r="4.4"/><circle cx="169.5" cy="1791.9" r="4.4"/><circle cx="189.6" cy="1779.5" r="4.4"/><circle cx="151.3" cy="1817.6" r="4.4"/><circle cx="189.0" cy="1786.4" r="4.4"/><circle cx="213.6" cy="1791.7" r="4.4"/><circle cx="150.1" cy="1772.7" r="4.4"/><circle cx="195.0" cy="1770.1" r="4.4"/><circle cx="205.6" cy="1807.1" r="4.4"/><circle cx="194.8" cy="1742.5" r="4.4"/><circle cx="180.1" cy="1734.6" r="4.4"/><circle cx="211.0" cy="1757.2" r="4.4"/><circle cx="227.6" cy="1778.4" r="4.4"/><circle cx="188.3" cy="1724.1" r="4.4"/><circle cx="192.9" cy="1799.7" r="4.4"/><circle cx="203.4" cy="1795.2" r="4.4"/><circle cx="199.8" cy="1791.4" r="4.4"/><circle cx="235.0" cy="1792.0" r="4.4"/><circle cx="174.4" cy="1789.3" r="4.4"/><circle cx="196.3" cy="1778.2" r="4.4"/><circle cx="167.0" cy="1790.1" r="4.4"/><circle cx="215.4" cy="1770.5" r="4.4"/><circle cx="176.5" cy="1774.2" r="4.4"/><circle cx="146.3" cy="1820.6" r="4.4"/><circle cx="163.6" cy="1772.9" r="4.4"/><circle cx="180.4" cy="1772.7" r="4.4"/><circle cx="176.6" cy="1777.9" r="4.4"/><circle cx="144.0" cy="1803.1" r="4.4"/><circle cx="195.6" cy="1735.1" r="4.4"/><circle cx="198.4" cy="1782.5" r="4.4"/><circle cx="168.9" cy="1751.3" r="4.4"/><circle cx="193.7" cy="1802.2" r="4.4"/><circle cx="170.8" cy="1763.5" r="4.4"/><circle cx="189.8" cy="1800.8" r="4.4"/><circle cx="200.3" cy="1772.3" r="4.4"/><circle cx="154.7" cy="1816.5" r="4.4"/><circle cx="175.5" cy="1795.8" r="4.4"/><circle cx="152.4" cy="1777.0" r="4.4"/><circle cx="151.3" cy="1772.6" r="4.4"/><circle cx="149.9" cy="1783.7" r="4.4"/><circle cx="220.1" cy="1776.4" r="4.4"/><circle cx="186.6" cy="1799.3" r="4.4"/><circle cx="160.4" cy="1764.6" r="4.4"/><circle cx="171.6" cy="1760.6" r="4.4"/><circle cx="208.1" cy="1810.7" r="4.4"/><circle cx="172.4" cy="1762.0" r="4.4"/><circle cx="201.5" cy="1748.6" r="4.4"/><circle cx="128.6" cy="1815.1" r="4.4"/><circle cx="160.9" cy="1800.5" r="4.4"/><circle cx="208.1" cy="1713.0" r="4.4"/><circle cx="159.1" cy="1795.5" r="4.4"/><circle cx="187.1" cy="1742.4" r="4.4"/><circle cx="200.5" cy="1786.9" r="4.4"/><circle cx="169.9" cy="1801.0" r="4.4"/><circle cx="200.4" cy="1803.4" r="4.4"/><circle cx="227.1" cy="1771.7" r="4.4"/><circle cx="185.6" cy="1770.5" r="4.4"/><circle cx="140.0" cy="1802.2" r="4.4"/><circle cx="179.2" cy="1748.0" r="4.4"/><circle cx="206.1" cy="1809.4" r="4.4"/><circle cx="347.0" cy="1831.0" r="4.4"/><circle cx="212.1" cy="1753.5" r="4.4"/><circle cx="206.1" cy="1780.3" r="4.4"/><circle cx="193.7" cy="1716.7" r="4.4"/><circle cx="196.2" cy="1747.0" r="4.4"/><circle cx="170.9" cy="1772.5" r="4.4"/><circle cx="183.2" cy="1796.1" r="4.4"/><circle cx="208.5" cy="1744.2" r="4.4"/><circle cx="195.2" cy="1770.7" r="4.4"/><circle cx="191.0" cy="1806.8" r="4.4"/><circle cx="207.1" cy="1765.3" r="4.4"/><circle cx="190.6" cy="1742.8" r="4.4"/><circle cx="190.9" cy="1809.1" r="4.4"/><circle cx="152.8" cy="1779.5" r="4.4"/><circle cx="213.5" cy="1790.0" r="4.4"/><circle cx="147.9" cy="1794.0" r="4.4"/><circle cx="192.3" cy="1759.6" r="4.4"/><circle cx="179.6" cy="1813.6" r="4.4"/><circle cx="213.8" cy="1802.0" r="4.4"/><circle cx="224.8" cy="1776.9" r="4.4"/><circle cx="177.9" cy="1775.4" r="4.4"/><circle cx="169.2" cy="1776.4" r="4.4"/><circle cx="266.2" cy="1791.4" r="4.4"/><circle cx="195.4" cy="1771.6" r="4.4"/><circle cx="201.3" cy="1770.4" r="4.4"/><circle cx="201.4" cy="1781.4" r="4.4"/><circle cx="170.8" cy="1771.2" r="4.4"/><circle cx="139.9" cy="1805.0" r="4.4"/><circle cx="175.8" cy="1792.1" r="4.4"/><circle cx="165.8" cy="1767.9" r="4.4"/><circle cx="180.3" cy="1788.7" r="4.4"/><circle cx="186.3" cy="1772.4" r="4.4"/><circle cx="163.6" cy="1783.9" r="4.4"/><circle cx="208.7" cy="1787.2" r="4.4"/><circle cx="185.7" cy="1779.6" r="4.4"/><circle cx="184.9" cy="1788.8" r="4.4"/><circle cx="198.8" cy="1754.5" r="4.4"/><circle cx="173.4" cy="1786.3" r="4.4"/><circle cx="170.3" cy="1790.4" r="4.4"/><circle cx="165.8" cy="1775.5" r="4.4"/><circle cx="199.3" cy="1769.4" r="4.4"/><circle cx="195.2" cy="1777.0" r="4.4"/><circle cx="171.6" cy="1785.4" r="4.4"/><circle cx="178.5" cy="1775.7" r="4.4"/><circle cx="204.8" cy="1769.7" r="4.4"/><circle cx="253.7" cy="1798.5" r="4.4"/><circle cx="174.6" cy="1811.0" r="4.4"/><circle cx="173.7" cy="1807.7" r="4.4"/><circle cx="228.1" cy="1799.4" r="4.4"/><circle cx="186.0" cy="1726.9" r="4.4"/><circle cx="218.9" cy="1799.8" r="4.4"/><circle cx="150.7" cy="1794.3" r="4.4"/><circle cx="204.5" cy="1778.4" r="4.4"/><circle cx="120.8" cy="1833.6" r="4.4"/><circle cx="188.1" cy="1803.9" r="4.4"/><circle cx="227.2" cy="1800.7" r="4.4"/><circle cx="205.8" cy="1811.2" r="4.4"/><circle cx="206.0" cy="1729.4" r="4.4"/><circle cx="186.7" cy="1783.3" r="4.4"/><circle cx="171.2" cy="1775.2" r="4.4"/><circle cx="161.4" cy="1764.8" r="4.4"/><circle cx="190.6" cy="1791.9" r="4.4"/><circle cx="166.5" cy="1796.2" r="4.4"/><circle cx="205.9" cy="1766.9" r="4.4"/><circle cx="220.0" cy="1761.2" r="4.4"/><circle cx="142.7" cy="1789.0" r="4.4"/><circle cx="130.8" cy="1818.0" r="4.4"/><circle cx="146.1" cy="1814.3" r="4.4"/><circle cx="156.8" cy="1784.8" r="4.4"/><circle cx="157.8" cy="1770.8" r="4.4"/><circle cx="173.5" cy="1751.0" r="4.4"/><circle cx="152.1" cy="1789.2" r="4.4"/><circle cx="254.2" cy="1808.4" r="4.4"/><circle cx="168.8" cy="1775.7" r="4.4"/><circle cx="205.6" cy="1768.2" r="4.4"/><circle cx="217.2" cy="1768.5" r="4.4"/><circle cx="191.2" cy="1798.5" r="4.4"/><circle cx="197.1" cy="1768.6" r="4.4"/><circle cx="176.1" cy="1757.5" r="4.4"/><circle cx="236.0" cy="1758.1" r="4.4"/><circle cx="188.3" cy="1743.8" r="4.4"/><circle cx="163.8" cy="1775.8" r="4.4"/><circle cx="198.8" cy="1757.7" r="4.4"/><circle cx="155.5" cy="1805.0" r="4.4"/><circle cx="224.7" cy="1771.2" r="4.4"/><circle cx="156.9" cy="1813.9" r="4.4"/><circle cx="209.5" cy="1781.7" r="4.4"/><circle cx="217.7" cy="1779.9" r="4.4"/><circle cx="205.9" cy="1734.7" r="4.4"/><circle cx="209.7" cy="1789.9" r="4.4"/><circle cx="190.6" cy="1741.5" r="4.4"/><circle cx="186.5" cy="1752.5" r="4.4"/><circle cx="204.0" cy="1721.0" r="4.4"/><circle cx="118.4" cy="1845.0" r="4.4"/><circle cx="172.2" cy="1800.1" r="4.4"/><circle cx="203.8" cy="1753.1" r="4.4"/><circle cx="219.6" cy="1792.4" r="4.4"/><circle cx="188.1" cy="1789.6" r="4.4"/><circle cx="159.4" cy="1783.7" r="4.4"/><circle cx="191.0" cy="1730.4" r="4.4"/><circle cx="170.2" cy="1789.9" r="4.4"/><circle cx="168.1" cy="1795.1" r="4.4"/><circle cx="173.4" cy="1796.5" r="4.4"/><circle cx="173.4" cy="1772.4" r="4.4"/><circle cx="221.6" cy="1777.2" r="4.4"/><circle cx="183.0" cy="1780.0" r="4.4"/><circle cx="221.7" cy="1801.6" r="4.4"/><circle cx="124.3" cy="1829.1" r="4.4"/><circle cx="159.3" cy="1766.6" r="4.4"/><circle cx="229.1" cy="1795.1" r="4.4"/><circle cx="206.9" cy="1794.8" r="4.4"/><circle cx="206.3" cy="1716.8" r="4.4"/><circle cx="148.6" cy="1818.0" r="4.4"/><circle cx="190.1" cy="1776.1" r="4.4"/><circle cx="196.4" cy="1790.7" r="4.4"/><circle cx="359.2" cy="1848.5" r="4.4"/><circle cx="199.1" cy="1728.1" r="4.4"/><circle cx="184.2" cy="1760.0" r="4.4"/><circle cx="201.3" cy="1810.9" r="4.4"/><circle cx="188.3" cy="1763.3" r="4.4"/><circle cx="167.7" cy="1792.4" r="4.4"/><circle cx="216.7" cy="1768.6" r="4.4"/><circle cx="180.8" cy="1788.7" r="4.4"/><circle cx="199.4" cy="1787.6" r="4.4"/><circle cx="151.5" cy="1777.1" r="4.4"/><circle cx="187.8" cy="1769.1" r="4.4"/><circle cx="212.5" cy="1744.8" r="4.4"/><circle cx="200.7" cy="1810.9" r="4.4"/><circle cx="213.5" cy="1808.6" r="4.4"/><circle cx="182.0" cy="1753.9" r="4.4"/><circle cx="178.0" cy="1765.3" r="4.4"/><circle cx="161.4" cy="1772.3" r="4.4"/><circle cx="165.8" cy="1767.2" r="4.4"/><circle cx="175.4" cy="1784.5" r="4.4"/><circle cx="176.0" cy="1794.4" r="4.4"/><circle cx="147.5" cy="1792.5" r="4.4"/><circle cx="176.0" cy="1751.5" r="4.4"/><circle cx="170.4" cy="1768.9" r="4.4"/><circle cx="169.2" cy="1787.8" r="4.4"/><circle cx="209.7" cy="1752.3" r="4.4"/><circle cx="212.1" cy="1753.1" r="4.4"/><circle cx="176.4" cy="1773.2" r="4.4"/><circle cx="180.5" cy="1757.2" r="4.4"/><circle cx="210.5" cy="1760.6" r="4.4"/><circle cx="162.3" cy="1754.6" r="4.4"/><circle cx="156.4" cy="1780.5" r="4.4"/><circle cx="174.9" cy="1768.8" r="4.4"/><circle cx="244.6" cy="1795.9" r="4.4"/><circle cx="175.9" cy="1756.4" r="4.4"/><circle cx="160.5" cy="1781.0" r="4.4"/><circle cx="189.7" cy="1775.2" r="4.4"/><circle cx="187.0" cy="1783.2" r="4.4"/><circle cx="167.8" cy="1753.1" r="4.4"/><circle cx="167.2" cy="1765.0" r="4.4"/><circle cx="229.3" cy="1787.4" r="4.4"/><circle cx="154.3" cy="1780.5" r="4.4"/><circle cx="130.2" cy="1818.6" r="4.4"/><circle cx="191.7" cy="1719.5" r="4.4"/><circle cx="154.4" cy="1798.8" r="4.4"/><circle cx="170.2" cy="1753.6" r="4.4"/><circle cx="199.4" cy="1812.8" r="4.4"/><circle cx="167.7" cy="1771.6" r="4.4"/><circle cx="180.9" cy="1734.5" r="4.4"/><circle cx="218.9" cy="1778.2" r="4.4"/><circle cx="164.3" cy="1756.2" r="4.4"/><circle cx="203.9" cy="1762.3" r="4.4"/><circle cx="200.4" cy="1779.3" r="4.4"/><circle cx="191.9" cy="1791.8" r="4.4"/><circle cx="150.4" cy="1810.9" r="4.4"/><circle cx="160.0" cy="1763.9" r="4.4"/><circle cx="126.5" cy="1824.9" r="4.4"/><circle cx="171.0" cy="1799.9" r="4.4"/><circle cx="207.3" cy="1747.0" r="4.4"/><circle cx="140.2" cy="1798.6" r="4.4"/><circle cx="200.8" cy="1809.6" r="4.4"/><circle cx="170.9" cy="1775.1" r="4.4"/><circle cx="198.4" cy="1783.9" r="4.4"/><circle cx="198.0" cy="1770.5" r="4.4"/><circle cx="239.0" cy="1787.0" r="4.4"/><circle cx="184.1" cy="1790.2" r="4.4"/><circle cx="158.3" cy="1797.3" r="4.4"/><circle cx="169.6" cy="1788.3" r="4.4"/><circle cx="193.8" cy="1809.7" r="4.4"/><circle cx="150.0" cy="1787.1" r="4.4"/><circle cx="156.6" cy="1767.6" r="4.4"/><circle cx="170.5" cy="1782.1" r="4.4"/><circle cx="162.2" cy="1781.3" r="4.4"/><circle cx="184.7" cy="1785.7" r="4.4"/><circle cx="160.2" cy="1796.7" r="4.4"/><circle cx="144.6" cy="1795.9" r="4.4"/><circle cx="175.7" cy="1768.9" r="4.4"/><circle cx="167.3" cy="1780.0" r="4.4"/><circle cx="155.1" cy="1792.1" r="4.4"/><circle cx="191.6" cy="1769.8" r="4.4"/><circle cx="169.8" cy="1797.1" r="4.4"/><circle cx="205.0" cy="1746.8" r="4.4"/><circle cx="187.2" cy="1781.5" r="4.4"/><circle cx="139.5" cy="1802.6" r="4.4"/><circle cx="220.8" cy="1789.1" r="4.4"/><circle cx="172.3" cy="1793.4" r="4.4"/><circle cx="195.3" cy="1773.3" r="4.4"/><circle cx="159.5" cy="1783.2" r="4.4"/><circle cx="142.4" cy="1824.6" r="4.4"/><circle cx="207.1" cy="1788.0" r="4.4"/><circle cx="255.0" cy="1784.9" r="4.4"/><circle cx="196.8" cy="1801.2" r="4.4"/><circle cx="175.4" cy="1788.6" r="4.4"/><circle cx="207.6" cy="1780.1" r="4.4"/><circle cx="238.0" cy="1792.0" r="4.4"/><circle cx="114.3" cy="1846.7" r="4.4"/><circle cx="177.4" cy="1774.8" r="4.4"/><circle cx="138.8" cy="1786.0" r="4.4"/><circle cx="144.4" cy="1813.9" r="4.4"/><circle cx="200.0" cy="1768.3" r="4.4"/><circle cx="142.3" cy="1802.3" r="4.4"/><circle cx="186.3" cy="1799.6" r="4.4"/><circle cx="171.3" cy="1789.6" r="4.4"/><circle cx="168.6" cy="1800.1" r="4.4"/><circle cx="202.0" cy="1717.7" r="4.4"/><circle cx="226.5" cy="1790.3" r="4.4"/><circle cx="195.6" cy="1763.8" r="4.4"/><circle cx="168.2" cy="1772.6" r="4.4"/><circle cx="173.9" cy="1774.7" r="4.4"/><circle cx="185.3" cy="1778.3" r="4.4"/><circle cx="165.3" cy="1754.8" r="4.4"/><circle cx="174.3" cy="1792.2" r="4.4"/><circle cx="161.7" cy="1785.9" r="4.4"/><circle cx="221.0" cy="1782.2" r="4.4"/><circle cx="165.5" cy="1783.8" r="4.4"/><circle cx="205.7" cy="1733.5" r="4.4"/><circle cx="210.8" cy="1726.9" r="4.4"/><circle cx="118.0" cy="1842.4" r="4.4"/><circle cx="190.3" cy="1808.3" r="4.4"/><circle cx="167.3" cy="1754.2" r="4.4"/><circle cx="181.5" cy="1796.4" r="4.4"/><circle cx="194.0" cy="1777.5" r="4.4"/><circle cx="187.7" cy="1774.9" r="4.4"/><circle cx="158.3" cy="1787.3" r="4.4"/><circle cx="190.8" cy="1724.1" r="4.4"/><circle cx="175.3" cy="1778.7" r="4.4"/><circle cx="162.2" cy="1785.9" r="4.4"/><circle cx="199.7" cy="1764.1" r="4.4"/><circle cx="181.6" cy="1782.5" r="4.4"/><circle cx="166.5" cy="1784.2" r="4.4"/><circle cx="151.4" cy="1798.6" r="4.4"/><circle cx="156.5" cy="1799.3" r="4.4"/><circle cx="171.7" cy="1763.2" r="4.4"/><circle cx="199.5" cy="1775.9" r="4.4"/><circle cx="180.7" cy="1776.6" r="4.4"/><circle cx="192.8" cy="1798.8" r="4.4"/><circle cx="175.0" cy="1762.1" r="4.4"/><circle cx="181.0" cy="1799.4" r="4.4"/><circle cx="201.9" cy="1778.3" r="4.4"/><circle cx="176.8" cy="1801.8" r="4.4"/><circle cx="203.2" cy="1807.5" r="4.4"/><circle cx="147.2" cy="1818.4" r="4.4"/><circle cx="166.7" cy="1770.9" r="4.4"/><circle cx="199.3" cy="1782.6" r="4.4"/><circle cx="184.2" cy="1793.7" r="4.4"/><circle cx="165.9" cy="1754.1" r="4.4"/><circle cx="178.7" cy="1767.8" r="4.4"/><circle cx="157.0" cy="1806.2" r="4.4"/><circle cx="172.0" cy="1749.9" r="4.4"/><circle cx="199.9" cy="1720.8" r="4.4"/><circle cx="168.9" cy="1779.8" r="4.4"/><circle cx="201.1" cy="1781.0" r="4.4"/><circle cx="188.5" cy="1725.3" r="4.4"/><circle cx="216.5" cy="1799.0" r="4.4"/><circle cx="118.8" cy="1836.5" r="4.4"/><circle cx="202.1" cy="1741.2" r="4.4"/><circle cx="174.4" cy="1772.6" r="4.4"/><circle cx="171.5" cy="1773.3" r="4.4"/><circle cx="191.9" cy="1789.7" r="4.4"/><circle cx="175.2" cy="1739.8" r="4.4"/><circle cx="161.1" cy="1789.6" r="4.4"/><circle cx="175.3" cy="1764.1" r="4.4"/><circle cx="178.9" cy="1792.3" r="4.4"/><circle cx="181.5" cy="1786.2" r="4.4"/><circle cx="164.6" cy="1788.6" r="4.4"/><circle cx="189.5" cy="1792.0" r="4.4"/><circle cx="140.0" cy="1794.6" r="4.4"/><circle cx="205.1" cy="1782.7" r="4.4"/><circle cx="175.2" cy="1789.7" r="4.4"/><circle cx="200.3" cy="1756.2" r="4.4"/><circle cx="170.7" cy="1786.9" r="4.4"/><circle cx="158.5" cy="1784.8" r="4.4"/><circle cx="175.2" cy="1734.5" r="4.4"/><circle cx="148.0" cy="1811.1" r="4.4"/><circle cx="197.5" cy="1768.7" r="4.4"/><circle cx="155.6" cy="1793.5" r="4.4"/><circle cx="173.7" cy="1796.3" r="4.4"/><circle cx="206.0" cy="1770.7" r="4.4"/><circle cx="118.1" cy="1844.2" r="4.4"/><circle cx="154.0" cy="1805.0" r="4.4"/><circle cx="161.8" cy="1797.2" r="4.4"/><circle cx="274.5" cy="1802.9" r="4.4"/><circle cx="171.7" cy="1785.8" r="4.4"/><circle cx="170.7" cy="1749.2" r="4.4"/><circle cx="178.0" cy="1763.3" r="4.4"/><circle cx="166.7" cy="1771.4" r="4.4"/><circle cx="200.6" cy="1740.9" r="4.4"/><circle cx="178.9" cy="1779.3" r="4.4"/><circle cx="156.2" cy="1780.6" r="4.4"/><circle cx="166.6" cy="1800.7" r="4.4"/><circle cx="168.8" cy="1788.7" r="4.4"/><circle cx="209.3" cy="1776.5" r="4.4"/><circle cx="188.1" cy="1769.4" r="4.4"/><circle cx="178.4" cy="1778.0" r="4.4"/><circle cx="204.7" cy="1794.8" r="4.4"/><circle cx="218.0" cy="1778.8" r="4.4"/><circle cx="171.1" cy="1788.9" r="4.4"/><circle cx="160.0" cy="1773.9" r="4.4"/><circle cx="179.2" cy="1803.3" r="4.4"/><circle cx="215.2" cy="1776.4" r="4.4"/><circle cx="178.1" cy="1785.5" r="4.4"/><circle cx="145.5" cy="1803.6" r="4.4"/><circle cx="233.8" cy="1792.8" r="4.4"/><circle cx="173.2" cy="1784.7" r="4.4"/><circle cx="222.4" cy="1742.4" r="4.4"/><circle cx="199.5" cy="1716.5" r="4.4"/><circle cx="193.0" cy="1717.7" r="4.4"/><circle cx="194.7" cy="1762.5" r="4.4"/><circle cx="129.5" cy="1825.0" r="4.4"/><circle cx="331.1" cy="1834.2" r="4.4"/><circle cx="133.1" cy="1825.6" r="4.4"/><circle cx="217.2" cy="1776.9" r="4.4"/><circle cx="165.4" cy="1765.5" r="4.4"/><circle cx="140.3" cy="1831.6" r="4.4"/><circle cx="166.7" cy="1782.4" r="4.4"/><circle cx="163.5" cy="1786.2" r="4.4"/><circle cx="154.6" cy="1801.5" r="4.4"/><circle cx="181.8" cy="1789.7" r="4.4"/><circle cx="167.0" cy="1760.8" r="4.4"/><circle cx="213.6" cy="1751.6" r="4.4"/><circle cx="164.1" cy="1786.0" r="4.4"/><circle cx="230.2" cy="1794.4" r="4.4"/><circle cx="191.0" cy="1776.3" r="4.4"/><circle cx="194.8" cy="1793.8" r="4.4"/><circle cx="206.7" cy="1735.7" r="4.4"/><circle cx="158.5" cy="1807.5" r="4.4"/><circle cx="211.6" cy="1806.2" r="4.4"/><circle cx="229.7" cy="1774.2" r="4.4"/><circle cx="196.5" cy="1788.0" r="4.4"/>
</g>
<text x="592.2" y="1548.8" font-size="32.5" textLength="168" lengthAdjust="spacingAndGlyphs" fill="#231f20" stroke="#231f20" stroke-width="0.6">ChocoGen</text>
<text x="580.8" y="1604.3" font-size="26.6" textLength="192" lengthAdjust="spacingAndGlyphs" fill="#231f20">Native American</text>
<path d="M675.9 1620L814.5 1858.4H537.8Z" fill="#d9d9d9" stroke="#231f20" stroke-width="2.6" stroke-linejoin="miter"/>
<text x="492.2" y="1894.4" font-size="26.6" textLength="112.8" lengthAdjust="spacingAndGlyphs" fill="#231f20">European</text>
<text x="769.7" y="1894.4" font-size="26.6" textLength="80.3" lengthAdjust="spacingAndGlyphs" fill="#231f20">African</text>
<g fill="#118a43" stroke="#0a0a0a" stroke-width="1.1">
<circle cx="776.7" cy="1825.0" r="4.4"/><circle cx="747.5" cy="1815.4" r="4.4"/><circle cx="798.7" cy="1848.7" r="4.4"/><circle cx="781.0" cy="1842.5" r="4.4"/><circle cx="778.2" cy="1843.6" r="4.4"/><circle cx="739.7" cy="1815.4" r="4.4"/><circle cx="786.0" cy="1838.0" r="4.4"/><circle cx="618.0" cy="1777.1" r="4.4"/><circle cx="771.1" cy="1845.3" r="4.4"/><circle cx="759.2" cy="1834.5" r="4.4"/><circle cx="761.7" cy="1832.4" r="4.4"/><circle cx="779.2" cy="1825.4" r="4.4"/><circle cx="800.5" cy="1848.0" r="4.4"/><circle cx="766.5" cy="1833.9" r="4.4"/><circle cx="765.2" cy="1841.1" r="4.4"/><circle cx="796.6" cy="1845.1" r="4.4"/><circle cx="785.3" cy="1843.7" r="4.4"/><circle cx="779.6" cy="1846.6" r="4.4"/><circle cx="773.4" cy="1824.2" r="4.4"/><circle cx="781.9" cy="1823.2" r="4.4"/><circle cx="775.9" cy="1841.0" r="4.4"/><circle cx="773.2" cy="1845.2" r="4.4"/><circle cx="790.7" cy="1835.3" r="4.4"/><circle cx="776.2" cy="1828.6" r="4.4"/><circle cx="795.2" cy="1840.7" r="4.4"/><circle cx="766.4" cy="1833.3" r="4.4"/><circle cx="754.0" cy="1803.7" r="4.4"/><circle cx="772.0" cy="1826.1" r="4.4"/><circle cx="724.9" cy="1771.6" r="4.4"/><circle cx="791.0" cy="1838.6" r="4.4"/><circle cx="795.2" cy="1843.4" r="4.4"/><circle cx="776.6" cy="1831.9" r="4.4"/><circle cx="708.4" cy="1810.2" r="4.4"/><circle cx="788.9" cy="1834.8" r="4.4"/><circle cx="766.4" cy="1826.8" r="4.4"/><circle cx="789.1" cy="1836.1" r="4.4"/><circle cx="764.3" cy="1826.9" r="4.4"/><circle cx="757.2" cy="1827.1" r="4.4"/><circle cx="750.1" cy="1827.1" r="4.4"/><circle cx="794.0" cy="1839.7" r="4.4"/><circle cx="765.1" cy="1826.9" r="4.4"/><circle cx="625.6" cy="1770.6" r="4.4"/><circle cx="793.6" cy="1844.8" r="4.4"/><circle cx="773.6" cy="1846.2" r="4.4"/><circle cx="761.0" cy="1825.9" r="4.4"/><circle cx="774.2" cy="1845.6" r="4.4"/><circle cx="791.4" cy="1838.5" r="4.4"/><circle cx="741.0" cy="1829.2" r="4.4"/><circle cx="793.6" cy="1846.0" r="4.4"/><circle cx="728.8" cy="1799.8" r="4.4"/><circle cx="784.9" cy="1847.7" r="4.4"/><circle cx="785.1" cy="1849.4" r="4.4"/><circle cx="757.0" cy="1822.0" r="4.4"/><circle cx="791.7" cy="1840.0" r="4.4"/><circle cx="711.0" cy="1806.3" r="4.4"/><circle cx="788.2" cy="1847.0" r="4.4"/><circle cx="742.3" cy="1790.1" r="4.4"/><circle cx="768.0" cy="1840.2" r="4.4"/><circle cx="602.9" cy="1790.1" r="4.4"/><circle cx="780.2" cy="1844.1" r="4.4"/><circle cx="768.4" cy="1844.3" r="4.4"/><circle cx="761.2" cy="1830.4" r="4.4"/><circle cx="783.5" cy="1843.4" r="4.4"/><circle cx="691.5" cy="1794.6" r="4.4"/><circle cx="781.7" cy="1824.8" r="4.4"/><circle cx="751.4" cy="1848.0" r="4.4"/><circle cx="782.3" cy="1841.5" r="4.4"/><circle cx="699.8" cy="1826.4" r="4.4"/><circle cx="774.5" cy="1821.5" r="4.4"/><circle cx="793.1" cy="1856.3" r="4.4"/><circle cx="750.1" cy="1842.2" r="4.4"/><circle cx="728.8" cy="1809.7" r="4.4"/><circle cx="770.5" cy="1818.8" r="4.4"/><circle cx="768.1" cy="1839.3" r="4.4"/><circle cx="790.7" cy="1847.4" r="4.4"/><circle cx="773.8" cy="1816.2" r="4.4"/><circle cx="777.7" cy="1842.5" r="4.4"/><circle cx="795.0" cy="1838.4" r="4.4"/><circle cx="768.0" cy="1837.9" r="4.4"/><circle cx="771.5" cy="1833.0" r="4.4"/><circle cx="729.3" cy="1792.7" r="4.4"/><circle cx="765.6" cy="1835.4" r="4.4"/><circle cx="784.9" cy="1836.4" r="4.4"/><circle cx="777.4" cy="1830.7" r="4.4"/><circle cx="789.3" cy="1834.8" r="4.4"/><circle cx="774.8" cy="1823.7" r="4.4"/><circle cx="787.4" cy="1827.7" r="4.4"/><circle cx="761.6" cy="1818.0" r="4.4"/><circle cx="780.8" cy="1830.4" r="4.4"/><circle cx="774.2" cy="1818.4" r="4.4"/>
</g>
<text x="970.7" y="1549.8" font-size="32.5" textLength="118.5" lengthAdjust="spacingAndGlyphs" fill="#231f20" stroke="#231f20" stroke-width="0.6">UniCES</text>
<text x="1278.7" y="1549.8" font-size="32.5" textLength="166.1" lengthAdjust="spacingAndGlyphs" fill="#231f20" stroke="#231f20" stroke-width="0.6">ChocoGen</text>
<path d="M1029.70 1587.90A153 153 0 0 1 1166.51 1809.41L1131.01 1791.63A113.3 113.3 0 0 0 1029.70 1627.60Z" fill="#ec2027" stroke="#231f20" stroke-width="2" stroke-linejoin="round"/>
<path d="M1166.51 1809.41A153 153 0 1 1 920.76 1633.47L949.03 1661.35A113.3 113.3 0 1 0 1131.01 1791.63Z" fill="#f5a71f" stroke="#231f20" stroke-width="2" stroke-linejoin="round"/>
<path d="M920.76 1633.47A153 153 0 0 1 1029.70 1587.90L1029.70 1627.60A113.3 113.3 0 0 0 949.03 1661.35Z" fill="#0a4fa0" stroke="#231f20" stroke-width="2" stroke-linejoin="round"/>
<rect x="977.4" y="1677.6" width="23.2" height="23" fill="#f5a71f" stroke="#231f20" stroke-width="2.2"/>
<text x="1016.8" y="1697.1" font-size="28.8" textLength="85.3" lengthAdjust="spacingAndGlyphs" fill="#231f20" stroke="#fff" stroke-width="0.6">55.0%</text>
<rect x="977.4" y="1729.1999999999998" width="23.2" height="23" fill="#ec2027" stroke="#231f20" stroke-width="2.2"/>
<text x="1016.8" y="1749.8" font-size="28.8" textLength="85.3" lengthAdjust="spacingAndGlyphs" fill="#231f20" stroke="#fff" stroke-width="0.6">32.4%</text>
<rect x="977.4" y="1781.0" width="23.2" height="23" fill="#0a4fa0" stroke="#231f20" stroke-width="2.2"/>
<text x="1016.8" y="1801.7" font-size="28.8" textLength="85.3" lengthAdjust="spacingAndGlyphs" fill="#231f20" stroke="#fff" stroke-width="0.6">12.6%</text>
<path d="M1476.07 1642.42A153 153 0 0 1 1514.30 1743.60L1474.60 1743.60A113.3 113.3 0 0 0 1446.29 1668.67Z" fill="#f5a71f" stroke="#231f20" stroke-width="2" stroke-linejoin="round"/>
<path d="M1514.30 1743.60A153 153 0 0 1 1469.49 1851.79L1441.42 1823.72A113.3 113.3 0 0 0 1474.60 1743.60Z" fill="#ec2027" stroke="#231f20" stroke-width="2" stroke-linejoin="round"/>
<path d="M1469.49 1851.79A153 153 0 1 1 1476.07 1642.42L1446.29 1668.67A113.3 113.3 0 1 0 1441.42 1823.72Z" fill="#0a4fa0" stroke="#231f20" stroke-width="2" stroke-linejoin="round"/>
<rect x="1299.5" y="1680.5" width="23.2" height="23" fill="#f5a71f" stroke="#231f20" stroke-width="2.2"/>
<text x="1340.1" y="1700.4" font-size="28.8" textLength="83.7" lengthAdjust="spacingAndGlyphs" fill="#231f20" stroke="#fff" stroke-width="0.6">11.5%</text>
<rect x="1299.5" y="1732.6" width="23.2" height="23" fill="#ec2027" stroke="#231f20" stroke-width="2.2"/>
<text x="1340.1" y="1752.5" font-size="28.8" textLength="83.7" lengthAdjust="spacingAndGlyphs" fill="#231f20" stroke="#fff" stroke-width="0.6">12.5%</text>
<rect x="1299.5" y="1784.3" width="23.2" height="23" fill="#0a4fa0" stroke="#231f20" stroke-width="2.2"/>
<text x="1340.1" y="1804.5" font-size="28.8" textLength="83.7" lengthAdjust="spacingAndGlyphs" fill="#231f20" stroke="#fff" stroke-width="0.6">76.0%</text>
<defs><filter id="sh" x="-60%" y="-60%" width="220%" height="220%"><feGaussianBlur stdDeviation="15"/></filter><filter id="gl" x="-60%" y="-60%" width="220%" height="220%"><feGaussianBlur stdDeviation="11"/></filter></defs>
<path d="M240.2 231.4L242.0 230.2L243.2 228.6L244.3 228.3L246.5 225.6L248.1 223.3L248.3 221.6L250.0 219.4L251.0 218.3L251.7 215.8L252.4 214.0L253.4 211.6L254.8 209.4L256.2 208.7L255.7 206.9L257.7 205.1L260.2 205.1L261.7 203.4L262.8 202.4L264.6 202.6L267.2 200.5L270.3 200.9L273.2 200.7L274.1 200.3L275.0 199.9L277.8 200.5L281.0 198.8L280.3 197.6L282.4 194.7L281.3 192.7L281.1 190.4L282.0 187.7L281.4 184.4L282.1 181.8L282.6 180.4L283.1 177.2L283.0 175.4L284.5 173.5L284.4 170.5L285.3 169.2L286.4 167.5L284.8 166.9L283.2 164.5L281.5 163.7L280.3 163.0L280.4 160.1L282.5 158.7L281.6 156.7L284.3 154.8L283.4 153.0L285.6 149.9L285.0 148.1L286.6 145.6L286.1 144.3L287.3 142.9L287.6 139.3L289.5 139.2L290.4 137.6L291.2 136.4L293.4 134.6L296.1 133.5L297.7 133.0L298.1 129.9L299.3 128.4L301.6 127.8L303.4 126.3L304.6 125.3L306.8 123.1L308.9 121.0L310.7 120.5L312.5 119.8L314.5 117.5L316.2 115.6L317.6 115.4L319.2 114.1L321.6 112.6L323.3 110.8L324.4 111.3L327.0 113.2L330.2 113.5L332.3 115.0L333.7 115.8L336.2 115.4L338.8 116.1L341.4 116.4L341.9 117.0L345.2 117.2L347.9 116.9L349.8 115.8L352.3 117.0L352.3 113.4L353.1 112.6L353.4 111.7L353.8 108.1L354.5 106.3L355.1 105.0L355.7 102.6L356.4 101.4L358.4 99.0L360.8 100.0L362.1 98.3L363.0 98.1L366.2 99.5L368.4 98.8L371.3 99.3L372.0 101.0L375.3 101.2L377.8 101.8L379.3 101.2L381.6 101.6L383.3 102.2L385.6 101.3L389.0 102.1L390.1 102.6L391.4 101.6L394.5 101.7L397.3 101.6L399.2 102.3L402.0 100.3L404.8 101.8L405.8 100.2L406.7 97.3L408.3 96.5L410.7 96.1L413.2 93.9L414.8 92.4L416.0 91.2L417.9 90.0L420.0 89.4L421.3 86.9L421.9 86.1L423.6 86.1L425.6 83.9L427.9 81.4L430.3 81.2L432.7 81.1L434.7 78.8L436.5 78.0L438.4 78.8L440.5 76.6L443.0 76.1L445.7 75.8L448.2 74.6L450.4 73.7L452.3 72.6L453.9 71.9L455.4 71.4L457.1 69.6L459.3 68.3L460.2 65.1L461.7 63.4L462.1 61.4L462.2 61.1L464.1 57.9L462.9 55.5L464.2 55.0L463.8 52.8L464.0 50.8L466.4 50.3L467.9 48.3L469.2 49.7L471.0 47.5L473.3 46.3L475.6 46.4L477.9 45.4L480.2 43.4L482.2 42.3L483.5 42.4L485.1 39.7L487.5 38.8L490.0 39.1L490.3 38.1L492.8 38.8L495.4 38.6L496.7 39.8L498.9 40.8L500.9 40.5L504.4 41.8L505.0 41.4L507.9 42.6L510.4 44.2L510.9 45.8L512.7 48.0L513.9 48.3L515.3 51.4L517.1 53.5L516.8 54.2L519.0 55.7L521.0 57.5L518.8 60.5L518.8 61.5L517.8 63.4L515.6 64.2L514.1 66.6L512.9 66.0L511.1 67.3L508.7 69.7L506.2 70.2L503.7 70.2L501.4 72.4L499.4 74.9L498.4 73.6L496.9 74.7L494.5 75.2L491.3 76.1L488.5 75.3L486.7 77.0L485.5 77.4L483.6 77.0L481.4 78.8L479.1 80.0L476.6 80.4L474.1 81.4L473.0 84.1L471.6 85.2L471.4 87.3L469.5 88.4L469.0 91.3L468.2 93.1L466.4 96.0L466.1 96.6L464.7 98.7L463.5 99.8L462.9 103.1L461.9 104.4L460.8 106.7L460.2 107.1L456.9 108.9L455.4 108.2L453.2 107.9L451.5 108.5L449.6 110.5L447.5 112.6L444.6 113.9L444.3 116.1L443.9 116.4L441.7 119.3L441.4 121.0L440.2 123.1L439.1 123.9L438.0 126.0L437.1 127.9L436.1 130.8L434.7 132.2L434.2 133.8L432.8 135.0L431.5 137.5L431.3 139.7L429.3 141.9L428.7 143.1L428.2 144.6L425.7 145.9L424.2 148.3L423.4 150.5L423.4 154.1L423.2 156.3L423.0 157.0L422.3 159.4L423.2 163.0L421.5 164.8L422.3 165.5L422.2 168.1L421.0 171.5L421.8 172.8L421.2 173.6L420.6 176.8L420.7 179.6L420.8 180.1L419.3 181.7L419.1 185.0L418.7 186.3L416.2 188.5L416.1 188.8L415.0 191.7L413.4 193.3L412.7 196.0L411.5 196.6L409.9 198.6L409.1 200.2L407.9 202.3L405.9 205.2L405.2 206.4L404.3 208.5L403.1 209.0L402.0 211.9L401.2 213.7L400.6 215.3L402.0 215.1L403.3 212.7L405.0 213.4L407.5 212.2L410.3 211.0L412.8 210.6L415.2 209.5L417.5 208.7L419.6 207.8L418.8 208.6L419.9 211.4L420.0 213.0L420.0 214.9L421.4 217.6L423.2 217.4L426.1 218.7L429.6 216.9L429.6 219.9L430.1 221.4L431.7 224.0L431.5 225.8L432.3 227.9L433.7 230.3L433.4 231.8L434.5 234.6L435.7 235.7L435.4 238.7L437.2 239.2L438.7 241.0L439.5 242.7L441.6 244.0L441.8 247.3L442.0 248.4L443.9 250.8L445.4 251.6L447.0 252.8L447.9 254.5L449.7 255.6L451.6 257.4L451.6 259.4L452.6 261.3L453.2 262.5L453.2 265.3L455.0 266.7L454.9 268.4L454.5 271.7L455.2 273.9L453.7 273.9L452.1 276.6L450.0 278.3L447.5 278.2L448.5 280.4L446.7 283.8L447.6 286.4L447.9 287.4L447.5 289.0L447.8 292.3L446.9 294.9L448.6 296.3L448.7 299.0L448.8 300.6L448.9 301.5L449.0 304.6L451.1 305.7L451.6 308.7L453.5 307.5L454.8 308.9L458.7 309.7L460.3 309.5L463.0 310.1L462.5 312.9L463.8 314.4L464.1 316.5L464.1 318.9L465.6 320.2L465.7 322.9L466.9 323.8L468.4 326.2L468.4 327.3L471.3 329.1L473.2 329.4L476.5 328.3L478.9 329.7L480.4 327.6L482.3 328.1L484.5 328.6L486.7 327.1L488.6 328.8L490.5 328.0L492.5 327.3L494.4 329.3L497.2 327.8L499.1 328.1L500.0 329.4L503.1 328.1L506.1 328.8L506.1 329.2L509.1 330.0L511.8 329.9L512.4 329.2L515.2 331.1L517.7 329.6L519.6 329.6L521.1 329.3L522.8 328.7L525.1 327.2L527.8 328.6L530.4 326.3L532.1 326.8L533.0 326.1L534.5 325.8L537.2 324.4L540.7 326.1L541.7 325.6L544.1 325.8L545.9 326.3L549.5 327.0L549.7 328.8L552.7 330.1L554.7 330.8L556.4 330.9L558.4 332.9L561.4 331.9L561.8 332.4L564.1 333.0L567.7 331.7L570.0 332.3L571.4 332.1L606.4 376.3L608.2 376.8L610.3 374.4L612.7 375.7L614.2 376.2L616.1 378.0L617.6 378.0L618.1 377.6L620.4 375.8L623.0 375.0L624.1 372.5L624.7 370.6L627.8 371.9L629.4 371.6L631.3 371.5L633.4 371.9L635.2 372.0L638.2 372.3L639.6 371.7L641.1 373.1L644.9 374.3L645.4 374.0L648.1 374.9L650.1 374.0L652.3 375.3L654.4 374.2L656.4 373.9L658.5 372.9L660.5 374.0L662.7 371.6L664.9 373.0L667.0 372.1L668.6 371.8L670.6 371.8L673.4 371.7L675.8 371.1L677.0 371.0L678.5 371.6L681.5 369.7L684.5 371.4L685.9 370.0L686.7 369.7L689.4 368.5L691.5 366.5L693.9 366.5L695.9 366.7L698.4 366.8L699.3 367.1L703.1 368.9L704.6 368.7L707.1 369.5L708.4 370.4L712.3 370.3L712.7 373.5L712.2 375.8L713.2 377.5L713.4 380.9L712.9 383.2L712.5 383.1L711.9 385.8L709.6 387.2L707.3 389.0L706.2 390.1L705.8 391.3L704.4 394.1L703.7 396.3L702.7 397.6L702.3 399.5L703.5 402.8L704.6 405.0L703.7 406.1L703.0 407.7L701.5 410.1L700.6 411.0L698.5 412.0L696.2 414.5L694.3 415.3L693.0 416.0L691.9 417.6L690.9 420.4L691.9 421.7L691.5 422.9L693.0 425.9L692.9 427.9L692.2 429.9L692.9 433.2L692.2 434.4L694.0 436.2L693.9 438.5L694.4 439.1L693.1 441.9L693.6 445.2L693.5 446.0L692.4 447.2L693.0 450.6L692.2 453.0L691.4 453.2L691.8 455.8L689.9 458.9L691.2 460.0L691.6 461.3L691.9 464.1L693.4 466.0L693.3 468.2L694.3 469.5L695.2 472.1L694.3 473.1L695.0 475.1L694.0 478.4L695.3 480.0L696.1 482.5L696.1 484.7L697.7 486.1L697.4 489.1L698.1 490.0L699.5 493.0L699.3 493.7L700.9 496.4L701.4 497.0L701.4 499.7L703.0 500.3L704.5 502.1L706.4 502.3L708.4 503.9L710.1 504.4L711.8 506.5L712.7 508.8L714.2 510.7L715.0 513.5L715.4 513.8L717.8 516.2L719.5 517.5L719.5 520.0L718.6 522.1L717.1 523.6L717.1 526.5L714.7 527.7L712.6 530.8L711.5 532.2L710.7 532.9L709.1 534.7L706.9 535.5L704.9 537.7L703.2 540.1L701.7 540.3L700.1 541.3L698.3 543.7L696.5 545.1L695.2 546.6L694.0 547.4L691.5 548.3L689.1 551.1L692.7 550.0L694.4 551.1L695.5 550.7L698.8 552.4L700.0 553.1L702.1 554.5L702.9 554.7L704.7 556.8L706.6 559.7L707.1 560.0L709.6 561.0L711.6 563.1L713.7 564.4L714.3 567.4L717.9 567.7L717.3 568.4L720.6 570.1L721.2 570.4L722.1 572.9L724.4 575.0L725.2 576.0L726.8 577.6L727.5 579.8L727.3 582.9L727.7 586.1L729.2 587.2L729.0 589.9L730.4 591.4L731.5 593.6L731.4 595.5L732.9 597.1L734.1 599.7L734.0 600.7L735.3 603.6L736.6 604.5L736.5 607.6L737.4 609.1L738.6 611.3L738.1 614.3L738.8 615.5L739.6 618.6L739.0 620.8L739.8 622.4L740.3 625.7L740.1 627.2L742.0 628.9L741.9 631.5L742.2 632.4L742.6 634.6L740.5 636.4L738.1 636.2L735.6 636.9L733.3 637.0L731.2 639.0L730.3 635.8L731.6 634.1L730.9 631.6L730.9 628.6L730.4 627.6L728.8 625.5L729.3 623.2L728.5 622.3L728.3 619.4L729.0 617.7L727.8 616.0L727.7 612.9L727.4 611.9L725.8 608.9L725.8 607.2L725.2 605.3L723.6 602.4L723.6 601.6L722.9 598.6L720.8 597.2L720.0 594.0L719.1 592.5L716.9 591.3L715.7 589.2L714.0 586.8L712.3 589.1L710.8 588.2L708.5 589.7L705.6 590.1L704.9 591.1L704.1 594.0L702.1 596.1L699.9 597.0L698.8 599.2L698.0 599.5L696.4 601.9L693.8 604.2L692.1 604.4L692.0 606.3L688.8 607.5L686.5 606.6L684.8 607.0L681.3 606.6L681.3 605.0L679.6 601.9L676.7 601.2L677.1 600.4L675.8 598.0L675.4 597.2L674.7 594.5L672.4 596.0L670.0 597.0L670.8 600.6L668.7 602.2L670.5 602.9L670.8 606.1L673.0 607.5L674.7 608.8L610.1 608.8L608.1 607.3L607.2 606.1L604.7 605.8L603.1 605.5L600.8 605.7L599.3 605.3L597.1 605.6L594.9 605.9L593.3 607.8L591.6 606.4L589.2 608.9L586.4 608.6L585.1 609.3L585.1 643.9L588.1 643.9L588.9 643.1L590.2 643.1L593.0 643.4L596.0 641.7L596.9 643.4L598.3 643.1L602.2 643.7L603.0 642.9L604.3 644.0L608.0 644.9L609.7 643.2L611.7 644.7L613.8 645.4L616.3 646.8L616.5 647.2L618.5 650.8L619.7 651.9L619.3 654.7L620.9 655.6L620.8 658.5L621.3 659.2L622.0 662.0L621.8 662.8L623.4 665.3L620.8 665.9L618.8 666.0L617.1 666.4L615.1 667.7L613.7 666.3L611.8 664.7L610.7 664.0L608.7 661.5L606.6 663.0L604.6 661.3L603.2 661.1L599.4 662.3L597.2 661.5L595.4 663.1L593.9 665.5L592.2 664.9L590.1 665.6L587.6 667.5L585.7 666.9L583.7 667.2L581.5 667.9L579.4 668.6L577.5 667.8L575.1 668.9L574.6 699.9L575.3 702.3L574.3 705.6L574.3 708.2L576.0 709.5L578.9 710.2L578.9 713.1L580.6 715.0L583.8 715.6L583.9 717.6L587.0 717.7L589.1 720.0L590.0 720.2L593.5 722.7L594.8 724.8L594.9 725.5L597.6 728.4L599.6 730.7L599.4 732.3L600.0 734.3L599.8 736.8L599.1 737.4L600.3 739.8L600.8 741.8L602.5 745.1L604.9 745.8L605.6 748.2L605.5 749.0L606.7 752.2L608.1 753.9L608.1 755.9L608.8 759.1L609.7 761.3L605.2 795.1L600.2 830.1L594.0 865.1L587.7 895.1L586.3 897.4L587.4 899.6L585.2 901.6L586.2 902.5L584.1 906.1L585.0 908.4L583.0 909.9L583.7 912.4L582.0 913.2L582.4 916.1L580.9 919.2L581.2 920.5L579.9 923.0L578.9 921.0L577.4 919.6L576.8 917.7L575.8 916.0L572.7 914.7L571.5 913.3L569.9 912.7L567.8 909.6L566.5 907.7L566.0 906.4L563.9 904.3L563.5 903.5L560.7 902.1L559.4 903.5L558.3 903.8L556.0 903.9L552.8 903.0L550.8 901.1L549.5 900.1L545.9 900.0L545.9 899.5L542.7 899.1L540.5 897.2L538.9 897.6L575.7 841.8L574.3 840.6L572.7 839.7L571.1 838.2L568.2 837.5L566.9 836.3L565.0 835.2L562.0 834.8L561.2 833.3L558.9 832.1L557.1 831.6L555.0 829.9L553.0 829.6L551.9 828.0L548.2 827.4L548.1 826.6L544.6 826.0L543.3 824.0L541.8 823.5L539.4 821.6L537.1 821.0L536.5 818.6L533.4 817.8L532.3 815.8L530.4 814.5L528.1 815.2L525.4 815.6L524.1 814.3L522.2 816.0L519.7 817.9L517.8 817.0L516.8 819.7L515.2 820.4L512.8 820.0L510.4 822.6L508.2 823.8L506.4 823.1L504.9 825.0L503.3 823.9L502.4 823.7L499.3 821.3L499.5 818.8L497.4 818.4L494.5 815.8L494.2 812.8L491.4 813.4L489.3 813.7L487.2 812.2L486.1 812.1L483.8 813.7L481.3 814.8L478.9 816.6L477.0 817.4L475.8 818.1L474.3 819.3L472.3 819.9L469.9 820.6L467.6 820.9L465.8 822.8L464.1 824.1L462.4 825.0L460.4 826.3L458.3 827.5L455.6 827.2L452.1 827.2L450.3 827.0L447.6 825.3L447.0 825.4L443.1 823.9L443.0 823.8L439.7 822.6L437.4 822.7L435.9 825.5L434.7 825.0L433.0 825.7L430.9 826.7L428.1 826.3L426.5 826.2L425.3 826.4L422.5 826.4L421.1 825.8L418.2 824.4L417.7 822.7L414.5 821.8L414.7 818.9L412.7 818.0L410.4 817.2L410.6 815.1L410.2 812.4L411.8 811.1L411.5 809.4L413.0 806.0L411.4 803.1L410.7 801.9L411.2 799.7L410.3 796.9L409.8 795.8L408.7 793.2L406.7 792.6L405.0 790.6L402.5 791.5L401.9 790.8L399.0 791.0L396.2 789.4L396.0 790.5L393.9 787.7L393.4 786.3L392.1 783.4L390.3 782.7L391.4 779.7L390.8 778.0L391.3 776.9L390.7 774.3L389.5 773.4L389.8 770.2L387.9 768.8L385.7 766.2L385.0 765.5L382.9 763.7L381.8 763.5L378.1 761.7L378.1 762.2L374.5 760.6L374.1 760.0L371.2 758.2L370.5 757.0L368.2 757.0L366.8 755.0L365.1 754.5L363.0 753.3L361.5 753.0L358.5 751.2L357.3 752.1L355.6 751.2L353.6 749.8L350.7 747.1L349.8 746.7L350.3 743.2L348.6 741.4L348.9 740.0L348.6 737.4L347.7 735.6L348.1 733.9L347.3 730.8L346.2 729.6L344.6 727.0L343.0 726.4L340.6 724.2L340.1 723.2L336.5 722.6L336.7 720.8L333.4 720.4L331.9 717.3L329.8 716.0L328.8 715.3L327.7 713.6L326.9 710.7L324.0 709.7L323.8 708.7L320.8 707.7L318.8 706.6L317.8 705.7L314.1 704.4L313.2 704.2L310.6 702.8L308.7 703.5L305.0 702.5L304.6 701.4L302.7 703.2L300.7 703.1L298.5 703.8L294.5 703.8L294.4 701.8L291.0 701.7L289.6 699.9L287.8 699.9L288.3 699.7L284.4 697.5L284.1 697.3L281.0 696.2L279.1 695.7L276.3 696.1L275.8 694.6L271.8 694.8L271.9 692.7L268.3 692.0L268.4 690.3L265.5 688.0L264.4 687.6L262.8 685.7L260.5 685.0L260.4 684.4L257.7 681.4L256.3 679.5L256.0 679.6L252.7 677.5L250.3 677.4L249.1 675.2L246.1 674.8L243.6 676.6L241.2 676.0L239.0 677.0L239.4 680.0L238.2 681.4L235.5 684.7L235.3 685.7L234.2 688.1L231.9 687.7L228.6 686.2L227.7 686.0L225.2 684.1L223.2 686.0L221.0 685.5L219.0 685.6L217.1 686.6L215.0 686.1L212.9 685.2L211.9 683.7L208.6 683.2L208.6 681.4L204.6 681.2L204.8 679.1L201.5 680.5L199.3 680.2L196.6 678.5L193.9 679.8L193.2 679.6L190.3 677.9L190.3 677.0L188.8 674.0L187.6 673.1L188.0 670.3L186.4 669.3L186.4 666.7L185.7 665.5L182.9 664.9L181.0 664.5L180.2 663.3L176.5 662.6L176.6 662.1L175.6 659.3L173.5 656.9L172.5 656.7L170.5 655.6L169.0 655.1L166.1 654.1L164.4 655.2L163.4 653.9L159.5 654.0L159.2 652.1L156.6 652.1L154.0 651.9L153.0 651.7L150.7 650.6L147.8 649.0L147.5 647.6L143.7 646.1L142.9 644.6L140.6 643.4L138.2 641.9L136.9 641.2L134.3 639.6L132.5 639.1L130.5 637.5L128.7 637.1L126.0 635.2L125.1 634.9L122.1 632.6L120.6 631.5L119.3 628.5L116.5 627.9L114.8 626.7L114.4 624.7L110.9 623.3L110.7 621.3L109.3 619.9L106.3 618.7L105.7 616.2L104.6 614.4L102.2 612.5L104.6 611.7L105.8 609.1L106.6 607.9L108.3 605.3L110.3 602.9L113.0 604.7L114.0 602.6L115.0 603.2L117.7 603.3L121.0 601.8L122.3 603.5L123.0 602.1L126.1 602.2L128.9 603.6L127.3 601.0L127.7 598.0L126.9 596.4L125.6 595.9L122.9 595.2L122.3 593.5L122.3 591.6L120.5 588.4L120.6 587.0L120.1 584.3L119.2 581.7L121.3 580.8L122.0 578.0L122.5 577.0L124.0 573.9L125.3 572.8L127.3 569.9L128.4 567.5L129.1 566.3L131.4 564.7L133.7 563.9L135.7 563.2L137.4 560.8L138.7 560.7L140.7 560.2L143.6 559.9L146.8 559.0L147.9 560.8L150.3 561.1L151.9 561.4L154.6 561.1L157.0 560.0L158.8 559.7L160.5 559.8L162.6 558.3L165.0 557.5L166.7 557.9L167.9 555.2L169.4 555.0L171.7 552.8L171.5 551.3L173.0 548.8L173.8 547.1L174.8 544.0L175.3 542.1L177.4 538.9L176.6 537.4L178.9 535.4L179.7 535.1L180.3 531.8L181.6 530.6L182.6 528.1L184.1 527.0L185.7 525.7L188.5 522.8L188.6 521.8L189.3 519.2L192.3 517.0L192.6 514.9L192.9 512.2L195.7 511.5L196.8 509.7L196.5 508.9L198.9 505.5L200.9 505.4L200.3 503.1L202.3 502.2L202.9 498.6L203.6 497.4L202.0 495.2L200.5 494.7L198.0 493.3L197.2 492.6L194.7 492.1L193.8 489.0L192.1 487.3L192.0 487.4L190.2 485.6L187.6 482.1L186.3 481.9L184.7 480.6L182.9 478.8L181.2 478.2L182.4 475.8L184.5 474.2L186.9 472.9L187.5 469.7L187.9 468.4L190.2 466.2L190.5 466.2L191.7 462.8L192.7 461.3L193.0 457.9L194.8 456.7L194.1 454.9L194.9 452.3L195.0 450.3L195.1 447.6L194.7 446.5L192.9 443.8L192.5 441.3L192.3 440.0L190.8 437.0L191.0 434.4L191.9 432.7L190.9 429.6L190.9 426.8L190.2 425.7L189.0 423.8L190.1 421.1L190.0 419.6L189.2 417.4L189.1 415.5L186.5 413.3L185.4 412.0L184.0 411.9L182.5 409.9L179.0 410.0L181.1 407.8L183.9 406.4L186.1 406.6L187.2 403.5L188.2 403.6L189.4 402.4L191.3 399.9L192.7 398.5L192.7 394.9L195.2 393.4L194.0 391.7L193.2 389.9L193.4 386.7L192.1 385.4L190.7 382.7L190.6 380.3L189.8 378.6L188.5 377.1L188.2 374.2L186.0 373.4L186.0 370.7L184.1 369.7L186.9 368.0L186.0 367.0L187.6 365.1L188.4 363.4L189.5 361.0L189.3 360.9L189.9 358.2L190.5 355.5L188.9 353.8L189.2 351.5L187.9 351.0L187.1 348.6L184.7 346.3L183.6 345.8L181.5 344.6L179.9 343.6L180.4 340.9L178.9 339.6L177.5 338.5L175.6 335.8L174.9 334.8L173.9 332.3L174.4 330.6L172.3 327.6L171.3 326.2L170.6 323.8L168.2 322.3L165.6 321.1L163.2 319.4L162.9 316.2L163.1 314.4L164.2 311.3L165.2 310.3L166.0 308.4L166.6 307.1L167.0 304.4L169.3 303.6L168.3 302.4L170.4 299.0L169.5 297.0L169.3 295.6L170.9 293.4L172.6 292.3L174.6 292.6L174.5 295.0L176.6 297.3L179.1 298.0L179.5 299.4L180.8 299.4L183.1 297.7L185.4 294.9L187.3 294.1L188.3 292.7L189.3 290.8L191.3 290.3L192.8 287.1L194.0 287.2L196.3 285.8L198.1 283.7L199.6 281.9L201.7 280.7L201.0 277.4L200.9 274.9L199.6 273.6L199.1 272.7L198.2 269.5L195.1 267.7L195.0 267.4L194.2 265.3L192.0 263.4L190.6 259.9L189.9 258.4L188.5 255.7L187.9 254.8L187.7 253.4L186.2 252.0L184.9 250.1L182.7 249.1L184.8 247.3L184.8 245.8L185.7 244.4L188.1 242.5L190.6 241.2L192.5 241.9L192.8 245.9L193.5 246.8L195.2 249.1L195.4 250.6L198.2 250.7L198.3 253.3L199.3 255.8L202.7 256.1L202.5 256.9L205.6 259.5L206.3 259.8L208.5 261.9L210.0 263.1L211.3 263.9L213.3 266.9L214.7 269.0L216.1 272.5L213.2 273.0L213.9 275.0L212.5 276.5L210.4 278.9L208.3 279.7L207.6 280.6L206.7 283.0L206.1 285.5L204.3 286.7L206.5 286.3L208.4 283.6L209.4 283.9L211.6 283.2L214.3 281.9L216.9 281.6L219.1 280.4L221.1 280.4L223.6 278.4L222.5 277.0L224.6 274.4L223.8 273.0L224.0 269.9L222.7 267.6L221.5 266.3L221.8 263.3L220.4 262.0L220.6 260.2L220.2 257.1L218.6 255.8L217.4 252.5L217.3 251.9L216.0 250.5L213.7 248.1L215.5 245.8L217.8 244.1L219.5 245.4L222.1 243.8L225.1 243.3L227.0 242.5L228.3 240.6L229.3 238.2L231.1 238.5L233.8 237.0L236.1 234.3L237.3 234.2L238.3 233.0L240.1 231.7Z" fill="#f0f0f0" stroke="none"/>
<g filter="url(#sh)" opacity="0.8"><path d="M190.6 241.2L192.5 241.9L192.8 245.9L193.5 246.8L195.2 249.1L195.4 250.6L198.2 250.7L198.3 253.3L199.3 255.8L202.7 256.1L202.5 256.9L205.6 259.5L206.3 259.8L208.5 261.9L210.0 263.1L211.3 263.9L213.3 266.9L214.7 269.0L216.1 272.5L213.2 273.0L213.9 275.0L212.5 276.5L210.4 278.9L208.3 279.7L207.6 280.6L206.7 283.0L206.1 285.5L204.3 286.7L205.6 288.0L208.0 289.6L208.4 292.7L209.8 293.3L213.3 294.8L213.6 296.4L216.2 298.3L217.8 301.1L221.0 301.2L220.8 303.2L223.5 305.4L225.6 306.7L226.0 308.7L229.1 308.9L229.4 309.8L232.1 311.7L233.4 313.2L235.1 315.6L234.8 317.6L235.7 319.1L236.0 322.3L234.2 324.8L232.1 326.8L229.9 327.5L228.0 326.3L225.7 328.2L223.3 328.5L221.3 329.3L219.1 329.9L219.0 333.0L218.4 335.1L217.3 336.0L216.6 338.8L214.3 340.4L213.8 341.8L213.5 342.9L214.4 346.1L214.6 348.8L215.5 349.6L216.5 351.1L216.3 353.3L217.7 355.1L218.9 358.2L219.4 360.5L220.1 362.5L221.8 365.5L222.6 366.7L223.0 369.2L225.1 369.7L225.1 371.4L226.7 372.5L228.4 373.5L230.0 373.7L232.1 374.0L234.3 375.2L236.7 374.0L237.8 374.7L240.0 375.0L243.3 373.7L245.3 375.0L246.0 374.0L249.5 376.9L249.5 377.0L250.2 378.7L251.6 380.6L251.8 381.6L255.2 385.0L255.6 386.1L255.5 387.3L257.2 389.8L256.9 391.7L258.1 393.8L259.1 397.0L258.0 399.0L258.4 400.0L258.8 402.5L258.8 405.0L258.5 406.8L258.1 407.8L256.0 410.6L255.4 412.2L254.3 415.1L253.8 416.7L252.9 418.2L254.1 420.9L255.4 424.0L255.5 425.1L255.9 428.1L257.8 430.6L257.7 432.3L257.4 435.5L256.4 436.9L255.3 438.8L254.8 439.1L252.5 442.1L251.4 443.3L249.9 446.3L248.6 448.5L248.0 449.9L245.6 452.7L243.8 452.7L243.5 454.8L242.3 456.7L240.3 459.1L239.6 459.9L238.4 461.5L238.2 463.2L235.9 466.0L234.9 466.3L235.3 468.2L235.0 471.0L234.3 473.6L237.3 475.3L238.0 476.7L238.2 478.5L236.3 480.1L234.7 482.2L234.0 482.4L232.6 484.0L230.2 485.8L227.9 485.7L225.6 486.6L223.3 488.7L221.9 487.8L219.8 487.1L218.8 484.8L216.0 485.2L214.8 483.4L212.5 483.7L209.4 482.0L207.3 480.8L206.2 480.7L202.9 478.5L202.4 478.4L199.3 476.7L197.3 477.2L194.3 476.1L193.6 474.8L192.1 472.1L189.1 471.7L187.5 469.7L187.9 468.4L190.2 466.2L190.5 466.2L191.7 462.8L192.7 461.3L193.0 457.9L194.8 456.7L194.1 454.9L194.9 452.3L195.0 450.3L195.1 447.6L194.7 446.5L192.9 443.8L192.5 441.3L192.3 440.0L190.8 437.0L191.0 434.4L191.9 432.7L190.9 429.6L190.9 426.8L190.2 425.7L189.0 423.8L190.1 421.1L190.0 419.6L189.2 417.4L189.1 415.5L186.5 413.3L185.4 412.0L184.0 411.9L182.5 409.9L179.0 410.0L181.1 407.8L183.9 406.4L186.1 406.6L187.2 403.5L188.2 403.6L189.4 402.4L191.3 399.9L192.7 398.5L192.7 394.9L195.2 393.4L194.0 391.7L193.2 389.9L193.4 386.7L192.1 385.4L190.7 382.7L190.6 380.3L189.8 378.6L188.5 377.1L188.2 374.2L186.0 373.4L186.0 370.7L184.1 369.7L186.9 368.0L186.0 367.0L187.6 365.1L188.4 363.4L189.5 361.0L189.3 360.9L189.9 358.2L190.5 355.5L188.9 353.8L189.2 351.5L187.9 351.0L187.1 348.6L184.7 346.3L183.6 345.8L181.5 344.6L179.9 343.6L180.4 340.9L178.9 339.6L177.5 338.5L175.6 335.8L174.9 334.8L173.9 332.3L174.4 330.6L172.3 327.6L171.3 326.2L170.6 323.8L168.2 322.3L165.6 321.1L163.2 319.4L162.9 316.2L163.1 314.4L164.2 311.3L165.2 310.3L166.0 308.4L166.6 307.1L167.0 304.4L169.3 303.6L168.3 302.4L170.4 299.0L169.5 297.0L169.3 295.6L170.9 293.4L172.6 292.3L174.6 292.6L174.5 295.0L176.6 297.3L179.1 298.0L179.5 299.4L180.8 299.4L183.1 297.7L185.4 294.9L187.3 294.1L188.3 292.7L189.3 290.8L191.3 290.3L192.8 287.1L194.0 287.2L196.3 285.8L198.1 283.7L199.6 281.9L201.7 280.7L201.0 277.4L200.9 274.9L199.6 273.6L199.1 272.7L198.2 269.5L195.1 267.7L195.0 267.4L194.2 265.3L192.0 263.4L190.6 259.9L189.9 258.4L188.5 255.7L187.9 254.8L187.7 253.4L186.2 252.0L184.9 250.1L182.7 249.1L184.8 247.3L184.8 245.8L185.7 244.4L188.1 242.5L190.0 240.9ZM204.3 286.7L206.5 286.3L208.4 283.6L209.4 283.9L211.6 283.2L214.3 281.9L216.9 281.6L219.1 280.4L221.1 280.4L223.6 278.4L222.5 277.0L224.6 274.4L223.8 273.0L224.0 269.9L222.7 267.6L221.5 266.3L221.8 263.3L220.4 262.0L220.6 260.2L220.2 257.1L218.6 255.8L217.4 252.5L217.3 251.9L216.0 250.5L213.7 248.1L215.5 245.8L217.8 244.1L219.5 245.4L222.1 243.8L225.1 243.3L227.0 242.5L228.3 240.6L229.3 238.2L231.1 238.5L233.8 237.0L236.1 234.3L237.3 234.2L238.3 233.0L240.2 231.4L240.1 233.1L241.7 234.8L241.5 235.7L244.5 238.9L245.9 240.7L245.7 241.0L248.0 243.2L249.1 244.7L250.4 246.5L251.5 248.9L250.8 251.4L250.9 252.5L251.0 255.5L249.1 256.8L248.1 260.2L248.3 261.7L245.6 264.1L245.3 264.2L244.3 266.8L242.5 268.5L242.6 271.9L240.9 273.2L240.2 276.4L239.8 277.5L238.8 278.8L238.6 281.9L238.0 283.8L237.4 286.1L237.3 288.2L236.7 289.3L236.4 292.1L236.9 293.8L238.3 295.8L237.4 299.3L238.9 300.7L240.2 303.0L240.3 305.5L240.1 307.6L240.8 310.2L242.1 310.3L245.4 309.7L248.1 310.4L248.6 310.0L250.5 309.9L254.1 310.4L256.1 309.8L257.8 310.0L260.4 311.0L261.8 309.5L264.2 310.3L267.9 311.2L269.6 309.3L270.9 308.8L271.5 307.1L273.2 305.4L275.5 304.3L277.8 301.9L279.8 299.9L281.6 299.9L283.2 299.2L284.9 296.6L286.0 294.7L287.8 292.1L288.0 290.7L289.3 289.3L292.2 286.6L294.4 285.2L295.8 284.4L297.2 282.3L299.0 279.9L301.2 278.3L303.4 277.0L305.0 274.6L307.3 274.3L309.6 274.0L311.8 273.4L313.5 272.3L315.4 271.5L317.7 272.5L320.1 270.2L321.6 269.2L323.6 269.5L326.4 269.1L328.8 269.6L329.8 271.1L332.1 273.0L333.2 273.3L334.9 275.6L337.7 276.4L337.6 277.7L338.8 279.9L340.2 282.9L340.3 284.2L340.8 287.2L342.5 289.2L342.9 290.7L341.2 293.9L339.8 295.2L338.5 297.2L337.9 297.7L337.3 300.8L336.9 302.9L337.0 304.2L338.9 307.2L339.7 308.5L341.1 308.3L344.3 309.8L345.4 307.8L346.7 305.5L347.5 304.6L347.4 306.6L348.8 309.3L349.3 309.9L347.6 312.5L348.3 314.9L346.7 317.0L347.5 320.2L346.7 322.2L348.3 324.2L349.4 327.3L349.5 328.4L351.2 328.2L353.2 330.1L355.2 328.6L356.5 327.7L357.6 326.9L359.7 324.2L362.4 324.1L364.4 323.4L365.4 320.3L366.7 320.3L368.9 319.7L371.1 317.6L371.1 318.9L372.9 321.1L372.6 323.0L373.0 324.7L372.4 328.1L372.0 331.1L369.9 332.6L368.2 333.4L366.6 334.1L365.8 336.2L364.5 337.2L362.1 338.6L359.6 339.2L358.1 340.9L356.8 343.0L354.8 342.5L352.6 344.7L351.4 346.9L350.8 346.4L349.4 348.4L346.9 350.1L346.1 352.6L345.4 352.7L345.1 355.5L344.6 358.4L344.1 359.4L345.2 360.8L343.0 363.5L341.7 365.7L341.2 367.9L339.3 370.7L337.6 371.8L337.0 374.9L336.6 375.7L335.9 377.9L335.5 380.8L335.9 382.9L335.4 384.2L334.4 386.4L335.4 388.8L333.1 390.9L334.4 394.4L332.7 394.1L330.1 395.5L327.8 397.1L325.0 395.5L323.1 397.0L321.1 398.0L319.0 398.8L316.9 399.9L314.9 401.3L312.4 401.9L311.1 403.1L310.1 404.7L308.4 404.8L306.6 406.7L305.2 409.5L304.6 409.1L302.2 411.2L299.9 412.5L299.4 410.9L299.2 408.9L296.6 406.9L294.1 403.7L293.7 403.5L291.3 401.8L290.7 401.4L287.7 400.5L287.6 399.2L284.2 399.2L284.4 397.2L281.9 400.7L283.3 402.4L280.7 403.7L278.4 404.0L276.4 406.1L274.5 407.4L272.7 407.2L270.7 408.2L267.9 407.8L266.1 408.1L262.9 407.5L262.0 407.4L258.8 405.0L258.8 402.5L258.4 400.0L258.0 399.0L259.1 397.0L258.1 393.8L256.9 391.7L257.2 389.8L255.5 387.3L255.6 386.1L255.2 385.0L251.8 381.6L251.6 380.6L250.2 378.7L249.5 377.0L249.5 376.9L246.0 374.0L245.3 375.0L243.3 373.7L240.0 375.0L237.8 374.7L236.7 374.0L234.3 375.2L232.1 374.0L230.0 373.7L228.4 373.5L226.7 372.5L225.1 371.4L225.1 369.7L223.0 369.2L222.6 366.7L221.8 365.5L220.1 362.5L219.4 360.5L218.9 358.2L217.7 355.1L216.3 353.3L216.5 351.1L215.5 349.6L214.6 348.8L214.4 346.1L213.5 342.9L213.8 341.8L214.3 340.4L216.6 338.8L217.3 336.0L218.4 335.1L219.0 333.0L219.1 329.9L221.3 329.3L223.3 328.5L225.7 328.2L228.0 326.3L229.9 327.5L232.1 326.8L234.2 324.8L236.0 322.3L235.7 319.1L234.8 317.6L235.1 315.6L233.4 313.2L232.1 311.7L229.4 309.8L229.1 308.9L226.0 308.7L225.6 306.7L223.5 305.4L220.8 303.2L221.0 301.2L217.8 301.1L216.2 298.3L213.6 296.4L213.3 294.8L209.8 293.3L208.4 292.7L208.0 289.6L205.6 288.0L205.0 286.7Z" transform="translate(14 14)" fill="#000" stroke="#000" stroke-width="15" stroke-linejoin="round"/></g>
<g fill="none" stroke="#111" stroke-width="2.8" stroke-linejoin="round" stroke-linecap="round">
<path d="M240.2 231.4L242.0 230.2L243.2 228.6L244.3 228.3L246.5 225.6L248.1 223.3L248.3 221.6L250.0 219.4L251.0 218.3L251.7 215.8L252.4 214.0L253.4 211.6L254.8 209.4L256.2 208.7L255.7 206.9L257.7 205.1L260.2 205.1L261.7 203.4L262.8 202.4L264.6 202.6L267.2 200.5L270.3 200.9L273.2 200.7L274.1 200.3L275.0 199.9L277.8 200.5L281.0 198.8L280.3 197.6L282.4 194.7L281.3 192.7L281.1 190.4L282.0 187.7L281.4 184.4L282.1 181.8L282.6 180.4L283.1 177.2L283.0 175.4L284.5 173.5L284.4 170.5L285.3 169.2L286.4 167.5L284.8 166.9L283.2 164.5L281.5 163.7L280.3 163.0L280.4 160.1L282.5 158.7L281.6 156.7L284.3 154.8L283.4 153.0L285.6 149.9L285.0 148.1L286.6 145.6L286.1 144.3L287.3 142.9L287.6 139.3L289.5 139.2L290.4 137.6L291.2 136.4L293.4 134.6L296.1 133.5L297.7 133.0L298.1 129.9L299.3 128.4L301.6 127.8L303.4 126.3L304.6 125.3L306.8 123.1L308.9 121.0L310.7 120.5L312.5 119.8L314.5 117.5L316.2 115.6L317.6 115.4L319.2 114.1L321.6 112.6L323.3 110.8L324.4 111.3L327.0 113.2L330.2 113.5L332.3 115.0L333.7 115.8L336.2 115.4L338.8 116.1L341.4 116.4L341.9 117.0L345.2 117.2L347.9 116.9L349.8 115.8L352.3 117.0L352.3 113.4L353.1 112.6L353.4 111.7L353.8 108.1L354.5 106.3L355.1 105.0L355.7 102.6L356.4 101.4L358.4 99.0L360.8 100.0L362.1 98.3L363.0 98.1L366.2 99.5L368.4 98.8L371.3 99.3L372.0 101.0L375.3 101.2L377.8 101.8L379.3 101.2L381.6 101.6L383.3 102.2L385.6 101.3L389.0 102.1L390.1 102.6L391.4 101.6L394.5 101.7L397.3 101.6L399.2 102.3L402.0 100.3L404.8 101.8L405.8 100.2L406.7 97.3L408.3 96.5L410.7 96.1L413.2 93.9L414.8 92.4L416.0 91.2L417.9 90.0L420.0 89.4L421.3 86.9L421.9 86.1L423.6 86.1L425.6 83.9L427.9 81.4L430.3 81.2L432.7 81.1L434.7 78.8L436.5 78.0L438.4 78.8L440.5 76.6L443.0 76.1L445.7 75.8L448.2 74.6L450.4 73.7L452.3 72.6L453.9 71.9L455.4 71.4L457.1 69.6L459.3 68.3L460.2 65.1L461.7 63.4L462.1 61.4L462.2 61.1L464.1 57.9L462.9 55.5L464.2 55.0L463.8 52.8L464.0 50.8L466.4 50.3L467.9 48.3L469.2 49.7L471.0 47.5L473.3 46.3L475.6 46.4L477.9 45.4L480.2 43.4L482.2 42.3L483.5 42.4L485.1 39.7L487.5 38.8L490.0 39.1L490.3 38.1L492.8 38.8L495.4 38.6L496.7 39.8L498.9 40.8L500.9 40.5L504.4 41.8L505.0 41.4L507.9 42.6L510.4 44.2L510.9 45.8L512.7 48.0L513.9 48.3L515.3 51.4L517.1 53.5L516.8 54.2L519.0 55.7L521.0 57.5L518.8 60.5L518.8 61.5L517.8 63.4L515.6 64.2L514.1 66.6L512.9 66.0L511.1 67.3L508.7 69.7L506.2 70.2L503.7 70.2L501.4 72.4L499.4 74.9L498.4 73.6L496.9 74.7L494.5 75.2L491.3 76.1L488.5 75.3L486.7 77.0L485.5 77.4L483.6 77.0L481.4 78.8L479.1 80.0L476.6 80.4L474.1 81.4L473.0 84.1L471.6 85.2L471.4 87.3L469.5 88.4L469.0 91.3L468.2 93.1L466.4 96.0L466.1 96.6L464.7 98.7L463.5 99.8L462.9 103.1L461.9 104.4L460.8 106.7L460.2 107.1L456.9 108.9L455.4 108.2L453.2 107.9L451.5 108.5L449.6 110.5L447.5 112.6L444.6 113.9L444.3 116.1L443.9 116.4L441.7 119.3L441.4 121.0L440.2 123.1L439.1 123.9L438.0 126.0L437.1 127.9L436.1 130.8L434.7 132.2L434.2 133.8L432.8 135.0L431.5 137.5L431.3 139.7L429.3 141.9L428.7 143.1L428.2 144.6L425.7 145.9L424.2 148.3L423.4 150.5L423.4 154.1L423.2 156.3L423.0 157.0L422.3 159.4L423.2 163.0L421.5 164.8L422.3 165.5L422.2 168.1L421.0 171.5L421.8 172.8L421.2 173.6L420.6 176.8L420.7 179.6L420.8 180.1L419.3 181.7L419.1 185.0L418.7 186.3L416.2 188.5L416.1 188.8L415.0 191.7L413.4 193.3L412.7 196.0L411.5 196.6L409.9 198.6L409.1 200.2L407.9 202.3L405.9 205.2L405.2 206.4L404.3 208.5L403.1 209.0L402.0 211.9L401.2 213.7L400.6 215.3L402.0 215.1L403.3 212.7L405.0 213.4L407.5 212.2L410.3 211.0L412.8 210.6L415.2 209.5L417.5 208.7L419.6 207.8L418.8 208.6L419.9 211.4L420.0 213.0L420.0 214.9L421.4 217.6L423.2 217.4L426.1 218.7L429.6 216.9L429.6 219.9L430.1 221.4L431.7 224.0L431.5 225.8L432.3 227.9L433.7 230.3L433.4 231.8L434.5 234.6L435.7 235.7L435.4 238.7L437.2 239.2L438.7 241.0L439.5 242.7L441.6 244.0L441.8 247.3L442.0 248.4L443.9 250.8L445.4 251.6L447.0 252.8L447.9 254.5L449.7 255.6L451.6 257.4L451.6 259.4L452.6 261.3L453.2 262.5L453.2 265.3L455.0 266.7L454.9 268.4L454.5 271.7L455.2 273.9L453.7 273.9L452.1 276.6L450.0 278.3L447.5 278.2L448.5 280.4L446.7 283.8L447.6 286.4L447.9 287.4L447.5 289.0L447.8 292.3L446.9 294.9L448.6 296.3L448.7 299.0L448.8 300.6L448.9 301.5L449.0 304.6L451.1 305.7L451.6 308.7L453.5 307.5L454.8 308.9L458.7 309.7L460.3 309.5L463.0 310.1L462.5 312.9L463.8 314.4L464.1 316.5L464.1 318.9L465.6 320.2L465.7 322.9L466.9 323.8L468.4 326.2L468.4 327.3L471.3 329.1L473.2 329.4L476.5 328.3L478.9 329.7L480.4 327.6L482.3 328.1L484.5 328.6L486.7 327.1L488.6 328.8L490.5 328.0L492.5 327.3L494.4 329.3L497.2 327.8L499.1 328.1L500.0 329.4L503.1 328.1L506.1 328.8L506.1 329.2L509.1 330.0L511.8 329.9L512.4 329.2L515.2 331.1L517.7 329.6L519.6 329.6L521.1 329.3L522.8 328.7L525.1 327.2L527.8 328.6L530.4 326.3L532.1 326.8L533.0 326.1L534.5 325.8L537.2 324.4L540.7 326.1L541.7 325.6L544.1 325.8L545.9 326.3L549.5 327.0L549.7 328.8L552.7 330.1L554.7 330.8L556.4 330.9L558.4 332.9L561.4 331.9L561.8 332.4L564.1 333.0L567.7 331.7L570.0 332.3L571.4 332.1L606.4 376.3L608.2 376.8L610.3 374.4L612.7 375.7L614.2 376.2L616.1 378.0L617.6 378.0L618.1 377.6L620.4 375.8L623.0 375.0L624.1 372.5L624.7 370.6L627.8 371.9L629.4 371.6L631.3 371.5L633.4 371.9L635.2 372.0L638.2 372.3L639.6 371.7L641.1 373.1L644.9 374.3L645.4 374.0L648.1 374.9L650.1 374.0L652.3 375.3L654.4 374.2L656.4 373.9L658.5 372.9L660.5 374.0L662.7 371.6L664.9 373.0L667.0 372.1L668.6 371.8L670.6 371.8L673.4 371.7L675.8 371.1L677.0 371.0L678.5 371.6L681.5 369.7L684.5 371.4L685.9 370.0L686.7 369.7L689.4 368.5L691.5 366.5L693.9 366.5L695.9 366.7L698.4 366.8L699.3 367.1L703.1 368.9L704.6 368.7L707.1 369.5L708.4 370.4L712.3 370.3L712.7 373.5L712.2 375.8L713.2 377.5L713.4 380.9L712.9 383.2L712.5 383.1L711.9 385.8L709.6 387.2L707.3 389.0L706.2 390.1L705.8 391.3L704.4 394.1L703.7 396.3L702.7 397.6L702.3 399.5L703.5 402.8L704.6 405.0L703.7 406.1L703.0 407.7L701.5 410.1L700.6 411.0L698.5 412.0L696.2 414.5L694.3 415.3L693.0 416.0L691.9 417.6L690.9 420.4L691.9 421.7L691.5 422.9L693.0 425.9L692.9 427.9L692.2 429.9L692.9 433.2L692.2 434.4L694.0 436.2L693.9 438.5L694.4 439.1L693.1 441.9L693.6 445.2L693.5 446.0L692.4 447.2L693.0 450.6L692.2 453.0L691.4 453.2L691.8 455.8L689.9 458.9L691.2 460.0L691.6 461.3L691.9 464.1L693.4 466.0L693.3 468.2L694.3 469.5L695.2 472.1L694.3 473.1L695.0 475.1L694.0 478.4L695.3 480.0L696.1 482.5L696.1 484.7L697.7 486.1L697.4 489.1L698.1 490.0L699.5 493.0L699.3 493.7L700.9 496.4L701.4 497.0L701.4 499.7L703.0 500.3L704.5 502.1L706.4 502.3L708.4 503.9L710.1 504.4L711.8 506.5L712.7 508.8L714.2 510.7L715.0 513.5L715.4 513.8L717.8 516.2L719.5 517.5L719.5 520.0L718.6 522.1L717.1 523.6L717.1 526.5L714.7 527.7L712.6 530.8L711.5 532.2L710.7 532.9L709.1 534.7L706.9 535.5L704.9 537.7L703.2 540.1L701.7 540.3L700.1 541.3L698.3 543.7L696.5 545.1L695.2 546.6L694.0 547.4L691.5 548.3L689.1 551.1L692.7 550.0L694.4 551.1L695.5 550.7L698.8 552.4L700.0 553.1L702.1 554.5L702.9 554.7L704.7 556.8L706.6 559.7L707.1 560.0L709.6 561.0L711.6 563.1L713.7 564.4L714.3 567.4L717.9 567.7L717.3 568.4L720.6 570.1L721.2 570.4L722.1 572.9L724.4 575.0L725.2 576.0L726.8 577.6L727.5 579.8L727.3 582.9L727.7 586.1L729.2 587.2L729.0 589.9L730.4 591.4L731.5 593.6L731.4 595.5L732.9 597.1L734.1 599.7L734.0 600.7L735.3 603.6L736.6 604.5L736.5 607.6L737.4 609.1L738.6 611.3L738.1 614.3L738.8 615.5L739.6 618.6L739.0 620.8L739.8 622.4L740.3 625.7L740.1 627.2L742.0 628.9L741.9 631.5L742.2 632.4L742.6 634.6L740.5 636.4L738.1 636.2L735.6 636.9L733.3 637.0L731.2 639.0L730.3 635.8L731.6 634.1L730.9 631.6L730.9 628.6L730.4 627.6L728.8 625.5L729.3 623.2L728.5 622.3L728.3 619.4L729.0 617.7L727.8 616.0L727.7 612.9L727.4 611.9L725.8 608.9L725.8 607.2L725.2 605.3L723.6 602.4L723.6 601.6L722.9 598.6L720.8 597.2L720.0 594.0L719.1 592.5L716.9 591.3L715.7 589.2L714.0 586.8L712.3 589.1L710.8 588.2L708.5 589.7L705.6 590.1L704.9 591.1L704.1 594.0L702.1 596.1L699.9 597.0L698.8 599.2L698.0 599.5L696.4 601.9L693.8 604.2L692.1 604.4L692.0 606.3L688.8 607.5L686.5 606.6L684.8 607.0L681.3 606.6L681.3 605.0L679.6 601.9L676.7 601.2L677.1 600.4L675.8 598.0L675.4 597.2L674.7 594.5L672.4 596.0L670.0 597.0L670.8 600.6L668.7 602.2L670.5 602.9L670.8 606.1L673.0 607.5L674.7 608.8L610.1 608.8L608.1 607.3L607.2 606.1L604.7 605.8L603.1 605.5L600.8 605.7L599.3 605.3L597.1 605.6L594.9 605.9L593.3 607.8L591.6 606.4L589.2 608.9L586.4 608.6L585.1 609.3L585.1 643.9L588.1 643.9L588.9 643.1L590.2 643.1L593.0 643.4L596.0 641.7L596.9 643.4L598.3 643.1L602.2 643.7L603.0 642.9L604.3 644.0L608.0 644.9L609.7 643.2L611.7 644.7L613.8 645.4L616.3 646.8L616.5 647.2L618.5 650.8L619.7 651.9L619.3 654.7L620.9 655.6L620.8 658.5L621.3 659.2L622.0 662.0L621.8 662.8L623.4 665.3L620.8 665.9L618.8 666.0L617.1 666.4L615.1 667.7L613.7 666.3L611.8 664.7L610.7 664.0L608.7 661.5L606.6 663.0L604.6 661.3L603.2 661.1L599.4 662.3L597.2 661.5L595.4 663.1L593.9 665.5L592.2 664.9L590.1 665.6L587.6 667.5L585.7 666.9L583.7 667.2L581.5 667.9L579.4 668.6L577.5 667.8L575.1 668.9L574.6 699.9L575.3 702.3L574.3 705.6L574.3 708.2L576.0 709.5L578.9 710.2L578.9 713.1L580.6 715.0L583.8 715.6L583.9 717.6L587.0 717.7L589.1 720.0L590.0 720.2L593.5 722.7L594.8 724.8L594.9 725.5L597.6 728.4L599.6 730.7L599.4 732.3L600.0 734.3L599.8 736.8L599.1 737.4L600.3 739.8L600.8 741.8L602.5 745.1L604.9 745.8L605.6 748.2L605.5 749.0L606.7 752.2L608.1 753.9L608.1 755.9L608.8 759.1L609.7 761.3L605.2 795.1L600.2 830.1L594.0 865.1L587.7 895.1L586.3 897.4L587.4 899.6L585.2 901.6L586.2 902.5L584.1 906.1L585.0 908.4L583.0 909.9L583.7 912.4L582.0 913.2L582.4 916.1L580.9 919.2L581.2 920.5L579.9 923.0L578.9 921.0L577.4 919.6L576.8 917.7L575.8 916.0L572.7 914.7L571.5 913.3L569.9 912.7L567.8 909.6L566.5 907.7L566.0 906.4L563.9 904.3L563.5 903.5L560.7 902.1L559.4 903.5L558.3 903.8L556.0 903.9L552.8 903.0L550.8 901.1L549.5 900.1L545.9 900.0L545.9 899.5L542.7 899.1L540.5 897.2L538.9 897.6L575.7 841.8L574.3 840.6L572.7 839.7L571.1 838.2L568.2 837.5L566.9 836.3L565.0 835.2L562.0 834.8L561.2 833.3L558.9 832.1L557.1 831.6L555.0 829.9L553.0 829.6L551.9 828.0L548.2 827.4L548.1 826.6L544.6 826.0L543.3 824.0L541.8 823.5L539.4 821.6L537.1 821.0L536.5 818.6L533.4 817.8L532.3 815.8L530.4 814.5L528.1 815.2L525.4 815.6L524.1 814.3L522.2 816.0L519.7 817.9L517.8 817.0L516.8 819.7L515.2 820.4L512.8 820.0L510.4 822.6L508.2 823.8L506.4 823.1L504.9 825.0L503.3 823.9L502.4 823.7L499.3 821.3L499.5 818.8L497.4 818.4L494.5 815.8L494.2 812.8L491.4 813.4L489.3 813.7L487.2 812.2L486.1 812.1L483.8 813.7L481.3 814.8L478.9 816.6L477.0 817.4L475.8 818.1L474.3 819.3L472.3 819.9L469.9 820.6L467.6 820.9L465.8 822.8L464.1 824.1L462.4 825.0L460.4 826.3L458.3 827.5L455.6 827.2L452.1 827.2L450.3 827.0L447.6 825.3L447.0 825.4L443.1 823.9L443.0 823.8L439.7 822.6L437.4 822.7L435.9 825.5L434.7 825.0L433.0 825.7L430.9 826.7L428.1 826.3L426.5 826.2L425.3 826.4L422.5 826.4L421.1 825.8L418.2 824.4L417.7 822.7L414.5 821.8L414.7 818.9L412.7 818.0L410.4 817.2L410.6 815.1L410.2 812.4L411.8 811.1L411.5 809.4L413.0 806.0L411.4 803.1L410.7 801.9L411.2 799.7L410.3 796.9L409.8 795.8L408.7 793.2L406.7 792.6L405.0 790.6L402.5 791.5L401.9 790.8L399.0 791.0L396.2 789.4L396.0 790.5L393.9 787.7L393.4 786.3L392.1 783.4L390.3 782.7L391.4 779.7L390.8 778.0L391.3 776.9L390.7 774.3L389.5 773.4L389.8 770.2L387.9 768.8L385.7 766.2L385.0 765.5L382.9 763.7L381.8 763.5L378.1 761.7L378.1 762.2L374.5 760.6L374.1 760.0L371.2 758.2L370.5 757.0L368.2 757.0L366.8 755.0L365.1 754.5L363.0 753.3L361.5 753.0L358.5 751.2L357.3 752.1L355.6 751.2L353.6 749.8L350.7 747.1L349.8 746.7L350.3 743.2L348.6 741.4L348.9 740.0L348.6 737.4L347.7 735.6L348.1 733.9L347.3 730.8L346.2 729.6L344.6 727.0L343.0 726.4L340.6 724.2L340.1 723.2L336.5 722.6L336.7 720.8L333.4 720.4L331.9 717.3L329.8 716.0L328.8 715.3L327.7 713.6L326.9 710.7L324.0 709.7L323.8 708.7L320.8 707.7L318.8 706.6L317.8 705.7L314.1 704.4L313.2 704.2L310.6 702.8L308.7 703.5L305.0 702.5L304.6 701.4L302.7 703.2L300.7 703.1L298.5 703.8L294.5 703.8L294.4 701.8L291.0 701.7L289.6 699.9L287.8 699.9L288.3 699.7L284.4 697.5L284.1 697.3L281.0 696.2L279.1 695.7L276.3 696.1L275.8 694.6L271.8 694.8L271.9 692.7L268.3 692.0L268.4 690.3L265.5 688.0L264.4 687.6L262.8 685.7L260.5 685.0L260.4 684.4L257.7 681.4L256.3 679.5L256.0 679.6L252.7 677.5L250.3 677.4L249.1 675.2L246.1 674.8L243.6 676.6L241.2 676.0L239.0 677.0L239.4 680.0L238.2 681.4L235.5 684.7L235.3 685.7L234.2 688.1L231.9 687.7L228.6 686.2L227.7 686.0L225.2 684.1L223.2 686.0L221.0 685.5L219.0 685.6L217.1 686.6L215.0 686.1L212.9 685.2L211.9 683.7L208.6 683.2L208.6 681.4L204.6 681.2L204.8 679.1L201.5 680.5L199.3 680.2L196.6 678.5L193.9 679.8L193.2 679.6L190.3 677.9L190.3 677.0L188.8 674.0L187.6 673.1L188.0 670.3L186.4 669.3L186.4 666.7L185.7 665.5L182.9 664.9L181.0 664.5L180.2 663.3L176.5 662.6L176.6 662.1L175.6 659.3L173.5 656.9L172.5 656.7L170.5 655.6L169.0 655.1L166.1 654.1L164.4 655.2L163.4 653.9L159.5 654.0L159.2 652.1L156.6 652.1L154.0 651.9L153.0 651.7L150.7 650.6L147.8 649.0L147.5 647.6L143.7 646.1L142.9 644.6L140.6 643.4L138.2 641.9L136.9 641.2L134.3 639.6L132.5 639.1L130.5 637.5L128.7 637.1L126.0 635.2L125.1 634.9L122.1 632.6L120.6 631.5L119.3 628.5L116.5 627.9L114.8 626.7L114.4 624.7L110.9 623.3L110.7 621.3L109.3 619.9L106.3 618.7L105.7 616.2L104.6 614.4L102.2 612.5L104.6 611.7L105.8 609.1L106.6 607.9L108.3 605.3L110.3 602.9L113.0 604.7L114.0 602.6L115.0 603.2L117.7 603.3L121.0 601.8L122.3 603.5L123.0 602.1L126.1 602.2L128.9 603.6L127.3 601.0L127.7 598.0L126.9 596.4L125.6 595.9L122.9 595.2L122.3 593.5L122.3 591.6L120.5 588.4L120.6 587.0L120.1 584.3L119.2 581.7L121.3 580.8L122.0 578.0L122.5 577.0L124.0 573.9L125.3 572.8L127.3 569.9L128.4 567.5L129.1 566.3L131.4 564.7L133.7 563.9L135.7 563.2L137.4 560.8L138.7 560.7L140.7 560.2L143.6 559.9L146.8 559.0L147.9 560.8L150.3 561.1L151.9 561.4L154.6 561.1L157.0 560.0L158.8 559.7L160.5 559.8L162.6 558.3L165.0 557.5L166.7 557.9L167.9 555.2L169.4 555.0L171.7 552.8L171.5 551.3L173.0 548.8L173.8 547.1L174.8 544.0L175.3 542.1L177.4 538.9L176.6 537.4L178.9 535.4L179.7 535.1L180.3 531.8L181.6 530.6L182.6 528.1L184.1 527.0L185.7 525.7L188.5 522.8L188.6 521.8L189.3 519.2L192.3 517.0L192.6 514.9L192.9 512.2L195.7 511.5L196.8 509.7L196.5 508.9L198.9 505.5L200.9 505.4L200.3 503.1L202.3 502.2L202.9 498.6L203.6 497.4L202.0 495.2L200.5 494.7L198.0 493.3L197.2 492.6L194.7 492.1L193.8 489.0L192.1 487.3L192.0 487.4L190.2 485.6L187.6 482.1L186.3 481.9L184.7 480.6L182.9 478.8L181.2 478.2L182.4 475.8L184.5 474.2L186.9 472.9L187.5 469.7L187.9 468.4L190.2 466.2L190.5 466.2L191.7 462.8L192.7 461.3L193.0 457.9L194.8 456.7L194.1 454.9L194.9 452.3L195.0 450.3L195.1 447.6L194.7 446.5L192.9 443.8L192.5 441.3L192.3 440.0L190.8 437.0L191.0 434.4L191.9 432.7L190.9 429.6L190.9 426.8L190.2 425.7L189.0 423.8L190.1 421.1L190.0 419.6L189.2 417.4L189.1 415.5L186.5 413.3L185.4 412.0L184.0 411.9L182.5 409.9L179.0 410.0L181.1 407.8L183.9 406.4L186.1 406.6L187.2 403.5L188.2 403.6L189.4 402.4L191.3 399.9L192.7 398.5L192.7 394.9L195.2 393.4L194.0 391.7L193.2 389.9L193.4 386.7L192.1 385.4L190.7 382.7L190.6 380.3L189.8 378.6L188.5 377.1L188.2 374.2L186.0 373.4L186.0 370.7L184.1 369.7L186.9 368.0L186.0 367.0L187.6 365.1L188.4 363.4L189.5 361.0L189.3 360.9L189.9 358.2L190.5 355.5L188.9 353.8L189.2 351.5L187.9 351.0L187.1 348.6L184.7 346.3L183.6 345.8L181.5 344.6L179.9 343.6L180.4 340.9L178.9 339.6L177.5 338.5L175.6 335.8L174.9 334.8L173.9 332.3L174.4 330.6L172.3 327.6L171.3 326.2L170.6 323.8L168.2 322.3L165.6 321.1L163.2 319.4L162.9 316.2L163.1 314.4L164.2 311.3L165.2 310.3L166.0 308.4L166.6 307.1L167.0 304.4L169.3 303.6L168.3 302.4L170.4 299.0L169.5 297.0L169.3 295.6L170.9 293.4L172.6 292.3L174.6 292.6L174.5 295.0L176.6 297.3L179.1 298.0L179.5 299.4L180.8 299.4L183.1 297.7L185.4 294.9L187.3 294.1L188.3 292.7L189.3 290.8L191.3 290.3L192.8 287.1L194.0 287.2L196.3 285.8L198.1 283.7L199.6 281.9L201.7 280.7L201.0 277.4L200.9 274.9L199.6 273.6L199.1 272.7L198.2 269.5L195.1 267.7L195.0 267.4L194.2 265.3L192.0 263.4L190.6 259.9L189.9 258.4L188.5 255.7L187.9 254.8L187.7 253.4L186.2 252.0L184.9 250.1L182.7 249.1L184.8 247.3L184.8 245.8L185.7 244.4L188.1 242.5L190.6 241.2L192.5 241.9L192.8 245.9L193.5 246.8L195.2 249.1L195.4 250.6L198.2 250.7L198.3 253.3L199.3 255.8L202.7 256.1L202.5 256.9L205.6 259.5L206.3 259.8L208.5 261.9L210.0 263.1L211.3 263.9L213.3 266.9L214.7 269.0L216.1 272.5L213.2 273.0L213.9 275.0L212.5 276.5L210.4 278.9L208.3 279.7L207.6 280.6L206.7 283.0L206.1 285.5L204.3 286.7L206.5 286.3L208.4 283.6L209.4 283.9L211.6 283.2L214.3 281.9L216.9 281.6L219.1 280.4L221.1 280.4L223.6 278.4L222.5 277.0L224.6 274.4L223.8 273.0L224.0 269.9L222.7 267.6L221.5 266.3L221.8 263.3L220.4 262.0L220.6 260.2L220.2 257.1L218.6 255.8L217.4 252.5L217.3 251.9L216.0 250.5L213.7 248.1L215.5 245.8L217.8 244.1L219.5 245.4L222.1 243.8L225.1 243.3L227.0 242.5L228.3 240.6L229.3 238.2L231.1 238.5L233.8 237.0L236.1 234.3L237.3 234.2L238.3 233.0L240.1 231.7Z"/>
<path d="M301.3 128.3L300.7 130.5L300.9 133.1L299.4 134.1L300.6 136.8L300.7 140.4L300.3 143.6L303.0 143.9L302.9 145.0L304.8 148.4L307.3 148.9L308.7 150.9L310.5 151.7L313.2 152.6L313.6 153.9L317.2 154.5L317.4 156.0L320.8 156.3L320.6 154.5L322.0 151.2L322.9 149.7L324.0 146.6L324.4 146.1L325.8 143.5L326.2 142.5L327.3 139.0L328.1 137.3L328.4 135.8L329.3 133.6L328.5 131.7L330.7 129.5L329.0 127.2L329.3 125.2L328.6 122.1L327.3 120.9L327.6 118.1L326.2 117.2L324.5 115.0L324.4 114.1L322.6 111.3"/>
<path d="M336.0 116.4L337.1 118.5L335.0 120.5L336.4 122.6L336.1 123.6L337.5 125.9L337.6 127.7L337.9 129.4L339.3 131.0L341.9 129.6L343.9 129.9L346.2 130.6L347.2 128.2L348.2 126.9L348.3 123.6L350.1 122.5L350.2 120.9L351.2 118.7L352.1 116.3"/>
<path d="M320.8 156.3L318.7 159.1L319.6 161.3L317.4 162.1L318.4 165.1L318.3 166.4L321.3 168.9L322.8 170.4L322.5 173.0L322.9 173.5L321.2 175.3L322.9 178.8L322.1 180.6L323.0 182.5L323.8 185.0L323.4 186.1L324.8 189.2L324.9 190.1L324.4 192.5L325.9 194.8L325.9 195.7L326.7 198.3L328.0 200.1L329.8 200.7L331.5 202.0L333.6 204.2L334.6 204.8L337.6 207.4L337.6 207.9L341.3 209.2L341.3 210.4L344.4 210.5L345.1 212.5L347.8 212.4L348.7 214.2L351.2 214.7L352.3 215.8L354.8 216.9L356.2 217.5L358.2 218.9L360.4 219.3L361.4 220.8L365.0 221.5L365.3 222.7L368.4 223.7L370.2 224.2L372.5 223.4L375.4 222.9L374.7 224.6L375.5 227.2L375.4 229.2L376.3 231.0L377.4 234.0L376.8 237.1L376.7 238.8L377.8 241.3L378.0 244.4L378.1 246.0L379.8 247.4L380.1 250.1L379.1 252.6L379.7 254.4L380.2 257.4L379.6 259.9L379.6 262.0L379.4 264.8L379.3 267.0L377.8 267.4L376.1 270.2L375.2 272.2L374.3 274.6L375.6 275.2L373.5 277.3L374.7 280.8L375.0 281.9L375.4 284.7L376.8 286.6L376.3 288.3L377.3 291.1L375.9 291.8L376.5 293.3L376.6 296.9L375.1 299.3L375.6 299.8L374.0 302.6L373.3 303.8L373.1 307.2L371.9 309.6L371.7 310.4L371.4 312.7L370.8 315.2L370.8 317.6L371.3 319.0L372.2 321.0L370.6 324.5L371.2 327.2L371.7 328.4"/>
<path d="M288.6 166.9L288.6 168.3L289.3 170.7L290.9 171.5L291.0 174.4L291.7 175.6L295.1 177.8L294.8 179.9L297.5 180.1L296.6 183.2L297.1 185.6L298.5 187.4L298.6 187.8L302.0 189.1L302.7 189.8L305.3 190.8L307.0 191.8L308.4 192.6L311.3 193.9L311.8 194.3L315.2 197.1L315.6 198.6L316.9 200.0L316.4 199.2L317.5 202.0L317.2 203.1L318.7 206.2L319.6 207.6L319.4 210.1L320.7 212.0L322.5 214.8L323.2 217.0L325.1 218.9L326.7 219.5L329.0 221.6L329.4 223.4L332.0 225.1L334.2 227.0L334.0 227.7L337.3 230.0L338.3 231.6L338.5 233.4L340.0 236.0L337.2 237.4L337.5 240.3L336.3 242.0L337.2 243.3L336.4 246.5L337.4 248.2L336.4 249.9L337.2 252.5L336.4 252.8L335.7 254.9L334.6 256.5L333.5 259.3L331.4 258.5L329.3 259.4L326.8 259.7L324.3 259.2"/>
<path d="M272.1 200.9L273.1 201.2L276.7 203.0L278.6 203.1L279.8 205.0L282.2 205.2L282.9 206.4L285.6 208.5L286.4 209.1L288.5 211.6L290.3 212.7L291.2 213.3L294.5 215.0L296.1 216.0L298.3 216.9L301.2 218.1L301.3 219.7L304.6 221.3L304.0 222.8L303.2 226.4L304.1 228.0L301.9 228.6L299.6 229.2L297.4 231.3L297.3 233.3L297.0 236.4L297.0 238.0L297.3 240.3L298.8 242.3L298.3 243.6L299.4 246.4L299.8 247.3L300.4 250.3L302.9 251.7L304.6 252.8L305.1 254.5L307.2 253.2L309.5 252.6L312.1 251.3L314.9 250.9L317.1 250.7L318.0 252.6L320.7 252.5L322.4 255.4L322.1 257.2L323.6 259.8L324.6 261.2L323.7 262.8L323.5 266.3L323.4 268.4"/>
<path d="M389.2 102.4L388.1 105.0L388.0 106.6L387.4 107.6L386.8 111.0L386.4 113.4L387.2 114.1L386.4 116.3L386.2 118.7L387.7 120.2L387.4 123.3L388.4 126.0L388.5 127.0L389.0 129.8L390.3 130.7L389.9 133.6L389.9 134.5L389.4 135.7L390.1 138.9L388.1 141.3L389.8 142.0L387.4 144.3L385.4 144.2L384.3 145.5L382.8 147.1L380.5 147.1L378.1 148.4L375.8 150.3L373.5 150.2L371.3 150.4L370.8 153.4L368.4 154.7L367.2 157.6L367.2 157.7L365.0 160.0L365.1 161.6L363.9 165.1L364.0 167.8L365.5 169.8L365.7 172.2L367.5 173.3L368.0 175.7L368.1 175.8L371.6 177.9L371.8 180.2L373.1 181.1L376.1 182.5L376.0 184.9L377.5 187.0L378.0 188.5L377.9 190.7L375.7 191.3L373.6 192.3L371.7 193.8L370.6 194.4L369.4 193.8L366.8 195.3L363.9 194.5L362.2 195.0L362.0 196.5L360.0 198.3L361.8 200.9L363.1 202.9L364.3 203.3L366.4 205.8L367.7 208.6L368.9 209.4L370.0 212.4L369.8 213.3L371.3 216.0L372.0 217.2L371.7 219.3L374.0 220.6L375.1 222.6"/>
<path d="M388.4 126.0L389.0 124.1L390.6 124.9L394.0 124.3L396.7 123.9L397.6 123.9L399.0 123.8L402.3 124.7L402.2 125.3L406.0 126.5L405.7 127.7L406.8 129.9L407.8 131.0L407.8 134.0L411.6 135.8L413.2 136.3L414.3 137.9L415.9 140.7L413.5 141.6L414.9 143.7L413.6 146.5L415.6 146.6L418.2 148.7L419.6 148.5L420.9 149.5L423.9 148.8"/>
<path d="M398.6 215.4L397.1 217.7L397.5 219.8L395.0 221.3L396.2 223.9L396.6 227.0L396.2 229.4L396.5 230.7L396.2 232.5L396.7 235.8L394.8 237.9L395.2 239.6L393.5 240.2L391.0 242.5L391.6 244.3L389.7 246.4L390.8 248.6L390.7 250.9L391.2 254.1L392.1 256.4L393.5 257.4L396.0 259.1L397.1 260.0L396.2 262.4L396.7 264.5L397.4 265.6L397.1 268.8L398.6 270.0L399.3 272.5L399.2 274.7L402.5 276.5L402.6 276.6L405.8 277.7L403.7 279.4L405.1 282.6L402.6 283.9L401.2 285.8L399.9 288.5L399.3 290.9L398.4 292.9L397.4 294.3L395.7 295.4L393.9 294.2L392.6 292.8L389.0 292.4L387.8 291.1L384.9 290.4L383.0 290.9L381.0 291.0L377.3 290.0L376.7 290.1"/>
<path d="M381.0 291.0L380.0 289.0L378.8 286.2L380.2 283.1L382.3 281.5L384.5 280.7L383.7 280.0L381.8 277.0L381.6 276.1L380.1 273.5L379.3 271.4L377.6 271.0L375.0 271.7"/>
<path d="M395.7 295.4L397.9 296.5L399.7 298.6L401.2 299.3L403.9 301.8L406.0 299.6L407.0 298.2L407.9 298.3L410.8 296.5L412.6 298.0L415.9 297.8L418.7 297.3L419.7 297.4L422.1 298.8L422.9 301.3L422.8 303.8L424.1 306.2L425.6 308.1L426.5 310.5L426.1 312.0L427.5 314.9L427.2 316.3L428.3 317.3L426.9 320.0L427.3 321.9L428.3 324.0L428.2 327.5L431.2 328.1L432.4 329.4L435.0 330.8L438.3 329.8L440.6 330.1L442.5 332.0L442.1 334.1L443.2 335.5L445.0 335.6L447.7 334.2L451.3 336.4L453.4 336.4L454.7 334.2L455.5 332.7L456.7 329.6L459.2 329.8L461.8 329.6L464.0 327.4L466.4 327.5L468.4 326.7"/>
<path d="M339.5 370.4L340.5 371.4L342.2 374.2L343.4 376.2L345.0 378.4L346.8 378.8L348.4 380.8L351.8 380.4L352.8 381.5L353.3 384.1L354.5 387.0L354.3 388.4L357.6 388.1L357.5 389.9L361.1 390.0L361.1 391.9L363.5 394.5L365.6 395.0L367.3 396.9L369.8 396.6L370.8 397.5L373.8 397.9L377.0 395.7L379.5 396.0L380.2 397.1L382.9 396.1L384.5 397.1L386.3 394.4L385.7 393.0L387.6 390.1L387.0 389.2L388.2 386.4L388.7 383.5L390.7 381.6L391.8 380.3L393.8 377.4L395.9 378.5L397.4 380.2L399.2 381.1L399.5 383.8L400.3 384.5L399.6 386.5L398.6 389.4L396.6 389.7L397.2 391.6L397.4 394.6L399.4 393.3L401.4 390.9L402.7 390.1L403.5 389.2L405.4 386.4L407.1 385.1L408.4 384.7L410.2 383.4L412.7 383.3L416.3 383.3L416.7 384.1L419.5 385.3L420.6 382.7L420.5 381.6L423.2 380.7L423.5 378.2L424.5 376.7L426.6 377.2L428.7 374.4L429.6 374.4L430.9 372.2L433.3 371.2L432.7 368.4L434.6 366.4L435.0 363.1L436.8 361.2L438.4 360.0L440.4 358.8L442.5 358.3L443.6 356.3L443.7 354.2L445.8 352.2L445.1 350.7L447.1 347.8L446.3 346.3L448.1 342.8L447.9 340.8L446.2 339.1L446.4 336.0L445.3 334.9L445.0 335.0"/>
<path d="M354.3 388.4L354.1 389.1L353.1 392.4L350.3 393.7L351.6 396.2L349.3 397.2L350.9 399.2L351.6 402.2L351.6 403.7L352.4 407.4L355.9 408.7L356.7 408.9L357.7 412.1L360.8 412.4L362.8 414.2L364.3 414.3L367.1 416.3L368.7 414.6L369.7 413.3L370.8 411.6L373.2 409.1L375.7 408.5L377.3 407.5L378.0 407.8L380.4 408.6L381.6 409.9L384.0 410.6L384.2 412.5L387.6 413.0L388.4 415.7L388.9 416.7L390.1 420.2L391.4 421.8L391.9 425.3L392.5 427.0L393.4 428.9L394.3 431.6L394.2 433.0L393.4 435.6L392.5 437.1L392.1 439.7L392.9 440.2L395.7 442.3L396.1 442.6L399.2 444.9L399.5 446.6L402.2 447.2L403.2 449.2L405.3 449.2L406.7 450.4L408.5 451.5L410.2 451.6L412.3 453.4L415.0 453.6L416.8 453.4"/>
<path d="M332.0 395.6L334.9 394.5L338.2 395.1L340.5 395.0L342.4 393.6L344.8 393.5L347.5 393.0L349.2 392.7"/>
<path d="M332.0 395.2L333.6 397.3L331.3 400.2L332.3 402.1L332.1 404.6L330.6 408.3L331.8 409.8L329.4 411.0L331.1 413.9L328.7 415.8L330.0 418.4L328.3 421.4L328.6 422.2L328.0 423.7L327.4 427.4L327.5 429.7L328.2 430.5L329.1 432.9L327.8 434.8L328.4 437.6L327.0 439.4L327.0 441.1L326.5 444.7L325.5 446.7L326.5 448.7L325.1 450.5L325.3 453.1L325.4 455.1L325.5 456.0L324.0 458.7L324.7 461.0L322.9 462.8L323.7 465.0L322.1 466.2L322.5 468.4L320.9 472.1L321.5 473.5L322.5 475.1L324.8 475.0L327.0 476.4L328.6 475.7L331.1 476.2L332.8 477.7L335.4 476.6L338.3 474.5L338.5 477.9L339.9 479.5L341.0 482.0L340.7 483.9L340.8 485.6L339.5 488.0L341.1 490.5L338.7 492.2L340.0 494.5L338.3 496.1L338.6 497.8L336.5 501.2L336.0 501.5L334.9 503.4L333.3 504.4L332.2 507.3L330.6 508.8L329.8 509.9L328.9 511.4L327.1 514.0L327.9 515.8L325.6 518.8L325.9 519.9"/>
<path d="M328.5 419.2L327.5 419.4L324.4 419.4L321.3 420.0L320.3 419.6L319.5 420.1L317.2 421.0L314.6 421.5L311.9 422.2L309.4 424.1L307.3 424.4L305.5 424.6L303.7 426.8L301.8 428.3L299.8 427.4L297.4 430.1L296.3 429.4L296.4 431.9L296.5 434.9L296.2 436.4L295.4 437.7L295.7 440.6L294.4 442.2L294.5 445.3L293.8 448.3L293.4 449.2L294.0 450.9L292.4 452.7L289.9 455.6L287.8 456.8L287.4 459.7L286.1 461.7L285.6 463.7L283.0 466.2L283.5 467.6L281.8 470.5L279.9 471.2L280.4 474.2L278.1 475.4L277.6 479.0L277.0 480.1L274.5 482.2L274.9 482.4L273.8 485.7L271.0 487.0L271.4 490.3L269.9 491.5L267.9 494.0L267.6 495.1L266.3 497.1L265.2 498.7L264.5 501.7L263.2 503.6L262.9 506.3L261.6 506.6L261.8 509.2L260.3 511.6L260.4 513.6L259.0 516.4L259.4 517.1L258.3 519.9"/>
<path d="M270.7 408.2L269.1 411.6L270.3 414.1L272.7 413.0L274.2 414.2L276.2 415.5L278.1 416.4L280.9 417.8L278.2 420.5L279.5 421.7L276.4 423.7L273.5 422.6L272.4 423.3L271.6 424.2L272.6 427.4L269.7 428.8L269.3 431.6L269.1 431.1L266.5 434.4L267.2 434.9L267.5 437.2L271.1 438.0L273.1 437.5L274.7 436.8L274.5 434.1L276.7 436.5L279.0 437.1L279.1 437.5L282.6 439.2L284.6 440.4L287.1 441.0L288.0 442.4L290.6 443.1L291.2 443.6L292.8 445.0L294.3 446.7"/>
<path d="M257.4 435.5L259.7 436.3L259.5 438.5L260.8 439.2L261.2 441.7L263.2 444.6L265.1 444.7L266.8 447.6L268.8 448.8L271.5 450.2L273.4 450.5L275.2 451.1L277.7 451.1L280.4 452.0L280.9 451.6L283.0 451.2L286.1 450.7L289.0 451.3L290.7 449.0L292.7 447.9L294.3 446.7"/>
<path d="M293.5 455.3L290.2 454.9L289.6 454.5L287.2 454.1L284.1 453.8L282.9 454.8L281.1 452.9L278.5 453.5L276.7 454.2L274.0 453.3L270.9 453.9L268.2 455.4L269.8 456.9L267.1 459.6L268.6 460.8L268.5 464.0L268.8 465.5L270.0 467.6L271.1 470.6L271.5 472.2L272.5 475.9L273.8 476.7L272.7 478.5L273.2 481.4L272.8 482.9L273.5 485.3L274.7 486.8"/>
<path d="M363.5 485.1L361.5 484.2L360.8 482.2L359.7 480.0L360.6 478.1L360.7 476.0L359.9 473.7L361.9 471.6L360.8 468.9L363.2 467.5L363.1 466.0L364.1 463.7L366.1 461.8L365.3 458.9L368.1 456.8L368.3 454.4L369.3 453.7L367.6 451.6L367.7 448.6L367.0 447.1L366.0 446.3L363.4 445.8L361.6 446.7L362.1 448.0L360.1 449.9L359.2 452.2L357.9 453.4L356.4 455.1L355.2 455.7L355.7 458.9L355.2 460.5L356.3 462.6L357.0 466.0L357.1 467.7L358.4 469.9L357.1 472.6L357.5 473.5L355.8 476.0L356.2 477.3L354.6 480.0L353.8 481.9L352.6 484.4L350.3 485.0L349.7 487.2L349.0 488.8L349.0 491.5L348.3 494.3L348.0 495.1L347.1 497.3L346.9 500.1L345.6 501.8L344.8 504.2L342.8 504.3L342.5 506.8L341.9 508.4L340.1 510.1"/>
<path d="M417.2 452.3L415.9 455.6L416.8 458.8L415.7 460.1L415.4 461.8L416.1 464.5L414.1 466.7L415.8 468.8L413.7 470.9L414.5 472.6L413.7 474.5L413.5 477.1L411.3 475.9L409.0 475.4L406.7 473.4L404.4 473.7L402.7 472.2L400.8 472.5L397.3 473.1L394.6 473.3L393.3 472.8L391.2 472.5L390.6 470.4L388.3 467.3L386.7 466.9L387.2 465.2L385.6 463.6L384.3 462.7L382.9 461.9L380.4 463.7L378.6 464.4L379.3 465.7L377.6 467.9L378.0 471.1L378.2 472.2L378.5 475.2L380.0 476.9L377.8 476.6L375.6 478.7L373.4 479.7L371.2 480.1L369.1 481.1L367.0 482.7L366.1 483.9L364.0 484.1L361.7 486.3L360.6 486.5L358.9 487.4L356.7 490.3L354.7 492.4L353.3 493.4L351.8 495.7L350.1 496.7L348.7 497.6L347.3 500.6L346.9 501.8L345.0 504.1L343.0 504.0L343.2 507.0L341.9 508.4L339.0 510.9L340.1 511.3L338.0 514.0L337.5 515.4L337.2 518.8L335.9 519.9"/>
<path d="M417.2 452.3L418.6 455.3L418.9 457.5L420.5 458.1L421.4 460.0L423.5 461.5L424.8 463.1L424.5 466.0L426.9 466.8L429.0 467.4L429.1 469.8L432.8 470.9L432.8 473.0L436.3 471.6L438.2 473.0L438.7 471.7L440.7 471.7L444.2 472.5L446.6 470.1L448.1 470.9L449.2 470.0L450.7 468.2L452.9 469.1L455.5 467.7L457.8 467.4L459.6 466.7L461.5 467.1L463.7 464.8L466.0 466.8L468.2 467.2L469.2 467.9L471.4 467.3L473.9 465.0L476.4 463.9L478.7 464.1L480.0 462.2L481.2 459.4L483.1 459.2L485.7 458.2L488.1 456.2L490.4 454.9L492.5 455.2L494.5 454.2L496.0 452.6"/>
<path d="M417.2 452.3L416.8 451.5L417.3 450.1L415.7 447.3L417.4 445.6L416.9 443.2L418.3 441.8L418.0 438.3L421.0 436.8L419.7 433.7L422.0 433.1L420.9 431.6L422.6 427.9L422.5 426.4L423.9 424.1L424.7 423.0L425.3 420.6L427.6 419.3L429.3 417.2L431.5 417.4L433.8 419.6L434.8 420.2L437.1 421.0L439.5 418.9L440.7 418.0L441.3 416.2L442.5 415.6L444.8 414.2L447.2 411.6L449.3 411.2L451.0 411.1L452.2 408.4L454.0 408.2L456.3 408.4L458.3 404.7L458.0 403.7L459.6 402.1L460.1 400.4L459.2 398.2L455.9 396.7L455.5 394.7L453.6 393.9L451.3 393.5L451.0 391.2L447.4 390.4L450.0 389.0L452.8 386.6L454.3 385.5L453.6 382.6L452.7 381.3L452.9 378.1L451.1 376.1L450.9 374.5L451.5 371.7L450.8 369.9L452.1 368.2L454.0 367.7L455.5 364.5L455.5 363.3L457.7 361.1L459.2 361.1L460.0 359.4L462.0 358.6L463.6 357.8L465.4 355.6L466.3 353.4L466.5 349.8L466.6 347.7L467.4 346.9L467.7 344.0L468.6 342.2L469.3 339.4L470.2 337.6L472.8 334.3L471.4 332.2L472.9 329.8L470.5 328.6L469.2 328.4"/>
<path d="M453.6 369.6L454.8 371.6L456.4 373.6L459.3 375.1L459.1 377.1L462.7 377.1L462.5 378.5L465.9 379.4L467.6 378.4L469.2 377.7L471.0 376.2L473.1 376.2L475.3 375.6L477.6 373.6L479.7 375.0L481.7 373.1L484.2 372.9L485.8 372.3L487.7 373.2L490.9 371.8L494.1 371.3L496.1 371.6L497.1 371.9L499.1 370.1L502.0 371.9L504.5 369.8L506.2 370.0L507.2 369.4L508.7 369.2L511.4 367.5L514.7 369.3L515.1 369.1L517.6 369.9L520.3 368.8L521.5 370.1L523.8 371.1L525.6 370.3L528.6 371.1L530.1 370.9L531.1 372.0L534.4 371.1L537.0 371.1L537.4 372.3L539.4 370.5L542.6 371.1L545.6 370.5L547.6 370.3L549.0 368.7L550.6 368.9L552.8 369.2L555.7 368.0L558.0 368.0L559.1 368.8L561.0 367.4L563.8 368.4L565.6 368.6L568.6 368.8L569.5 369.2L572.7 370.0L572.4 371.6L576.2 373.9L576.0 374.2L579.2 376.1L579.5 376.6L582.3 377.3L583.1 378.9L583.8 380.1L586.2 380.2L589.6 380.0L591.1 379.9L591.9 380.5L595.0 379.6L598.0 380.0L599.6 380.1L600.8 378.5L603.1 380.3L604.5 377.0L606.0 376.4"/>
<path d="M584.2 380.7L582.5 380.8L582.8 383.6L581.4 386.6L581.6 387.7L579.3 390.6L579.8 391.6L577.9 394.4L576.1 396.0L576.7 398.4L574.3 400.4L572.7 402.2L571.3 402.3L569.6 403.1L567.5 403.4L565.3 405.2L563.5 404.3L562.0 405.9L560.3 407.0L557.8 406.1L554.9 408.5L552.4 408.3L550.4 409.0L548.5 411.0L546.8 413.0L545.1 413.5L544.4 414.0L542.5 416.6L539.6 418.9L538.1 420.2L538.5 422.4L536.4 422.4L534.3 425.4L532.3 426.8L530.3 427.1L528.2 427.7L527.9 430.6L525.8 431.8L524.8 435.2L524.7 436.5L522.6 439.9"/>
<path d="M380.9 290.9L381.8 290.3L383.5 292.4L387.1 292.4L388.0 292.3L390.4 294.0L391.5 296.4L393.4 296.3L395.0 297.7L396.7 298.7L398.3 299.0L400.1 300.7L402.9 301.0L405.1 299.7L405.7 301.3L408.6 298.2L407.8 298.2L410.9 296.4L412.7 298.3L413.8 297.5L416.3 296.9L418.9 298.3L420.0 299.1L422.0 301.2L422.8 303.8L424.3 305.8L425.0 307.8L424.9 310.5L426.4 311.8L427.2 314.9L427.2 316.0L428.9 318.1L428.7 320.5L427.6 321.2L427.3 324.0L426.8 326.0L428.4 327.6L429.9 327.4L431.9 329.2L434.6 329.4L435.1 330.1L438.3 329.7L440.8 330.0L441.7 331.8L444.5 331.8L444.4 332.4L445.7 335.2L447.2 335.7L449.9 334.8L450.9 336.1L453.8 334.0L453.9 332.0L454.2 331.3L456.7 330.0L459.5 328.2L462.9 330.0L464.9 328.3L465.9 328.5L468.4 328.4"/>
<path d="M403.9 279.0L404.7 282.2L402.7 283.4L401.5 286.5L400.8 288.3L399.3 291.2L398.3 292.9L397.2 293.0L396.0 295.1L393.3 295.8"/>
<path d="M380.3 408.6L381.1 410.7L384.1 410.7L384.2 412.3L387.4 413.1L388.3 415.9L388.9 416.8L390.1 420.1L391.5 421.6L391.6 424.3L392.0 427.0L393.6 428.6L393.2 430.3L394.8 432.8L394.2 433.1L393.0 434.8L393.4 437.0L391.7 439.9"/>
<path d="M257.8 519.5L259.3 522.7L257.3 524.9L258.1 525.8L258.4 528.0L257.6 531.5L257.6 533.6L257.6 534.3L259.2 537.0L260.0 539.5L259.9 541.4L260.8 544.7L264.0 544.9L264.2 546.4L267.9 546.8L268.0 548.1L270.2 546.0L272.9 544.9L274.3 542.0L274.5 541.0L275.7 540.2L278.7 537.9L278.8 536.4L279.1 533.2L282.2 532.8L283.8 530.4L283.9 529.0L285.4 528.0L287.9 525.1L290.3 523.4L292.7 523.4L294.6 522.5L296.3 520.3L297.8 520.1L299.0 520.1L301.4 519.2L304.6 519.6L306.7 519.5L307.4 518.1L309.2 519.9L310.6 521.9L312.0 523.4L311.8 525.8L314.0 526.1L315.2 526.0L317.1 526.2L320.5 524.6L321.2 524.4L322.1 522.2L324.6 521.2L325.3 517.8L325.7 516.6L328.0 514.2L329.0 512.7L330.1 511.4L331.3 508.9L333.3 508.1L335.3 505.6L336.6 504.8L337.5 504.8L339.1 501.9L342.2 500.3L343.1 498.5L342.9 496.8L345.6 495.9L346.4 493.1L346.4 491.3L349.1 488.2L348.5 486.9L350.2 484.6L352.8 485.0L354.5 482.0L355.6 482.3L357.2 481.6L359.7 478.9L361.4 479.5L361.9 477.5L363.0 475.7L365.1 475.3L367.5 474.1L369.6 472.8L371.5 473.3L373.4 471.7L375.6 469.9L378.0 470.9L379.1 468.2L380.3 466.3L381.2 464.3L383.4 464.7L386.3 466.5L386.7 466.1L388.4 467.3L389.0 470.5L389.2 471.6L392.1 472.7L395.3 473.2L396.4 471.4L397.9 473.3L400.7 472.6L402.9 471.7L404.6 473.6L406.2 473.7L408.8 475.6L409.6 475.8L412.6 477.5L413.6 477.7L414.8 475.2L414.6 473.2L415.6 470.1L415.7 469.0L416.3 467.5L416.9 464.1L416.9 462.0L417.7 460.0"/>
<path d="M185.7 525.7L187.4 527.3L188.8 527.4L190.2 529.9L191.9 531.6L193.7 531.6L196.0 533.4L197.0 533.3L199.7 533.5L202.0 533.0L203.8 531.9L205.5 531.9L207.6 531.8L209.9 532.3L211.2 533.7L213.7 533.5L215.9 534.9L216.9 534.2L219.9 535.3L222.7 533.8L224.2 533.5L225.1 533.1L226.6 533.0L229.0 530.6L231.5 529.7L233.9 529.3L236.2 527.7L238.2 526.0L238.8 527.2L241.4 525.4L244.6 526.6L246.0 526.8L247.6 525.3L250.1 527.2L251.9 527.1L255.8 526.1L257.6 527.5"/>
<path d="M268.0 548.1L269.6 549.2L269.2 552.0L270.4 552.9L271.0 555.8L271.5 557.0L273.8 559.7L274.5 560.8L275.3 562.7L274.1 564.3L274.5 565.7L272.4 569.1L273.6 570.1L269.8 569.7L269.6 569.4L266.7 568.6L264.8 567.7L263.5 569.7L261.6 569.2L259.2 571.4L257.0 572.8L255.5 571.8L254.3 574.2L252.6 574.6L250.4 574.2L247.0 574.4L244.6 575.3L242.3 573.6L242.1 577.1L242.7 578.4L240.7 579.5L242.3 582.5L239.5 583.9L238.4 587.4L238.5 588.8L236.0 589.1L233.0 589.6L231.8 591.8L231.4 594.8L230.7 595.1L230.2 597.1L231.8 599.0L232.1 601.3L233.2 603.2L235.9 606.1L236.5 606.2L236.8 607.3L239.2 610.3L240.1 612.0L241.7 611.9L244.4 613.8L244.8 614.3L248.6 616.0L249.7 616.0L251.6 618.0L254.1 617.1L256.3 616.8L259.2 618.4L261.4 616.3L262.5 616.8L264.0 616.3L266.6 614.6L269.1 613.8L269.9 612.3L270.5 609.3L272.3 609.2L274.6 607.2L276.1 605.7L276.6 604.4L278.0 601.1L280.7 599.8L281.8 598.1L282.0 597.2L283.9 595.6L285.4 592.8L286.3 591.6L287.7 589.8L288.6 589.5L290.2 586.2L292.0 585.1L292.1 582.7L293.4 582.7L296.1 580.0L296.2 578.3L296.6 576.1L299.6 575.3L300.6 574.0L300.5 571.5L302.8 569.9L303.6 568.5L304.4 567.0L304.5 565.2L306.4 563.5L308.7 562.4L311.3 562.0L313.7 559.9L312.0 557.2L314.3 554.1L313.5 552.8L315.6 549.9L316.3 549.1L317.8 546.5L319.4 545.1L321.6 543.7L323.2 542.1L322.8 541.6L325.4 538.5L325.3 537.1L326.4 533.5L328.3 532.6L328.5 529.8L330.1 529.0L331.4 526.8L332.9 525.0L334.0 523.3L334.8 520.1L336.6 519.0L337.8 516.6L338.8 516.5L340.2 513.7L341.0 512.3L342.6 509.2L342.7 509.3L344.1 506.8L346.0 505.4L345.6 502.0L347.7 501.0L349.4 498.3L350.0 497.2L351.4 495.4L352.7 493.2L354.4 492.3L356.9 489.6L358.1 487.1L358.6 485.9L360.0 483.5L362.7 482.5"/>
<path d="M323.2 542.1L323.9 544.1L327.1 543.9L327.7 545.9L330.6 545.7L330.5 547.8L331.6 550.6L333.1 552.1L333.4 555.6L334.0 556.4L333.6 558.7L332.6 562.0L333.5 563.1L332.5 564.1L332.8 567.2L332.2 569.5L334.0 571.1L333.7 574.1L334.6 575.1L335.4 577.6L335.4 579.5L337.1 581.4L337.5 583.9L337.7 585.3L337.1 587.2L336.7 589.2L336.3 591.3L335.4 592.3L335.5 595.3L336.4 596.2L337.8 599.4L339.0 601.1L341.0 601.1L344.3 603.2L344.7 603.6L348.1 604.8L350.3 605.9L352.4 605.4L353.5 606.8L357.2 606.3L357.2 608.1L360.7 608.0L362.2 610.0L364.4 610.4L365.8 611.1L369.6 611.6L369.8 611.1L372.8 612.6L375.3 612.9L377.5 612.9L380.2 613.3L380.9 613.6L383.9 613.4L386.4 613.9"/>
<path d="M386.4 575.1L386.4 613.9L387.8 617.1L387.7 618.0L388.4 620.8L390.1 622.3L391.4 624.4L392.6 626.0L394.4 629.5L395.6 630.6L395.7 633.2L397.0 633.6L399.7 636.6L401.0 638.6L400.8 641.2L402.0 643.0L405.5 643.2L405.4 645.7L408.2 647.0L410.0 649.1L411.0 650.8L413.6 650.4L415.6 649.1L417.8 651.1L421.0 649.8L420.6 647.9L422.7 647.0L424.4 644.1L425.0 643.1L426.5 639.8L428.6 638.3L430.8 638.9L433.1 638.1L435.3 635.5L437.7 637.3L438.4 637.6L442.3 639.3L442.3 639.7L445.8 641.3L445.8 642.6L447.2 644.9L450.0 646.3L450.2 649.1L450.8 650.5L453.5 650.6L454.4 653.1L455.7 655.4L458.0 656.0L458.7 657.3L461.4 658.2L461.9 659.2L465.6 660.3L465.5 661.1L469.3 662.3L469.6 662.9L472.5 664.3L472.7 666.3L474.0 667.6"/>
<path d="M386.6 574.4L389.8 575.1L390.8 575.4L392.5 574.9L395.5 575.0L397.4 574.9L399.8 575.4L402.3 573.8L404.1 575.1L405.4 574.2L407.7 573.4L410.8 574.8L413.0 572.8L414.7 572.1L416.2 572.6L418.0 571.0L420.3 570.7L422.7 569.8L424.1 568.4L425.5 567.2L427.6 566.4L429.4 563.1L429.8 562.5L432.0 562.7L434.6 561.7L436.6 562.1L438.5 562.2L440.7 560.5L442.7 562.4L444.9 560.1L447.1 559.1L449.4 559.5L451.4 557.9L453.0 556.9L454.6 556.4L456.3 555.2L458.3 553.5L460.6 552.4L463.1 551.9L465.6 550.3L467.5 550.4L470.0 550.9L470.8 550.7L474.0 551.3"/>
<path d="M256.3 616.8L254.2 619.1L253.1 620.8L252.6 620.3L250.9 623.2L249.1 624.7L249.4 626.6L248.5 628.5L248.1 630.1L247.8 633.2L249.3 634.0L248.9 636.9L250.3 637.7L250.7 640.5L251.4 641.7L254.8 642.5L255.7 643.8L258.3 644.4L260.1 645.9L262.2 646.0L263.5 647.3L267.1 646.7L267.0 648.2L270.9 647.8L271.7 649.9L274.1 649.8L276.4 651.9L277.7 651.8L280.4 653.9L282.3 653.9L283.7 655.9L286.5 656.1L288.1 657.7L289.8 658.0L292.3 658.6L293.8 658.6L295.4 659.1L298.4 659.6L299.2 662.9L299.8 664.2L301.4 665.2L302.4 667.6L302.7 668.6L304.1 671.3L303.7 672.4L305.2 674.9L306.4 676.6L310.2 676.1L310.4 676.2L313.1 676.8L315.7 677.3L316.6 679.2L316.4 680.9L318.1 683.0L317.8 684.5L319.4 686.4L321.9 686.6L323.5 688.6L325.6 688.6L327.7 690.7L329.5 692.0L329.8 694.1L330.5 694.7L332.7 697.7"/>
<path d="M215.1 630.2L217.6 629.0L219.9 628.0L221.6 626.9L222.9 626.0L224.5 624.9L226.6 623.7L227.8 625.4L229.8 625.1L231.3 626.9L232.6 628.5L232.5 631.7L232.6 632.9L234.0 635.4L234.0 638.1L234.0 639.8L235.3 641.5L237.1 643.6L238.4 643.4L241.4 645.4L241.7 645.4L245.0 647.3L247.3 646.9L247.5 647.2L250.9 646.8L253.4 647.7L254.2 647.1L255.5 646.3L257.8 645.4L260.1 645.1"/>
<path d="M155.8 564.6L156.4 565.9L158.1 568.5L158.3 571.1L158.7 572.4L160.3 575.1L160.2 575.6L160.8 578.1L162.6 579.2L164.4 581.4L166.1 581.5L168.7 583.8L169.3 584.7L171.1 585.4L174.2 583.8L177.3 583.7L179.2 583.8L180.2 583.0L181.5 582.0L185.2 583.0L186.0 583.0L188.1 584.6L190.5 584.8L191.8 585.8L191.5 589.0L194.0 590.7L195.7 591.1L196.0 592.9L197.6 595.0L198.4 596.4L198.6 597.7L195.8 600.6L194.5 602.9L194.7 605.9L194.4 607.6L193.6 611.0L197.1 610.1L197.6 610.0L199.9 612.1L202.9 611.2L204.9 610.6L206.3 610.9L207.8 609.4L210.2 609.2L213.2 609.5L212.9 610.7L214.6 612.9L217.2 613.4L217.8 616.5L216.5 618.8L214.2 619.7L214.6 622.7L213.7 625.2L214.0 628.0L215.1 630.2L213.1 631.5L211.5 632.2L209.8 633.8L207.9 635.9L207.0 636.3L206.7 638.9L206.7 642.1L205.3 643.5L206.3 645.3L204.2 647.6L204.5 648.9L203.3 652.4L201.2 653.6L202.1 656.5L199.3 656.9L199.4 659.4L198.6 661.1L197.6 662.9L199.7 664.3L200.5 666.2L202.6 667.1L203.7 670.0L202.3 672.8L202.9 673.8L203.3 675.9L203.7 678.1L203.8 680.1"/>
<path d="M522.1 460.0L522.1 547.6"/>
<path d="M400.1 575.7L402.7 574.1L404.1 575.1L405.4 574.4L407.7 573.4L410.5 574.9L412.5 572.6L414.3 571.4L416.3 572.3L418.4 570.3L420.8 569.0L423.1 569.4L423.4 566.4L423.9 565.7L425.1 563.8L426.1 563.5L428.8 563.9L432.2 562.4L434.0 563.6L434.7 562.8L436.6 561.9L439.3 562.1L442.0 561.5L444.6 559.0L446.8 559.5L448.6 559.2L450.2 556.6L451.8 556.7L454.2 556.2L456.5 553.3L457.9 553.7L459.0 552.8L460.7 550.0L463.0 550.6L465.2 549.6L465.5 550.4L468.8 551.7L471.1 550.5L471.9 551.3L474.0 551.0L476.7 549.4L479.4 549.9L481.8 549.2L483.4 547.2L484.7 548.4L486.6 547.7L489.7 547.0L491.5 549.1L494.0 548.1L495.6 547.7L497.1 549.5L500.9 548.5L502.9 548.3L503.5 549.1L505.1 547.0L508.4 548.7L511.1 547.1L512.4 547.1L514.3 548.0L517.3 547.6L518.9 547.7L521.7 546.7L525.1 548.3L525.6 548.4L528.5 550.0L530.4 549.4L533.2 549.4L534.2 550.6L536.2 550.6L539.6 551.3L540.1 550.1L542.0 551.6L545.7 552.7L547.6 551.3L551.1 552.0L549.1 553.8L546.8 554.8L544.3 555.2L542.1 556.6L540.2 557.8L538.7 558.3L536.8 559.0L534.3 559.5L531.5 561.3L529.0 560.7L532.5 563.2L532.8 564.6L534.7 564.8L536.9 566.5L536.7 567.9L539.1 569.6L540.1 570.6L541.8 572.2L542.4 575.2L543.0 576.1L546.0 576.5L546.1 578.4L549.8 578.2L550.8 580.4L553.1 580.4L555.0 582.3L557.7 581.5L558.5 581.2L560.9 582.5L564.1 582.4L564.4 583.0L566.1 582.0L568.9 581.1L571.7 581.9L573.7 579.9L575.1 580.3L577.2 581.4L578.4 582.6L577.0 584.1L576.6 587.2L574.7 588.8L572.6 590.1"/>
<path d="M551.1 552.0L552.9 551.3L554.5 550.3L556.1 548.8L557.9 547.6L559.8 546.3L561.0 543.3L561.0 542.1L562.3 540.5L562.2 537.5L563.4 536.0L564.2 533.6L565.8 533.3L565.4 530.7L567.4 529.2L569.9 527.5L569.8 527.3L571.0 524.2L570.5 521.2L572.3 519.5L571.3 516.6L573.5 515.3L574.4 513.9L575.6 514.3L577.8 512.9L580.1 512.3L582.1 512.7L584.1 511.7L586.2 511.8L588.2 512.1L590.0 510.3L591.2 510.5L592.8 509.4L594.9 507.0L597.5 506.1L599.6 506.5L601.5 504.2L603.3 505.7L605.7 503.8L608.3 503.8L610.1 503.3L612.8 504.2L616.2 502.7L616.3 503.6L619.6 504.9L621.1 505.6L623.1 507.2L625.1 507.6L627.3 507.0L628.8 506.4L630.8 505.2L633.4 505.9L635.5 503.4L636.5 504.6L637.5 502.8L639.7 502.4L642.1 502.4L644.1 500.5L645.8 500.4L647.7 499.6L650.0 499.0L652.5 497.6L654.8 496.9L656.4 496.3L657.7 494.7L658.6 493.5L660.6 491.4L662.3 491.3L663.6 489.3L665.4 486.7L667.2 488.5L669.2 488.6L670.8 490.7L674.0 490.5L674.2 492.3L676.6 490.2L679.9 491.2L681.9 490.6L682.7 490.0L684.4 490.3L688.2 490.0L690.1 490.3L691.5 491.3L694.2 490.7L696.4 491.3"/>
<path d="M584.5 608.9L583.6 608.9L581.0 606.9L578.8 606.9L577.9 604.8L574.0 604.9L574.2 602.5L573.0 599.7L571.3 599.2L570.0 598.4L571.0 595.6L570.8 593.7L572.8 591.8L571.7 590.1L569.8 590.6L568.5 592.0L567.2 591.0L565.3 593.0L562.5 593.7L559.5 593.0L556.9 594.6L555.7 594.8L554.7 595.0L552.7 595.2L549.6 596.8L546.6 595.5L544.8 597.1L543.9 597.3L542.4 597.6L539.7 597.5L536.4 599.4L534.1 598.0L532.7 600.0L531.5 600.4L529.9 600.9L527.7 601.8L525.2 602.7L523.0 604.0L521.1 605.1L519.3 606.5L517.5 607.5L515.5 608.4L513.9 608.9L510.9 610.1L508.3 608.5L507.1 610.8L505.8 609.6L504.0 612.8L504.5 614.1L503.2 616.0L503.2 618.0L502.5 619.7L502.1 622.8L501.6 624.3L501.1 625.0L500.4 628.5L500.4 630.9L499.3 631.8L498.2 634.2L498.4 635.2L496.2 638.7L497.3 640.6L494.8 642.3L492.0 642.3L490.0 644.0L489.0 646.8L488.2 647.8L486.8 649.3L484.2 650.4L482.5 651.4L481.6 654.6L480.2 655.1L478.5 656.3L477.3 658.0L475.8 659.5L473.5 662.1L472.5 662.6"/>
<path d="M399.8 638.5L401.2 639.4L403.5 639.5L404.1 642.1L406.1 644.6L407.7 644.8L408.8 646.3L411.8 647.2L411.8 648.0L415.4 650.3L415.5 650.9L417.8 651.1L419.8 648.6L421.2 646.7L422.7 647.3L424.9 645.3L425.9 643.3L425.9 640.6L427.4 640.1L427.1 638.1L429.5 636.8L431.1 636.3L432.8 635.8L435.3 635.4L436.8 637.1L438.8 637.5L441.7 639.3L442.1 639.5L445.9 641.4L445.9 642.5L447.8 645.2L450.4 646.8L450.6 648.1L452.1 650.1L454.8 651.9L455.3 653.7L456.6 655.5L459.1 656.8L460.0 659.0L462.2 658.4L464.7 660.4L465.5 660.9L468.8 661.9L470.7 662.5L471.9 661.9L472.1 664.5L473.8 668.1L474.8 671.2L474.7 671.5L476.3 673.3L479.4 676.8L480.1 677.3L480.9 678.2L484.0 681.3L484.0 682.9L485.9 682.8L488.4 684.8L489.1 685.1L491.6 686.6L493.6 686.9L495.9 688.9L496.8 688.9L500.6 690.7L500.7 690.2L504.0 691.8L505.6 691.2L507.4 692.6L509.6 692.5L512.0 694.0L512.8 694.7L516.3 695.9L517.2 697.0L519.6 697.8L521.4 698.7L523.0 699.6L525.1 699.9"/>
<path d="M496.1 699.8L498.1 697.8L499.7 697.8L501.3 697.0L502.9 694.8L505.1 693.9"/>
<path d="M330.3 689.8L330.0 691.1L330.4 694.0L329.9 695.4L331.7 698.0L331.4 700.9L332.6 701.3L334.8 703.0L335.7 703.8L337.7 703.9L339.1 705.9L341.9 706.2L344.6 706.2L344.8 706.6L348.4 706.3L350.4 708.4L352.1 708.5L354.0 710.5L356.1 710.5L358.3 712.7L359.8 712.7L362.1 714.8L364.1 714.7L366.2 716.9L367.8 716.8L370.5 718.9L371.2 719.2L374.5 719.2L376.7 719.2L378.3 719.3L380.5 720.7L382.1 719.4L385.0 722.1L386.3 723.2L387.7 725.5L390.5 725.5L392.0 727.5L394.0 726.5L396.0 726.9L398.1 726.9L400.5 727.9L401.3 729.0L405.1 729.0L405.4 730.2L408.3 729.7L410.3 731.3L411.4 730.9L413.2 729.7L416.1 730.8L419.1 728.2L421.0 729.4L421.1 729.0L424.1 728.4L426.9 730.4L427.4 729.7L430.1 730.0L432.2 730.3L434.5 731.9L435.8 732.6L439.1 733.7L440.1 734.8L442.5 735.5L445.1 735.0L447.4 733.4L449.0 731.6L450.1 730.7L451.9 731.0L454.0 731.9L455.8 731.8L457.4 732.3L458.2 730.4L458.7 729.3L459.1 726.2L459.7 723.6L460.1 723.4L462.1 720.6L462.1 719.6L463.7 716.2L465.8 714.8L468.2 715.2L469.4 713.0L470.5 714.4L472.4 712.6L475.1 712.5L477.3 712.1L479.0 710.2L480.6 709.2L482.3 709.0L484.4 707.5L486.3 705.2L488.8 704.1L491.4 703.8L493.7 701.9L495.6 699.4L497.3 698.8L499.0 699.2L500.9 697.1L502.9 695.0L505.2 695.4L507.1 695.3L510.2 693.8"/>
<path d="M346.2 729.6L348.5 727.8L350.8 726.3L353.2 727.3L355.4 726.1L357.4 724.4L359.4 724.4L361.6 723.5L363.9 723.0L365.8 721.7L367.7 721.0L370.1 720.5"/>
<path d="M489.3 690.4L493.0 689.7L493.8 690.7L496.1 691.8L498.2 692.3L500.4 693.2L502.0 691.7L503.7 693.4L506.9 693.4L508.0 693.6L509.4 693.4L513.3 693.8L513.2 695.5L516.8 695.8L518.0 697.7L520.2 697.5L522.1 699.7L523.6 699.9L526.4 701.4L526.8 702.2L529.1 704.4L530.1 705.7L530.7 708.3L532.5 710.1L533.2 712.9L534.6 712.7L535.9 713.5L539.2 713.6L539.3 715.0L542.7 715.4L544.1 717.3L546.2 717.3L548.0 719.1L550.9 718.5L551.2 720.5L554.9 720.3L554.8 722.3L558.6 722.1L560.0 722.5L561.6 722.3L564.0 720.8L566.5 721.7L564.6 722.9L564.7 725.7L562.9 726.5L563.6 729.4L563.6 731.1L565.3 733.0L564.9 735.8L565.6 737.0L564.1 740.0L564.9 741.6L563.0 743.6L563.9 745.4L562.1 747.0L564.8 748.8L565.5 750.8L566.8 752.0L569.5 753.8L569.5 755.0L571.1 753.0L573.7 751.3L576.2 751.0L576.7 749.3L578.4 750.0L582.0 750.8L583.8 748.9L584.3 750.7L587.8 750.8L588.7 752.8L590.7 752.8L593.2 755.0L593.9 754.8L597.2 756.7L597.8 756.7L600.3 758.6L602.5 758.3L603.3 760.0L606.9 759.4L606.9 760.9L609.7 761.3"/>
<path d="M522.7 439.7L519.9 441.7L517.4 441.8L515.3 441.7L513.6 444.4L512.1 444.5L510.6 444.1L508.7 446.8L506.3 447.1L504.0 447.0L502.3 449.4L500.9 449.6L499.3 449.9L496.3 451.4"/>
<path d="M522.3 440.1L522.1 479.9"/>
</g>
<g fill="#111">
<ellipse cx="217.5" cy="272.5" rx="3.2" ry="2.6" transform="rotate(20 217.5 272.5)"/>
<ellipse cx="285.5" cy="156" rx="3.4" ry="11" transform="rotate(8 285.5 156)"/>
<ellipse cx="338.8" cy="125.5" rx="3.4" ry="3.6" transform="rotate(0 338.8 125.5)"/>
<ellipse cx="475" cy="51.5" rx="3.2" ry="1.8" transform="rotate(-35 475 51.5)"/>
<ellipse cx="488" cy="40.5" rx="2.5" ry="1.6" transform="rotate(-30 488 40.5)"/>
<ellipse cx="483" cy="45.5" rx="1.6" ry="1.2" transform="rotate(-30 483 45.5)"/>
<ellipse cx="184" cy="476" rx="3.5" ry="2.2" transform="rotate(-20 184 476)"/>
<ellipse cx="192" cy="482" rx="3.0" ry="2.2" transform="rotate(30 192 482)"/>
<ellipse cx="198" cy="490" rx="3.0" ry="2.0" transform="rotate(40 198 490)"/>
<ellipse cx="203" cy="497" rx="2.6" ry="1.8" transform="rotate(50 203 497)"/>
<ellipse cx="200" cy="505" rx="1.6" ry="3.2" transform="rotate(15 200 505)"/>
<ellipse cx="174.5" cy="545" rx="2.8" ry="5" transform="rotate(20 174.5 545)"/>
<ellipse cx="166" cy="560.5" rx="5" ry="3.6" transform="rotate(-15 166 560.5)"/>
<ellipse cx="146.5" cy="562" rx="3.6" ry="3.2" transform="rotate(0 146.5 562)"/>
<ellipse cx="147.5" cy="543.5" rx="1.5" ry="2.3" transform="rotate(20 147.5 543.5)"/>
<ellipse cx="400.3" cy="255.5" rx="2.4" ry="3.4" transform="rotate(0 400.3 255.5)"/>
<ellipse cx="433.5" cy="355.5" rx="2.0" ry="4.2" transform="rotate(-30 433.5 355.5)"/>
<ellipse cx="371.7" cy="507.6" rx="1.3" ry="1.3" transform="rotate(0 371.7 507.6)"/>
<ellipse cx="271.3" cy="182.1" rx="1.2" ry="1.2" transform="rotate(0 271.3 182.1)"/>
<ellipse cx="496.5" cy="640" rx="1.8" ry="2.6" transform="rotate(0 496.5 640)"/>
</g>
<path d="M190.6 241.2L192.5 241.9L192.8 245.9L193.5 246.8L195.2 249.1L195.4 250.6L198.2 250.7L198.3 253.3L199.3 255.8L202.7 256.1L202.5 256.9L205.6 259.5L206.3 259.8L208.5 261.9L210.0 263.1L211.3 263.9L213.3 266.9L214.7 269.0L216.1 272.5L213.2 273.0L213.9 275.0L212.5 276.5L210.4 278.9L208.3 279.7L207.6 280.6L206.7 283.0L206.1 285.5L204.3 286.7L205.6 288.0L208.0 289.6L208.4 292.7L209.8 293.3L213.3 294.8L213.6 296.4L216.2 298.3L217.8 301.1L221.0 301.2L220.8 303.2L223.5 305.4L225.6 306.7L226.0 308.7L229.1 308.9L229.4 309.8L232.1 311.7L233.4 313.2L235.1 315.6L234.8 317.6L235.7 319.1L236.0 322.3L234.2 324.8L232.1 326.8L229.9 327.5L228.0 326.3L225.7 328.2L223.3 328.5L221.3 329.3L219.1 329.9L219.0 333.0L218.4 335.1L217.3 336.0L216.6 338.8L214.3 340.4L213.8 341.8L213.5 342.9L214.4 346.1L214.6 348.8L215.5 349.6L216.5 351.1L216.3 353.3L217.7 355.1L218.9 358.2L219.4 360.5L220.1 362.5L221.8 365.5L222.6 366.7L223.0 369.2L225.1 369.7L225.1 371.4L226.7 372.5L228.4 373.5L230.0 373.7L232.1 374.0L234.3 375.2L236.7 374.0L237.8 374.7L240.0 375.0L243.3 373.7L245.3 375.0L246.0 374.0L249.5 376.9L249.5 377.0L250.2 378.7L251.6 380.6L251.8 381.6L255.2 385.0L255.6 386.1L255.5 387.3L257.2 389.8L256.9 391.7L258.1 393.8L259.1 397.0L258.0 399.0L258.4 400.0L258.8 402.5L258.8 405.0L258.5 406.8L258.1 407.8L256.0 410.6L255.4 412.2L254.3 415.1L253.8 416.7L252.9 418.2L254.1 420.9L255.4 424.0L255.5 425.1L255.9 428.1L257.8 430.6L257.7 432.3L257.4 435.5L256.4 436.9L255.3 438.8L254.8 439.1L252.5 442.1L251.4 443.3L249.9 446.3L248.6 448.5L248.0 449.9L245.6 452.7L243.8 452.7L243.5 454.8L242.3 456.7L240.3 459.1L239.6 459.9L238.4 461.5L238.2 463.2L235.9 466.0L234.9 466.3L235.3 468.2L235.0 471.0L234.3 473.6L237.3 475.3L238.0 476.7L238.2 478.5L236.3 480.1L234.7 482.2L234.0 482.4L232.6 484.0L230.2 485.8L227.9 485.7L225.6 486.6L223.3 488.7L221.9 487.8L219.8 487.1L218.8 484.8L216.0 485.2L214.8 483.4L212.5 483.7L209.4 482.0L207.3 480.8L206.2 480.7L202.9 478.5L202.4 478.4L199.3 476.7L197.3 477.2L194.3 476.1L193.6 474.8L192.1 472.1L189.1 471.7L187.5 469.7L187.9 468.4L190.2 466.2L190.5 466.2L191.7 462.8L192.7 461.3L193.0 457.9L194.8 456.7L194.1 454.9L194.9 452.3L195.0 450.3L195.1 447.6L194.7 446.5L192.9 443.8L192.5 441.3L192.3 440.0L190.8 437.0L191.0 434.4L191.9 432.7L190.9 429.6L190.9 426.8L190.2 425.7L189.0 423.8L190.1 421.1L190.0 419.6L189.2 417.4L189.1 415.5L186.5 413.3L185.4 412.0L184.0 411.9L182.5 409.9L179.0 410.0L181.1 407.8L183.9 406.4L186.1 406.6L187.2 403.5L188.2 403.6L189.4 402.4L191.3 399.9L192.7 398.5L192.7 394.9L195.2 393.4L194.0 391.7L193.2 389.9L193.4 386.7L192.1 385.4L190.7 382.7L190.6 380.3L189.8 378.6L188.5 377.1L188.2 374.2L186.0 373.4L186.0 370.7L184.1 369.7L186.9 368.0L186.0 367.0L187.6 365.1L188.4 363.4L189.5 361.0L189.3 360.9L189.9 358.2L190.5 355.5L188.9 353.8L189.2 351.5L187.9 351.0L187.1 348.6L184.7 346.3L183.6 345.8L181.5 344.6L179.9 343.6L180.4 340.9L178.9 339.6L177.5 338.5L175.6 335.8L174.9 334.8L173.9 332.3L174.4 330.6L172.3 327.6L171.3 326.2L170.6 323.8L168.2 322.3L165.6 321.1L163.2 319.4L162.9 316.2L163.1 314.4L164.2 311.3L165.2 310.3L166.0 308.4L166.6 307.1L167.0 304.4L169.3 303.6L168.3 302.4L170.4 299.0L169.5 297.0L169.3 295.6L170.9 293.4L172.6 292.3L174.6 292.6L174.5 295.0L176.6 297.3L179.1 298.0L179.5 299.4L180.8 299.4L183.1 297.7L185.4 294.9L187.3 294.1L188.3 292.7L189.3 290.8L191.3 290.3L192.8 287.1L194.0 287.2L196.3 285.8L198.1 283.7L199.6 281.9L201.7 280.7L201.0 277.4L200.9 274.9L199.6 273.6L199.1 272.7L198.2 269.5L195.1 267.7L195.0 267.4L194.2 265.3L192.0 263.4L190.6 259.9L189.9 258.4L188.5 255.7L187.9 254.8L187.7 253.4L186.2 252.0L184.9 250.1L182.7 249.1L184.8 247.3L184.8 245.8L185.7 244.4L188.1 242.5L190.0 240.9Z" fill="#826291" stroke="#111" stroke-width="2.8" stroke-linejoin="round"/>
<path d="M204.3 286.7L206.5 286.3L208.4 283.6L209.4 283.9L211.6 283.2L214.3 281.9L216.9 281.6L219.1 280.4L221.1 280.4L223.6 278.4L222.5 277.0L224.6 274.4L223.8 273.0L224.0 269.9L222.7 267.6L221.5 266.3L221.8 263.3L220.4 262.0L220.6 260.2L220.2 257.1L218.6 255.8L217.4 252.5L217.3 251.9L216.0 250.5L213.7 248.1L215.5 245.8L217.8 244.1L219.5 245.4L222.1 243.8L225.1 243.3L227.0 242.5L228.3 240.6L229.3 238.2L231.1 238.5L233.8 237.0L236.1 234.3L237.3 234.2L238.3 233.0L240.2 231.4L240.1 233.1L241.7 234.8L241.5 235.7L244.5 238.9L245.9 240.7L245.7 241.0L248.0 243.2L249.1 244.7L250.4 246.5L251.5 248.9L250.8 251.4L250.9 252.5L251.0 255.5L249.1 256.8L248.1 260.2L248.3 261.7L245.6 264.1L245.3 264.2L244.3 266.8L242.5 268.5L242.6 271.9L240.9 273.2L240.2 276.4L239.8 277.5L238.8 278.8L238.6 281.9L238.0 283.8L237.4 286.1L237.3 288.2L236.7 289.3L236.4 292.1L236.9 293.8L238.3 295.8L237.4 299.3L238.9 300.7L240.2 303.0L240.3 305.5L240.1 307.6L240.8 310.2L242.1 310.3L245.4 309.7L248.1 310.4L248.6 310.0L250.5 309.9L254.1 310.4L256.1 309.8L257.8 310.0L260.4 311.0L261.8 309.5L264.2 310.3L267.9 311.2L269.6 309.3L270.9 308.8L271.5 307.1L273.2 305.4L275.5 304.3L277.8 301.9L279.8 299.9L281.6 299.9L283.2 299.2L284.9 296.6L286.0 294.7L287.8 292.1L288.0 290.7L289.3 289.3L292.2 286.6L294.4 285.2L295.8 284.4L297.2 282.3L299.0 279.9L301.2 278.3L303.4 277.0L305.0 274.6L307.3 274.3L309.6 274.0L311.8 273.4L313.5 272.3L315.4 271.5L317.7 272.5L320.1 270.2L321.6 269.2L323.6 269.5L326.4 269.1L328.8 269.6L329.8 271.1L332.1 273.0L333.2 273.3L334.9 275.6L337.7 276.4L337.6 277.7L338.8 279.9L340.2 282.9L340.3 284.2L340.8 287.2L342.5 289.2L342.9 290.7L341.2 293.9L339.8 295.2L338.5 297.2L337.9 297.7L337.3 300.8L336.9 302.9L337.0 304.2L338.9 307.2L339.7 308.5L341.1 308.3L344.3 309.8L345.4 307.8L346.7 305.5L347.5 304.6L347.4 306.6L348.8 309.3L349.3 309.9L347.6 312.5L348.3 314.9L346.7 317.0L347.5 320.2L346.7 322.2L348.3 324.2L349.4 327.3L349.5 328.4L351.2 328.2L353.2 330.1L355.2 328.6L356.5 327.7L357.6 326.9L359.7 324.2L362.4 324.1L364.4 323.4L365.4 320.3L366.7 320.3L368.9 319.7L371.1 317.6L371.1 318.9L372.9 321.1L372.6 323.0L373.0 324.7L372.4 328.1L372.0 331.1L369.9 332.6L368.2 333.4L366.6 334.1L365.8 336.2L364.5 337.2L362.1 338.6L359.6 339.2L358.1 340.9L356.8 343.0L354.8 342.5L352.6 344.7L351.4 346.9L350.8 346.4L349.4 348.4L346.9 350.1L346.1 352.6L345.4 352.7L345.1 355.5L344.6 358.4L344.1 359.4L345.2 360.8L343.0 363.5L341.7 365.7L341.2 367.9L339.3 370.7L337.6 371.8L337.0 374.9L336.6 375.7L335.9 377.9L335.5 380.8L335.9 382.9L335.4 384.2L334.4 386.4L335.4 388.8L333.1 390.9L334.4 394.4L332.7 394.1L330.1 395.5L327.8 397.1L325.0 395.5L323.1 397.0L321.1 398.0L319.0 398.8L316.9 399.9L314.9 401.3L312.4 401.9L311.1 403.1L310.1 404.7L308.4 404.8L306.6 406.7L305.2 409.5L304.6 409.1L302.2 411.2L299.9 412.5L299.4 410.9L299.2 408.9L296.6 406.9L294.1 403.7L293.7 403.5L291.3 401.8L290.7 401.4L287.7 400.5L287.6 399.2L284.2 399.2L284.4 397.2L281.9 400.7L283.3 402.4L280.7 403.7L278.4 404.0L276.4 406.1L274.5 407.4L272.7 407.2L270.7 408.2L267.9 407.8L266.1 408.1L262.9 407.5L262.0 407.4L258.8 405.0L258.8 402.5L258.4 400.0L258.0 399.0L259.1 397.0L258.1 393.8L256.9 391.7L257.2 389.8L255.5 387.3L255.6 386.1L255.2 385.0L251.8 381.6L251.6 380.6L250.2 378.7L249.5 377.0L249.5 376.9L246.0 374.0L245.3 375.0L243.3 373.7L240.0 375.0L237.8 374.7L236.7 374.0L234.3 375.2L232.1 374.0L230.0 373.7L228.4 373.5L226.7 372.5L225.1 371.4L225.1 369.7L223.0 369.2L222.6 366.7L221.8 365.5L220.1 362.5L219.4 360.5L218.9 358.2L217.7 355.1L216.3 353.3L216.5 351.1L215.5 349.6L214.6 348.8L214.4 346.1L213.5 342.9L213.8 341.8L214.3 340.4L216.6 338.8L217.3 336.0L218.4 335.1L219.0 333.0L219.1 329.9L221.3 329.3L223.3 328.5L225.7 328.2L228.0 326.3L229.9 327.5L232.1 326.8L234.2 324.8L236.0 322.3L235.7 319.1L234.8 317.6L235.1 315.6L233.4 313.2L232.1 311.7L229.4 309.8L229.1 308.9L226.0 308.7L225.6 306.7L223.5 305.4L220.8 303.2L221.0 301.2L217.8 301.1L216.2 298.3L213.6 296.4L213.3 294.8L209.8 293.3L208.4 292.7L208.0 289.6L205.6 288.0L205.0 286.7Z" fill="#0f8a42" stroke="#111" stroke-width="2.8" stroke-linejoin="round"/>
<text x="104" y="193" font-size="33" textLength="150" lengthAdjust="spacingAndGlyphs" fill="#231f20" stroke="#231f20" stroke-width="0.5">Antioquia</text>
<text x="55" y="291" font-size="33" textLength="102" lengthAdjust="spacingAndGlyphs" fill="#231f20" stroke="#231f20" stroke-width="0.5">Chocó</text>
<text x="56" y="370.5" font-size="27" textLength="107.5" lengthAdjust="spacingAndGlyphs" fill="#231f20" stroke="#231f20" stroke-width="0.4">Medellín</text>
<text x="63.5" y="417.5" font-size="27" textLength="94" lengthAdjust="spacingAndGlyphs" fill="#231f20" stroke="#231f20" stroke-width="0.4">Quibdó</text>
<path d="M169.7 363.0L257.1 369.0" stroke="#4d4d4f" stroke-width="1.6" fill="none"/>
<path d="M267.6 369.7L256.8 373.6L257.4 364.4Z" fill="#4d4d4f"/>
<path d="M167.2 410.5L207.3 403.4" stroke="#4d4d4f" stroke-width="1.6" fill="none"/>
<path d="M217.6 401.6L208.1 408.0L206.5 398.9Z" fill="#4d4d4f"/>
<path d="M281.2 366.4L283.5 372.5L289.9 372.8L284.9 376.8L286.6 383.0L281.2 379.5L275.8 383.0L277.5 376.8L272.5 372.8L278.9 372.5Z" fill="#f7a823"/>
<path d="M227.0 391.4L229.3 397.5L235.7 397.8L230.7 401.8L232.4 408.0L227.0 404.5L221.6 408.0L223.3 401.8L218.3 397.8L224.7 397.5Z" fill="#f7a823"/>
</svg>
</body>
</html>
